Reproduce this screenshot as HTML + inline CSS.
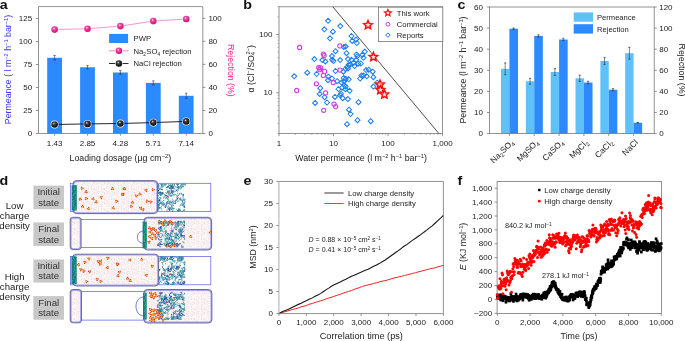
<!DOCTYPE html>
<html><head><meta charset="utf-8"><style>
html,body{margin:0;padding:0;background:#fff;overflow:hidden}
svg{display:block;will-change:transform}
text{font-family:"Liberation Sans", sans-serif}
</style></head><body>
<svg width="685" height="341" viewBox="0 0 685 341" font-family="Liberation Sans, sans-serif">
<rect width="685" height="341" fill="#fff"/>
<rect x="47.20" y="57.78" width="14.80" height="75.72" fill="#2a8afe" />
<line x1="54.60" y1="55.49" x2="54.60" y2="60.08" stroke="#333" stroke-width="0.6" />
<line x1="53.40" y1="55.49" x2="55.80" y2="55.49" stroke="#333" stroke-width="0.6" />
<line x1="53.40" y1="60.08" x2="55.80" y2="60.08" stroke="#333" stroke-width="0.6" />
<rect x="80.10" y="67.26" width="14.80" height="66.24" fill="#2a8afe" />
<line x1="87.50" y1="65.61" x2="87.50" y2="68.91" stroke="#333" stroke-width="0.6" />
<line x1="86.30" y1="65.61" x2="88.70" y2="65.61" stroke="#333" stroke-width="0.6" />
<line x1="86.30" y1="68.91" x2="88.70" y2="68.91" stroke="#333" stroke-width="0.6" />
<rect x="113.00" y="72.50" width="14.80" height="61.00" fill="#2a8afe" />
<line x1="120.40" y1="70.67" x2="120.40" y2="74.34" stroke="#333" stroke-width="0.6" />
<line x1="119.20" y1="70.67" x2="121.60" y2="70.67" stroke="#333" stroke-width="0.6" />
<line x1="119.20" y1="74.34" x2="121.60" y2="74.34" stroke="#333" stroke-width="0.6" />
<rect x="145.90" y="82.90" width="14.80" height="50.60" fill="#2a8afe" />
<line x1="153.30" y1="80.88" x2="153.30" y2="84.92" stroke="#333" stroke-width="0.6" />
<line x1="152.10" y1="80.88" x2="154.50" y2="80.88" stroke="#333" stroke-width="0.6" />
<line x1="152.10" y1="84.92" x2="154.50" y2="84.92" stroke="#333" stroke-width="0.6" />
<rect x="178.80" y="95.78" width="14.80" height="37.72" fill="#2a8afe" />
<line x1="186.20" y1="93.21" x2="186.20" y2="98.35" stroke="#333" stroke-width="0.6" />
<line x1="185.00" y1="93.21" x2="187.40" y2="93.21" stroke="#333" stroke-width="0.6" />
<line x1="185.00" y1="98.35" x2="187.40" y2="98.35" stroke="#333" stroke-width="0.6" />
<path d="M38.5,133.5 V6.6 H202.8 V133.5 H38.5" fill="none" stroke="#777" stroke-width="0.8"/>
<line x1="35.90" y1="133.50" x2="38.50" y2="133.50" stroke="#777" stroke-width="0.8" />
<text transform="translate(32.20,136.11) scale(1.1,1)" font-size="7.3" text-anchor="end" fill="#222" >0</text>
<line x1="35.90" y1="110.50" x2="38.50" y2="110.50" stroke="#777" stroke-width="0.8" />
<text transform="translate(32.20,113.11) scale(1.1,1)" font-size="7.3" text-anchor="end" fill="#222" >25</text>
<line x1="35.90" y1="87.50" x2="38.50" y2="87.50" stroke="#777" stroke-width="0.8" />
<text transform="translate(32.20,90.11) scale(1.1,1)" font-size="7.3" text-anchor="end" fill="#222" >50</text>
<line x1="35.90" y1="64.50" x2="38.50" y2="64.50" stroke="#777" stroke-width="0.8" />
<text transform="translate(32.20,67.11) scale(1.1,1)" font-size="7.3" text-anchor="end" fill="#222" >75</text>
<line x1="35.90" y1="41.50" x2="38.50" y2="41.50" stroke="#777" stroke-width="0.8" />
<text transform="translate(32.20,44.11) scale(1.1,1)" font-size="7.3" text-anchor="end" fill="#222" >100</text>
<line x1="35.90" y1="18.50" x2="38.50" y2="18.50" stroke="#777" stroke-width="0.8" />
<text transform="translate(32.20,21.11) scale(1.1,1)" font-size="7.3" text-anchor="end" fill="#222" >125</text>
<line x1="202.80" y1="133.50" x2="205.40" y2="133.50" stroke="#777" stroke-width="0.8" />
<text transform="translate(208.40,136.11) scale(1.1,1)" font-size="7.3" text-anchor="start" fill="#222" >0</text>
<line x1="202.80" y1="110.46" x2="205.40" y2="110.46" stroke="#777" stroke-width="0.8" />
<text transform="translate(208.40,113.07) scale(1.1,1)" font-size="7.3" text-anchor="start" fill="#222" >20</text>
<line x1="202.80" y1="87.42" x2="205.40" y2="87.42" stroke="#777" stroke-width="0.8" />
<text transform="translate(208.40,90.03) scale(1.1,1)" font-size="7.3" text-anchor="start" fill="#222" >40</text>
<line x1="202.80" y1="64.38" x2="205.40" y2="64.38" stroke="#777" stroke-width="0.8" />
<text transform="translate(208.40,66.99) scale(1.1,1)" font-size="7.3" text-anchor="start" fill="#222" >60</text>
<line x1="202.80" y1="41.34" x2="205.40" y2="41.34" stroke="#777" stroke-width="0.8" />
<text transform="translate(208.40,43.95) scale(1.1,1)" font-size="7.3" text-anchor="start" fill="#222" >80</text>
<line x1="202.80" y1="18.30" x2="205.40" y2="18.30" stroke="#777" stroke-width="0.8" />
<text transform="translate(208.40,20.91) scale(1.1,1)" font-size="7.3" text-anchor="start" fill="#222" >100</text>
<line x1="54.60" y1="133.50" x2="54.60" y2="135.70" stroke="#777" stroke-width="0.8" />
<text transform="translate(54.60,146.01) scale(1.1,1)" font-size="7.3" text-anchor="middle" fill="#222" >1.43</text>
<line x1="87.50" y1="133.50" x2="87.50" y2="135.70" stroke="#777" stroke-width="0.8" />
<text transform="translate(87.50,146.01) scale(1.1,1)" font-size="7.3" text-anchor="middle" fill="#222" >2.85</text>
<line x1="120.40" y1="133.50" x2="120.40" y2="135.70" stroke="#777" stroke-width="0.8" />
<text transform="translate(120.40,146.01) scale(1.1,1)" font-size="7.3" text-anchor="middle" fill="#222" >4.28</text>
<line x1="153.30" y1="133.50" x2="153.30" y2="135.70" stroke="#777" stroke-width="0.8" />
<text transform="translate(153.30,146.01) scale(1.1,1)" font-size="7.3" text-anchor="middle" fill="#222" >5.71</text>
<line x1="186.20" y1="133.50" x2="186.20" y2="135.70" stroke="#777" stroke-width="0.8" />
<text transform="translate(186.20,146.01) scale(1.1,1)" font-size="7.3" text-anchor="middle" fill="#222" >7.14</text>
<polyline points="54.6,29.6 87.5,28.7 120.4,26.1 153.3,21.1 186.2,19.0" fill="none" stroke="#f07cc0" stroke-width="0.8"/>
<polyline points="54.6,124.5 87.5,123.9 120.4,123.5 153.3,122.6 186.2,121.4" fill="none" stroke="#111" stroke-width="0.9"/>
<defs>
<radialGradient id="gp" cx="0.4" cy="0.35" r="0.7"><stop offset="0" stop-color="#fff"/><stop offset="0.25" stop-color="#f04fa8"/><stop offset="1" stop-color="#d0006a"/></radialGradient>
<radialGradient id="gb" cx="0.4" cy="0.35" r="0.7"><stop offset="0" stop-color="#eee"/><stop offset="0.25" stop-color="#444"/><stop offset="1" stop-color="#000"/></radialGradient>
</defs>
<circle cx="54.6" cy="29.6" r="3.3" fill="url(#gp)" stroke="#fff" stroke-width="1.2" paint-order="stroke"/>
<circle cx="87.5" cy="28.7" r="3.3" fill="url(#gp)" stroke="#fff" stroke-width="1.2" paint-order="stroke"/>
<circle cx="120.4" cy="26.1" r="3.3" fill="url(#gp)" stroke="#fff" stroke-width="1.2" paint-order="stroke"/>
<circle cx="153.3" cy="21.1" r="3.3" fill="url(#gp)" stroke="#fff" stroke-width="1.2" paint-order="stroke"/>
<circle cx="186.2" cy="19.0" r="3.3" fill="url(#gp)" stroke="#fff" stroke-width="1.2" paint-order="stroke"/>
<circle cx="54.6" cy="124.5" r="3.3" fill="url(#gb)" stroke="#fff" stroke-width="1.2" paint-order="stroke"/>
<circle cx="87.5" cy="123.9" r="3.3" fill="url(#gb)" stroke="#fff" stroke-width="1.2" paint-order="stroke"/>
<circle cx="120.4" cy="123.5" r="3.3" fill="url(#gb)" stroke="#fff" stroke-width="1.2" paint-order="stroke"/>
<circle cx="153.3" cy="122.6" r="3.3" fill="url(#gb)" stroke="#fff" stroke-width="1.2" paint-order="stroke"/>
<circle cx="186.2" cy="121.4" r="3.3" fill="url(#gb)" stroke="#fff" stroke-width="1.2" paint-order="stroke"/>
<rect x="109.10" y="33.90" width="19.00" height="9.10" fill="#2a8afe" />
<text transform="translate(133.50,41.36) scale(1.0,1)" font-size="7.7" text-anchor="start" fill="#222" >PWP</text>
<line x1="109.00" y1="50.80" x2="128.50" y2="50.80" stroke="#f07cc0" stroke-width="0.9" />
<circle cx="118.9" cy="50.8" r="3.3" fill="url(#gp)" stroke="#fff" stroke-width="1.2" paint-order="stroke"/>
<text x="133.50" y="53.60" font-size="7.7" text-anchor="start" fill="#222" >Na<tspan dy="2.3" font-size="4.8">2</tspan><tspan dy="-2.3" dx="0.3">SO</tspan><tspan dy="2.3" font-size="4.8">4</tspan><tspan dy="-2.3" dx="0.3"> rejection</tspan></text>
<line x1="109.00" y1="63.50" x2="128.50" y2="63.50" stroke="#111" stroke-width="0.9" />
<circle cx="118.9" cy="63.5" r="3.3" fill="url(#gb)" stroke="#fff" stroke-width="1.2" paint-order="stroke"/>
<text x="133.50" y="66.10" font-size="7.7" text-anchor="start" fill="#222" >NaCl rejection</text>
<text transform="translate(11.2,69.5) rotate(-90)" font-size="8.8" text-anchor="middle" fill="#3535f0">Permeance ( l m<tspan dy="-3.3" font-size="5.7">−2</tspan><tspan dy="3.3"> h</tspan><tspan dy="-3.3" font-size="5.7">−1</tspan><tspan dy="3.3"> bar</tspan><tspan dy="-3.3" font-size="5.7">−1</tspan><tspan dy="3.3">)</tspan></text>
<text transform="translate(227.8,70.4) rotate(90)" font-size="8.8" text-anchor="middle" fill="#f0208c">Rejection (%)</text>
<text x="120.3" y="161.2" font-size="8.8" text-anchor="middle" fill="#222">Loading dosage (μg cm<tspan dy="-3.3" font-size="5.7">−2</tspan><tspan dy="3.3">)</tspan></text>
<text transform="translate(-0.2,8.6) scale(1.15,1)" font-size="12.4" font-weight="bold" fill="#111">a</text>
<line x1="295.42" y1="133.40" x2="295.42" y2="134.80" stroke="#777" stroke-width="0.6" />
<line x1="305.02" y1="133.40" x2="305.02" y2="134.80" stroke="#777" stroke-width="0.6" />
<line x1="311.83" y1="133.40" x2="311.83" y2="134.80" stroke="#777" stroke-width="0.6" />
<line x1="317.11" y1="133.40" x2="317.11" y2="134.80" stroke="#777" stroke-width="0.6" />
<line x1="321.43" y1="133.40" x2="321.43" y2="134.80" stroke="#777" stroke-width="0.6" />
<line x1="325.08" y1="133.40" x2="325.08" y2="134.80" stroke="#777" stroke-width="0.6" />
<line x1="328.25" y1="133.40" x2="328.25" y2="134.80" stroke="#777" stroke-width="0.6" />
<line x1="331.03" y1="133.40" x2="331.03" y2="134.80" stroke="#777" stroke-width="0.6" />
<line x1="349.95" y1="133.40" x2="349.95" y2="134.80" stroke="#777" stroke-width="0.6" />
<line x1="359.55" y1="133.40" x2="359.55" y2="134.80" stroke="#777" stroke-width="0.6" />
<line x1="366.36" y1="133.40" x2="366.36" y2="134.80" stroke="#777" stroke-width="0.6" />
<line x1="371.64" y1="133.40" x2="371.64" y2="134.80" stroke="#777" stroke-width="0.6" />
<line x1="375.96" y1="133.40" x2="375.96" y2="134.80" stroke="#777" stroke-width="0.6" />
<line x1="379.61" y1="133.40" x2="379.61" y2="134.80" stroke="#777" stroke-width="0.6" />
<line x1="382.78" y1="133.40" x2="382.78" y2="134.80" stroke="#777" stroke-width="0.6" />
<line x1="385.56" y1="133.40" x2="385.56" y2="134.80" stroke="#777" stroke-width="0.6" />
<line x1="404.48" y1="133.40" x2="404.48" y2="134.80" stroke="#777" stroke-width="0.6" />
<line x1="414.08" y1="133.40" x2="414.08" y2="134.80" stroke="#777" stroke-width="0.6" />
<line x1="420.89" y1="133.40" x2="420.89" y2="134.80" stroke="#777" stroke-width="0.6" />
<line x1="426.17" y1="133.40" x2="426.17" y2="134.80" stroke="#777" stroke-width="0.6" />
<line x1="430.49" y1="133.40" x2="430.49" y2="134.80" stroke="#777" stroke-width="0.6" />
<line x1="434.14" y1="133.40" x2="434.14" y2="134.80" stroke="#777" stroke-width="0.6" />
<line x1="437.31" y1="133.40" x2="437.31" y2="134.80" stroke="#777" stroke-width="0.6" />
<line x1="440.09" y1="133.40" x2="440.09" y2="134.80" stroke="#777" stroke-width="0.6" />
<line x1="279.00" y1="133.40" x2="279.00" y2="136.20" stroke="#777" stroke-width="0.8" />
<line x1="333.53" y1="133.40" x2="333.53" y2="136.20" stroke="#777" stroke-width="0.8" />
<line x1="388.06" y1="133.40" x2="388.06" y2="136.20" stroke="#777" stroke-width="0.8" />
<line x1="442.59" y1="133.40" x2="442.59" y2="136.20" stroke="#777" stroke-width="0.8" />
<line x1="277.60" y1="133.55" x2="279.00" y2="133.55" stroke="#777" stroke-width="0.6" />
<line x1="277.60" y1="123.28" x2="279.00" y2="123.28" stroke="#777" stroke-width="0.6" />
<line x1="277.60" y1="116.00" x2="279.00" y2="116.00" stroke="#777" stroke-width="0.6" />
<line x1="277.60" y1="110.35" x2="279.00" y2="110.35" stroke="#777" stroke-width="0.6" />
<line x1="277.60" y1="105.73" x2="279.00" y2="105.73" stroke="#777" stroke-width="0.6" />
<line x1="277.60" y1="101.83" x2="279.00" y2="101.83" stroke="#777" stroke-width="0.6" />
<line x1="277.60" y1="98.45" x2="279.00" y2="98.45" stroke="#777" stroke-width="0.6" />
<line x1="277.60" y1="95.47" x2="279.00" y2="95.47" stroke="#777" stroke-width="0.6" />
<line x1="277.60" y1="75.25" x2="279.00" y2="75.25" stroke="#777" stroke-width="0.6" />
<line x1="277.60" y1="64.98" x2="279.00" y2="64.98" stroke="#777" stroke-width="0.6" />
<line x1="277.60" y1="57.70" x2="279.00" y2="57.70" stroke="#777" stroke-width="0.6" />
<line x1="277.60" y1="52.05" x2="279.00" y2="52.05" stroke="#777" stroke-width="0.6" />
<line x1="277.60" y1="47.43" x2="279.00" y2="47.43" stroke="#777" stroke-width="0.6" />
<line x1="277.60" y1="43.53" x2="279.00" y2="43.53" stroke="#777" stroke-width="0.6" />
<line x1="277.60" y1="40.15" x2="279.00" y2="40.15" stroke="#777" stroke-width="0.6" />
<line x1="277.60" y1="37.17" x2="279.00" y2="37.17" stroke="#777" stroke-width="0.6" />
<line x1="277.60" y1="16.95" x2="279.00" y2="16.95" stroke="#777" stroke-width="0.6" />
<line x1="277.60" y1="6.68" x2="279.00" y2="6.68" stroke="#777" stroke-width="0.6" />
<line x1="276.20" y1="92.80" x2="279.00" y2="92.80" stroke="#777" stroke-width="0.8" />
<text transform="translate(272.50,95.41) scale(1.1,1)" font-size="7.3" text-anchor="end" fill="#222" >10</text>
<line x1="276.20" y1="34.50" x2="279.00" y2="34.50" stroke="#777" stroke-width="0.8" />
<text transform="translate(272.50,37.11) scale(1.1,1)" font-size="7.3" text-anchor="end" fill="#222" >100</text>
<text transform="translate(279.00,145.91) scale(1.1,1)" font-size="7.3" text-anchor="middle" fill="#222" >1</text>
<text transform="translate(333.53,145.91) scale(1.1,1)" font-size="7.3" text-anchor="middle" fill="#222" >10</text>
<text transform="translate(388.06,145.91) scale(1.1,1)" font-size="7.3" text-anchor="middle" fill="#222" >100</text>
<text transform="translate(442.59,145.91) scale(1.1,1)" font-size="7.3" text-anchor="middle" fill="#222" >1,000</text>
<rect x="279.0" y="6.8" width="163.60" height="126.60" fill="none" stroke="#777" stroke-width="0.8"/>
<line x1="332.8" y1="6.8" x2="438.8" y2="133.4" stroke="#222" stroke-width="0.8"/>
<path d="M328.1,18.3 L330.6,20.8 L328.1,23.3 L325.6,20.8 Z" fill="none" stroke="#1e7ff0" stroke-width="1.05"/>
<path d="M324.4,26.8 L326.9,29.3 L324.4,31.8 L321.9,29.3 Z" fill="none" stroke="#1e7ff0" stroke-width="1.05"/>
<path d="M332.9,29.2 L335.4,31.7 L332.9,34.2 L330.4,31.7 Z" fill="none" stroke="#1e7ff0" stroke-width="1.05"/>
<path d="M330.0,35.8 L332.5,38.3 L330.0,40.8 L327.5,38.3 Z" fill="none" stroke="#1e7ff0" stroke-width="1.05"/>
<path d="M343.8,44.4 L346.3,46.9 L343.8,49.4 L341.3,46.9 Z" fill="none" stroke="#1e7ff0" stroke-width="1.05"/>
<path d="M335.5,48.7 L338.0,51.2 L335.5,53.7 L333.0,51.2 Z" fill="none" stroke="#1e7ff0" stroke-width="1.05"/>
<path d="M346.5,50.7 L349.0,53.2 L346.5,55.7 L344.0,53.2 Z" fill="none" stroke="#1e7ff0" stroke-width="1.05"/>
<path d="M314.4,56.6 L316.9,59.1 L314.4,61.6 L311.9,59.1 Z" fill="none" stroke="#1e7ff0" stroke-width="1.05"/>
<path d="M332.0,53.6 L334.5,56.1 L332.0,58.6 L329.5,56.1 Z" fill="none" stroke="#1e7ff0" stroke-width="1.05"/>
<path d="M322.3,57.6 L324.8,60.1 L322.3,62.6 L319.8,60.1 Z" fill="none" stroke="#1e7ff0" stroke-width="1.05"/>
<path d="M325.4,58.9 L327.9,61.4 L325.4,63.9 L322.9,61.4 Z" fill="none" stroke="#1e7ff0" stroke-width="1.05"/>
<path d="M332.2,57.3 L334.7,59.8 L332.2,62.3 L329.7,59.8 Z" fill="none" stroke="#1e7ff0" stroke-width="1.05"/>
<path d="M340.1,57.6 L342.6,60.1 L340.1,62.6 L337.6,60.1 Z" fill="none" stroke="#1e7ff0" stroke-width="1.05"/>
<path d="M348.0,56.6 L350.5,59.1 L348.0,61.6 L345.5,59.1 Z" fill="none" stroke="#1e7ff0" stroke-width="1.05"/>
<path d="M307.2,70.2 L309.7,72.7 L307.2,75.2 L304.7,72.7 Z" fill="none" stroke="#1e7ff0" stroke-width="1.05"/>
<path d="M294.2,73.8 L296.7,76.3 L294.2,78.8 L291.7,76.3 Z" fill="none" stroke="#1e7ff0" stroke-width="1.05"/>
<path d="M316.6,71.5 L319.1,74.0 L316.6,76.5 L314.1,74.0 Z" fill="none" stroke="#1e7ff0" stroke-width="1.05"/>
<path d="M335.5,68.5 L338.0,71.0 L335.5,73.5 L333.0,71.0 Z" fill="none" stroke="#1e7ff0" stroke-width="1.05"/>
<path d="M343.4,69.2 L345.9,71.7 L343.4,74.2 L340.9,71.7 Z" fill="none" stroke="#1e7ff0" stroke-width="1.05"/>
<path d="M345.4,66.5 L347.9,69.0 L345.4,71.5 L342.9,69.0 Z" fill="none" stroke="#1e7ff0" stroke-width="1.05"/>
<path d="M348.0,65.9 L350.5,68.4 L348.0,70.9 L345.5,68.4 Z" fill="none" stroke="#1e7ff0" stroke-width="1.05"/>
<path d="M348.7,62.3 L351.2,64.8 L348.7,67.3 L346.2,64.8 Z" fill="none" stroke="#1e7ff0" stroke-width="1.05"/>
<path d="M328.3,74.2 L330.8,76.7 L328.3,79.2 L325.8,76.7 Z" fill="none" stroke="#1e7ff0" stroke-width="1.05"/>
<path d="M328.0,77.7 L330.5,80.2 L328.0,82.7 L325.5,80.2 Z" fill="none" stroke="#1e7ff0" stroke-width="1.05"/>
<path d="M332.0,76.0 L334.5,78.5 L332.0,81.0 L329.5,78.5 Z" fill="none" stroke="#1e7ff0" stroke-width="1.05"/>
<path d="M337.2,78.7 L339.7,81.2 L337.2,83.7 L334.7,81.2 Z" fill="none" stroke="#1e7ff0" stroke-width="1.05"/>
<path d="M341.5,80.0 L344.0,82.5 L341.5,85.0 L339.0,82.5 Z" fill="none" stroke="#1e7ff0" stroke-width="1.05"/>
<path d="M343.8,75.5 L346.3,78.0 L343.8,80.5 L341.3,78.0 Z" fill="none" stroke="#1e7ff0" stroke-width="1.05"/>
<path d="M344.1,79.1 L346.6,81.6 L344.1,84.1 L341.6,81.6 Z" fill="none" stroke="#1e7ff0" stroke-width="1.05"/>
<path d="M348.7,76.8 L351.2,79.3 L348.7,81.8 L346.2,79.3 Z" fill="none" stroke="#1e7ff0" stroke-width="1.05"/>
<path d="M340.3,23.6 L342.8,26.1 L340.3,28.6 L337.8,26.1 Z" fill="none" stroke="#1e7ff0" stroke-width="1.05"/>
<path d="M351.5,33.5 L354.0,36.0 L351.5,38.5 L349.0,36.0 Z" fill="none" stroke="#1e7ff0" stroke-width="1.05"/>
<path d="M352.2,38.4 L354.7,40.9 L352.2,43.4 L349.7,40.9 Z" fill="none" stroke="#1e7ff0" stroke-width="1.05"/>
<path d="M356.1,37.1 L358.6,39.6 L356.1,42.1 L353.6,39.6 Z" fill="none" stroke="#1e7ff0" stroke-width="1.05"/>
<path d="M356.8,40.5 L359.3,43.0 L356.8,45.5 L354.3,43.0 Z" fill="none" stroke="#1e7ff0" stroke-width="1.05"/>
<path d="M345.7,44.1 L348.2,46.6 L345.7,49.1 L343.2,46.6 Z" fill="none" stroke="#1e7ff0" stroke-width="1.05"/>
<path d="M356.6,52.0 L359.1,54.5 L356.6,57.0 L354.1,54.5 Z" fill="none" stroke="#1e7ff0" stroke-width="1.05"/>
<path d="M364.8,49.1 L367.3,51.6 L364.8,54.1 L362.3,51.6 Z" fill="none" stroke="#1e7ff0" stroke-width="1.05"/>
<path d="M362.4,52.3 L364.9,54.8 L362.4,57.3 L359.9,54.8 Z" fill="none" stroke="#1e7ff0" stroke-width="1.05"/>
<path d="M363.5,55.3 L366.0,57.8 L363.5,60.3 L361.0,57.8 Z" fill="none" stroke="#1e7ff0" stroke-width="1.05"/>
<path d="M351.6,57.3 L354.1,59.8 L351.6,62.3 L349.1,59.8 Z" fill="none" stroke="#1e7ff0" stroke-width="1.05"/>
<path d="M356.2,57.3 L358.7,59.8 L356.2,62.3 L353.7,59.8 Z" fill="none" stroke="#1e7ff0" stroke-width="1.05"/>
<path d="M358.2,61.2 L360.7,63.7 L358.2,66.2 L355.7,63.7 Z" fill="none" stroke="#1e7ff0" stroke-width="1.05"/>
<path d="M360.8,61.0 L363.3,63.5 L360.8,66.0 L358.3,63.5 Z" fill="none" stroke="#1e7ff0" stroke-width="1.05"/>
<path d="M354.5,63.6 L357.0,66.1 L354.5,68.6 L352.0,66.1 Z" fill="none" stroke="#1e7ff0" stroke-width="1.05"/>
<path d="M366.1,67.6 L368.6,70.1 L366.1,72.6 L363.6,70.1 Z" fill="none" stroke="#1e7ff0" stroke-width="1.05"/>
<path d="M368.7,67.2 L371.2,69.7 L368.7,72.2 L366.2,69.7 Z" fill="none" stroke="#1e7ff0" stroke-width="1.05"/>
<path d="M372.7,69.2 L375.2,71.7 L372.7,74.2 L370.2,71.7 Z" fill="none" stroke="#1e7ff0" stroke-width="1.05"/>
<path d="M361.5,73.1 L364.0,75.6 L361.5,78.1 L359.0,75.6 Z" fill="none" stroke="#1e7ff0" stroke-width="1.05"/>
<path d="M363.5,72.9 L366.0,75.4 L363.5,77.9 L361.0,75.4 Z" fill="none" stroke="#1e7ff0" stroke-width="1.05"/>
<path d="M366.8,73.8 L369.3,76.3 L366.8,78.8 L364.3,76.3 Z" fill="none" stroke="#1e7ff0" stroke-width="1.05"/>
<path d="M360.2,76.0 L362.7,78.5 L360.2,81.0 L357.7,78.5 Z" fill="none" stroke="#1e7ff0" stroke-width="1.05"/>
<path d="M373.4,74.7 L375.9,77.2 L373.4,79.7 L370.9,77.2 Z" fill="none" stroke="#1e7ff0" stroke-width="1.05"/>
<path d="M345.7,76.4 L348.2,78.9 L345.7,81.4 L343.2,78.9 Z" fill="none" stroke="#1e7ff0" stroke-width="1.05"/>
<path d="M373.4,84.1 L375.9,86.6 L373.4,89.1 L370.9,86.6 Z" fill="none" stroke="#1e7ff0" stroke-width="1.05"/>
<path d="M349.6,88.3 L352.1,90.8 L349.6,93.3 L347.1,90.8 Z" fill="none" stroke="#1e7ff0" stroke-width="1.05"/>
<path d="M345.7,84.1 L348.2,86.6 L345.7,89.1 L343.2,86.6 Z" fill="none" stroke="#1e7ff0" stroke-width="1.05"/>
<path d="M347.9,96.6 L350.4,99.1 L347.9,101.6 L345.4,99.1 Z" fill="none" stroke="#1e7ff0" stroke-width="1.05"/>
<path d="M358.5,99.7 L361.0,102.2 L358.5,104.7 L356.0,102.2 Z" fill="none" stroke="#1e7ff0" stroke-width="1.05"/>
<path d="M349.0,107.2 L351.5,109.7 L349.0,112.2 L346.5,109.7 Z" fill="none" stroke="#1e7ff0" stroke-width="1.05"/>
<path d="M350.5,111.5 L353.0,114.0 L350.5,116.5 L348.0,114.0 Z" fill="none" stroke="#1e7ff0" stroke-width="1.05"/>
<path d="M357.5,117.7 L360.0,120.2 L357.5,122.7 L355.0,120.2 Z" fill="none" stroke="#1e7ff0" stroke-width="1.05"/>
<path d="M370.7,118.7 L373.2,121.2 L370.7,123.7 L368.2,121.2 Z" fill="none" stroke="#1e7ff0" stroke-width="1.05"/>
<path d="M347.0,121.7 L349.5,124.2 L347.0,126.7 L344.5,124.2 Z" fill="none" stroke="#1e7ff0" stroke-width="1.05"/>
<path d="M315.1,100.4 L317.6,102.9 L315.1,105.4 L312.6,102.9 Z" fill="none" stroke="#1e7ff0" stroke-width="1.05"/>
<path d="M327.0,100.0 L329.5,102.5 L327.0,105.0 L324.5,102.5 Z" fill="none" stroke="#1e7ff0" stroke-width="1.05"/>
<path d="M320.3,85.7 L322.8,88.2 L320.3,90.7 L317.8,88.2 Z" fill="none" stroke="#1e7ff0" stroke-width="1.05"/>
<path d="M319.7,91.4 L322.2,93.9 L319.7,96.4 L317.2,93.9 Z" fill="none" stroke="#1e7ff0" stroke-width="1.05"/>
<path d="M324.6,94.7 L327.1,97.2 L324.6,99.7 L322.1,97.2 Z" fill="none" stroke="#1e7ff0" stroke-width="1.05"/>
<path d="M334.9,94.4 L337.4,96.9 L334.9,99.4 L332.4,96.9 Z" fill="none" stroke="#1e7ff0" stroke-width="1.05"/>
<path d="M340.1,92.7 L342.6,95.2 L340.1,97.7 L337.6,95.2 Z" fill="none" stroke="#1e7ff0" stroke-width="1.05"/>
<path d="M342.8,95.7 L345.3,98.2 L342.8,100.7 L340.3,98.2 Z" fill="none" stroke="#1e7ff0" stroke-width="1.05"/>
<path d="M338.5,86.5 L341.0,89.0 L338.5,91.5 L336.0,89.0 Z" fill="none" stroke="#1e7ff0" stroke-width="1.05"/>
<path d="M342.1,85.2 L344.6,87.7 L342.1,90.2 L339.6,87.7 Z" fill="none" stroke="#1e7ff0" stroke-width="1.05"/>
<path d="M345.4,86.7 L347.9,89.2 L345.4,91.7 L342.9,89.2 Z" fill="none" stroke="#1e7ff0" stroke-width="1.05"/>
<path d="M344.4,82.8 L346.9,85.3 L344.4,87.8 L341.9,85.3 Z" fill="none" stroke="#1e7ff0" stroke-width="1.05"/>
<path d="M333.5,58.6 L336.0,61.1 L333.5,63.6 L331.0,61.1 Z" fill="none" stroke="#1e7ff0" stroke-width="1.05"/>
<path d="M357.3,53.7 L359.8,56.2 L357.3,58.7 L354.8,56.2 Z" fill="none" stroke="#1e7ff0" stroke-width="1.05"/>
<path d="M353.5,60.5 L356.0,63.0 L353.5,65.5 L351.0,63.0 Z" fill="none" stroke="#1e7ff0" stroke-width="1.05"/>
<path d="M350.3,61.9 L352.8,64.4 L350.3,66.9 L347.8,64.4 Z" fill="none" stroke="#1e7ff0" stroke-width="1.05"/>
<path d="M347.2,64.5 L349.7,67.0 L347.2,69.5 L344.7,67.0 Z" fill="none" stroke="#1e7ff0" stroke-width="1.05"/>
<path d="M340.9,91.2 L343.4,93.7 L340.9,96.2 L338.4,93.7 Z" fill="none" stroke="#1e7ff0" stroke-width="1.05"/>
<path d="M377.1,80.2 L379.6,82.7 L377.1,85.2 L374.6,82.7 Z" fill="none" stroke="#1e7ff0" stroke-width="1.05"/>
<circle cx="299.6" cy="47.5" r="2.1" fill="none" stroke="#d03ce8" stroke-width="1.1"/>
<circle cx="323.4" cy="54.1" r="2.1" fill="none" stroke="#d03ce8" stroke-width="1.1"/>
<circle cx="339.9" cy="45.9" r="2.1" fill="none" stroke="#d03ce8" stroke-width="1.1"/>
<circle cx="318.8" cy="67.7" r="2.1" fill="none" stroke="#d03ce8" stroke-width="1.1"/>
<circle cx="319.7" cy="69.7" r="2.1" fill="none" stroke="#d03ce8" stroke-width="1.1"/>
<circle cx="324.6" cy="71.4" r="2.1" fill="none" stroke="#d03ce8" stroke-width="1.1"/>
<circle cx="323.4" cy="75.4" r="2.1" fill="none" stroke="#d03ce8" stroke-width="1.1"/>
<circle cx="339.9" cy="70.1" r="2.1" fill="none" stroke="#d03ce8" stroke-width="1.1"/>
<circle cx="316.4" cy="83.8" r="2.1" fill="none" stroke="#d03ce8" stroke-width="1.1"/>
<circle cx="333.3" cy="82.5" r="2.1" fill="none" stroke="#d03ce8" stroke-width="1.1"/>
<circle cx="323.7" cy="110.3" r="2.1" fill="none" stroke="#d03ce8" stroke-width="1.1"/>
<circle cx="334.0" cy="104.1" r="2.1" fill="none" stroke="#d03ce8" stroke-width="1.1"/>
<circle cx="335.6" cy="106.6" r="2.1" fill="none" stroke="#d03ce8" stroke-width="1.1"/>
<circle cx="296.7" cy="90.5" r="2.1" fill="none" stroke="#d03ce8" stroke-width="1.1"/>
<circle cx="325.6" cy="92.9" r="2.1" fill="none" stroke="#d03ce8" stroke-width="1.1"/>
<circle cx="324.1" cy="55.6" r="2.1" fill="none" stroke="#d03ce8" stroke-width="1.1"/>
<circle cx="320.6" cy="67.9" r="2.1" fill="none" stroke="#d03ce8" stroke-width="1.1"/>
<path d="M368.00,20.60 L369.23,23.40 L372.28,23.71 L370.00,25.75 L370.65,28.74 L368.00,27.20 L365.35,28.74 L366.00,25.75 L363.72,23.71 L366.77,23.40 Z" fill="#ffe0e0" stroke="#ff1010" stroke-width="1.5" stroke-linejoin="miter"/>
<path d="M373.40,52.40 L374.63,55.20 L377.68,55.51 L375.40,57.55 L376.05,60.54 L373.40,59.00 L370.75,60.54 L371.40,57.55 L369.12,55.51 L372.17,55.20 Z" fill="#ffe0e0" stroke="#ff1010" stroke-width="1.5" stroke-linejoin="miter"/>
<path d="M380.00,80.00 L381.23,82.80 L384.28,83.11 L382.00,85.15 L382.65,88.14 L380.00,86.60 L377.35,88.14 L378.00,85.15 L375.72,83.11 L378.77,82.80 Z" fill="#ffe0e0" stroke="#ff1010" stroke-width="1.5" stroke-linejoin="miter"/>
<path d="M380.40,85.50 L381.63,88.30 L384.68,88.61 L382.40,90.65 L383.05,93.64 L380.40,92.10 L377.75,93.64 L378.40,90.65 L376.12,88.61 L379.17,88.30 Z" fill="#ffe0e0" stroke="#ff1010" stroke-width="1.5" stroke-linejoin="miter"/>
<path d="M384.40,89.90 L385.63,92.70 L388.68,93.01 L386.40,95.05 L387.05,98.04 L384.40,96.50 L381.75,98.04 L382.40,95.05 L380.12,93.01 L383.17,92.70 Z" fill="#ffe0e0" stroke="#ff1010" stroke-width="1.5" stroke-linejoin="miter"/>
<rect x="378.4" y="7.2" width="64.4" height="34.4" fill="#fff" stroke="#777" stroke-width="0.8"/>
<path d="M387.90,9.50 L388.84,11.71 L391.23,11.92 L389.42,13.49 L389.96,15.83 L387.90,14.60 L385.84,15.83 L386.38,13.49 L384.57,11.92 L386.96,11.71 Z" fill="#fff" stroke="#ff1010" stroke-width="1.2"/>
<circle cx="387.9" cy="24.2" r="1.9" fill="none" stroke="#d03ce8" stroke-width="1.0"/>
<path d="M387.9,32.9 L390.1,35.1 L387.9,37.3 L385.7,35.1 Z" fill="none" stroke="#1e7ff0" stroke-width="1.0"/>
<text transform="translate(396.80,15.96) scale(1.0,1)" font-size="7.7" text-anchor="start" fill="#222" >This work</text>
<text transform="translate(396.80,27.16) scale(1.0,1)" font-size="7.7" text-anchor="start" fill="#222" >Commercial</text>
<text transform="translate(396.80,38.16) scale(1.0,1)" font-size="7.7" text-anchor="start" fill="#222" >Reports</text>
<text transform="translate(253.6,68.8) rotate(-90)" font-size="8.8" text-anchor="middle" fill="#222">α (Cl<tspan dy="-3.3" font-size="5.7">−</tspan><tspan dy="3.3">/SO</tspan><tspan dy="1.8" font-size="5.7">4</tspan><tspan dx="-2.6" dy="-5.2" font-size="5.7">2−</tspan><tspan dy="3.4">)</tspan></text>
<text x="361" y="161.2" font-size="8.8" text-anchor="middle" fill="#222">Water permeance (l m<tspan dy="-3.3" font-size="5.7">−2</tspan><tspan dy="3.3"> h</tspan><tspan dy="-3.3" font-size="5.7">−1</tspan><tspan dy="3.3"> bar</tspan><tspan dy="-3.3" font-size="5.7">−1</tspan><tspan dy="3.3">)</tspan></text>
<text transform="translate(243.3,8.8) scale(1.15,1)" font-size="12.4" font-weight="bold" fill="#111">b</text>
<rect x="501.00" y="68.82" width="8.40" height="64.78" fill="#60c0f8" />
<rect x="509.40" y="28.73" width="8.60" height="104.87" fill="#2c8afd" />
<rect x="525.84" y="81.27" width="8.40" height="52.33" fill="#60c0f8" />
<rect x="534.24" y="35.91" width="8.60" height="97.69" fill="#2c8afd" />
<rect x="550.68" y="71.99" width="8.40" height="61.61" fill="#60c0f8" />
<rect x="559.08" y="39.49" width="8.60" height="94.11" fill="#2c8afd" />
<rect x="575.52" y="78.32" width="8.40" height="55.28" fill="#60c0f8" />
<rect x="583.92" y="82.54" width="8.60" height="51.06" fill="#2c8afd" />
<rect x="600.36" y="61.02" width="8.40" height="72.58" fill="#60c0f8" />
<rect x="608.76" y="89.71" width="8.60" height="43.89" fill="#2c8afd" />
<rect x="625.20" y="53.21" width="8.40" height="80.39" fill="#60c0f8" />
<rect x="633.60" y="122.73" width="8.60" height="10.87" fill="#2c8afd" />
<line x1="505.20" y1="62.92" x2="505.20" y2="74.73" stroke="#333" stroke-width="0.6" />
<line x1="504.10" y1="62.92" x2="506.30" y2="62.92" stroke="#333" stroke-width="0.7" />
<line x1="504.10" y1="74.73" x2="506.30" y2="74.73" stroke="#333" stroke-width="0.7" />
<line x1="513.60" y1="28.10" x2="513.60" y2="29.37" stroke="#333" stroke-width="0.6" />
<line x1="512.50" y1="28.10" x2="514.70" y2="28.10" stroke="#333" stroke-width="0.7" />
<line x1="512.50" y1="29.37" x2="514.70" y2="29.37" stroke="#333" stroke-width="0.7" />
<line x1="530.04" y1="78.32" x2="530.04" y2="84.23" stroke="#333" stroke-width="0.6" />
<line x1="528.94" y1="78.32" x2="531.14" y2="78.32" stroke="#333" stroke-width="0.7" />
<line x1="528.94" y1="84.23" x2="531.14" y2="84.23" stroke="#333" stroke-width="0.7" />
<line x1="538.44" y1="34.85" x2="538.44" y2="36.96" stroke="#333" stroke-width="0.6" />
<line x1="537.34" y1="34.85" x2="539.54" y2="34.85" stroke="#333" stroke-width="0.7" />
<line x1="537.34" y1="36.96" x2="539.54" y2="36.96" stroke="#333" stroke-width="0.7" />
<line x1="554.88" y1="68.61" x2="554.88" y2="75.36" stroke="#333" stroke-width="0.6" />
<line x1="553.78" y1="68.61" x2="555.98" y2="68.61" stroke="#333" stroke-width="0.7" />
<line x1="553.78" y1="75.36" x2="555.98" y2="75.36" stroke="#333" stroke-width="0.7" />
<line x1="563.28" y1="38.23" x2="563.28" y2="40.76" stroke="#333" stroke-width="0.6" />
<line x1="562.18" y1="38.23" x2="564.38" y2="38.23" stroke="#333" stroke-width="0.7" />
<line x1="562.18" y1="40.76" x2="564.38" y2="40.76" stroke="#333" stroke-width="0.7" />
<line x1="579.72" y1="75.15" x2="579.72" y2="81.48" stroke="#333" stroke-width="0.6" />
<line x1="578.62" y1="75.15" x2="580.82" y2="75.15" stroke="#333" stroke-width="0.7" />
<line x1="578.62" y1="81.48" x2="580.82" y2="81.48" stroke="#333" stroke-width="0.7" />
<line x1="588.12" y1="81.27" x2="588.12" y2="83.80" stroke="#333" stroke-width="0.6" />
<line x1="587.02" y1="81.27" x2="589.22" y2="81.27" stroke="#333" stroke-width="0.7" />
<line x1="587.02" y1="83.80" x2="589.22" y2="83.80" stroke="#333" stroke-width="0.7" />
<line x1="604.56" y1="57.64" x2="604.56" y2="64.39" stroke="#333" stroke-width="0.6" />
<line x1="603.46" y1="57.64" x2="605.66" y2="57.64" stroke="#333" stroke-width="0.7" />
<line x1="603.46" y1="64.39" x2="605.66" y2="64.39" stroke="#333" stroke-width="0.7" />
<line x1="612.96" y1="88.66" x2="612.96" y2="90.77" stroke="#333" stroke-width="0.6" />
<line x1="611.86" y1="88.66" x2="614.06" y2="88.66" stroke="#333" stroke-width="0.7" />
<line x1="611.86" y1="90.77" x2="614.06" y2="90.77" stroke="#333" stroke-width="0.7" />
<line x1="629.40" y1="47.30" x2="629.40" y2="59.12" stroke="#333" stroke-width="0.6" />
<line x1="628.30" y1="47.30" x2="630.50" y2="47.30" stroke="#333" stroke-width="0.7" />
<line x1="628.30" y1="59.12" x2="630.50" y2="59.12" stroke="#333" stroke-width="0.7" />
<line x1="637.80" y1="122.31" x2="637.80" y2="123.16" stroke="#333" stroke-width="0.6" />
<line x1="636.70" y1="122.31" x2="638.90" y2="122.31" stroke="#333" stroke-width="0.7" />
<line x1="636.70" y1="123.16" x2="638.90" y2="123.16" stroke="#333" stroke-width="0.7" />
<rect x="489.4" y="7.0" width="164.80" height="126.60" fill="none" stroke="#777" stroke-width="0.8"/>
<line x1="486.80" y1="133.60" x2="489.40" y2="133.60" stroke="#777" stroke-width="0.8" />
<text transform="translate(482.90,136.21) scale(1.1,1)" font-size="7.3" text-anchor="end" fill="#222" >0</text>
<line x1="486.80" y1="112.50" x2="489.40" y2="112.50" stroke="#777" stroke-width="0.8" />
<text transform="translate(482.90,115.11) scale(1.1,1)" font-size="7.3" text-anchor="end" fill="#222" >10</text>
<line x1="486.80" y1="91.40" x2="489.40" y2="91.40" stroke="#777" stroke-width="0.8" />
<text transform="translate(482.90,94.01) scale(1.1,1)" font-size="7.3" text-anchor="end" fill="#222" >20</text>
<line x1="486.80" y1="70.30" x2="489.40" y2="70.30" stroke="#777" stroke-width="0.8" />
<text transform="translate(482.90,72.91) scale(1.1,1)" font-size="7.3" text-anchor="end" fill="#222" >30</text>
<line x1="486.80" y1="49.20" x2="489.40" y2="49.20" stroke="#777" stroke-width="0.8" />
<text transform="translate(482.90,51.81) scale(1.1,1)" font-size="7.3" text-anchor="end" fill="#222" >40</text>
<line x1="486.80" y1="28.10" x2="489.40" y2="28.10" stroke="#777" stroke-width="0.8" />
<text transform="translate(482.90,30.71) scale(1.1,1)" font-size="7.3" text-anchor="end" fill="#222" >50</text>
<line x1="486.80" y1="7.00" x2="489.40" y2="7.00" stroke="#777" stroke-width="0.8" />
<text transform="translate(482.90,9.61) scale(1.1,1)" font-size="7.3" text-anchor="end" fill="#222" >60</text>
<line x1="654.20" y1="133.60" x2="656.80" y2="133.60" stroke="#777" stroke-width="0.8" />
<text transform="translate(659.20,136.21) scale(1.1,1)" font-size="7.3" text-anchor="start" fill="#222" >0</text>
<line x1="654.20" y1="112.50" x2="656.80" y2="112.50" stroke="#777" stroke-width="0.8" />
<text transform="translate(659.20,115.11) scale(1.1,1)" font-size="7.3" text-anchor="start" fill="#222" >20</text>
<line x1="654.20" y1="91.40" x2="656.80" y2="91.40" stroke="#777" stroke-width="0.8" />
<text transform="translate(659.20,94.01) scale(1.1,1)" font-size="7.3" text-anchor="start" fill="#222" >40</text>
<line x1="654.20" y1="70.30" x2="656.80" y2="70.30" stroke="#777" stroke-width="0.8" />
<text transform="translate(659.20,72.91) scale(1.1,1)" font-size="7.3" text-anchor="start" fill="#222" >60</text>
<line x1="654.20" y1="49.20" x2="656.80" y2="49.20" stroke="#777" stroke-width="0.8" />
<text transform="translate(659.20,51.81) scale(1.1,1)" font-size="7.3" text-anchor="start" fill="#222" >80</text>
<line x1="654.20" y1="28.10" x2="656.80" y2="28.10" stroke="#777" stroke-width="0.8" />
<text transform="translate(659.20,30.71) scale(1.1,1)" font-size="7.3" text-anchor="start" fill="#222" >100</text>
<line x1="654.20" y1="7.00" x2="656.80" y2="7.00" stroke="#777" stroke-width="0.8" />
<text transform="translate(659.20,9.61) scale(1.1,1)" font-size="7.3" text-anchor="start" fill="#222" >120</text>
<line x1="509.40" y1="133.60" x2="509.40" y2="136.00" stroke="#777" stroke-width="0.8" />
<text transform="translate(514.40,143.00) rotate(-45)" font-size="8.4" text-anchor="end" fill="#222">Na<tspan dy="1.9" font-size="5.8">2</tspan><tspan dy="-1.9">SO</tspan><tspan dy="1.9" font-size="5.8">4</tspan></text>
<line x1="534.24" y1="133.60" x2="534.24" y2="136.00" stroke="#777" stroke-width="0.8" />
<text transform="translate(539.24,143.00) rotate(-45)" font-size="8.4" text-anchor="end" fill="#222">MgSO<tspan dy="1.9" font-size="5.8">4</tspan></text>
<line x1="559.08" y1="133.60" x2="559.08" y2="136.00" stroke="#777" stroke-width="0.8" />
<text transform="translate(564.08,143.00) rotate(-45)" font-size="8.4" text-anchor="end" fill="#222">CaSO<tspan dy="1.9" font-size="5.8">4</tspan></text>
<line x1="583.92" y1="133.60" x2="583.92" y2="136.00" stroke="#777" stroke-width="0.8" />
<text transform="translate(588.92,143.00) rotate(-45)" font-size="8.4" text-anchor="end" fill="#222">MgCl<tspan dy="1.9" font-size="5.8">2</tspan></text>
<line x1="608.76" y1="133.60" x2="608.76" y2="136.00" stroke="#777" stroke-width="0.8" />
<text transform="translate(613.76,143.00) rotate(-45)" font-size="8.4" text-anchor="end" fill="#222">CaCl<tspan dy="1.9" font-size="5.8">2</tspan></text>
<line x1="633.60" y1="133.60" x2="633.60" y2="136.00" stroke="#777" stroke-width="0.8" />
<text transform="translate(638.60,143.00) rotate(-45)" font-size="8.4" text-anchor="end" fill="#222">NaCl</text>
<rect x="573.70" y="12.40" width="19.30" height="9.30" fill="#60c0f8" />
<rect x="573.70" y="24.20" width="19.30" height="9.40" fill="#2c8afd" />
<text transform="translate(597.00,20.22) scale(1.0,1)" font-size="7.6" text-anchor="start" fill="#222" >Permeance</text>
<text transform="translate(597.00,32.02) scale(1.0,1)" font-size="7.6" text-anchor="start" fill="#222" >Rejection</text>
<text transform="translate(466.2,70) rotate(-90)" font-size="8.8" text-anchor="middle" fill="#222">Permeance (l m<tspan dy="-3.3" font-size="5.7">−2</tspan><tspan dy="3.3"> h</tspan><tspan dy="-3.3" font-size="5.7">−1</tspan><tspan dy="3.3"> bar</tspan><tspan dy="-3.3" font-size="5.7">−1</tspan><tspan dy="3.3">)</tspan></text>
<text transform="translate(678.5,70) rotate(90)" font-size="8.8" text-anchor="middle" fill="#222">Rejection (%)</text>
<text transform="translate(457.4,9.1) scale(1.15,1)" font-size="12.4" font-weight="bold" fill="#111">c</text>
<line x1="276.30" y1="313.55" x2="278.90" y2="313.55" stroke="#777" stroke-width="0.8" />
<text transform="translate(272.90,316.16) scale(1.1,1)" font-size="7.3" text-anchor="end" fill="#222" >0</text>
<line x1="276.30" y1="291.53" x2="278.90" y2="291.53" stroke="#777" stroke-width="0.8" />
<text transform="translate(272.90,294.15) scale(1.1,1)" font-size="7.3" text-anchor="end" fill="#222" >5</text>
<line x1="276.30" y1="269.52" x2="278.90" y2="269.52" stroke="#777" stroke-width="0.8" />
<text transform="translate(272.90,272.13) scale(1.1,1)" font-size="7.3" text-anchor="end" fill="#222" >10</text>
<line x1="276.30" y1="247.50" x2="278.90" y2="247.50" stroke="#777" stroke-width="0.8" />
<text transform="translate(272.90,250.11) scale(1.1,1)" font-size="7.3" text-anchor="end" fill="#222" >15</text>
<line x1="276.30" y1="225.48" x2="278.90" y2="225.48" stroke="#777" stroke-width="0.8" />
<text transform="translate(272.90,228.10) scale(1.1,1)" font-size="7.3" text-anchor="end" fill="#222" >20</text>
<line x1="276.30" y1="203.47" x2="278.90" y2="203.47" stroke="#777" stroke-width="0.8" />
<text transform="translate(272.90,206.08) scale(1.1,1)" font-size="7.3" text-anchor="end" fill="#222" >25</text>
<line x1="276.30" y1="181.45" x2="278.90" y2="181.45" stroke="#777" stroke-width="0.8" />
<text transform="translate(272.90,184.06) scale(1.1,1)" font-size="7.3" text-anchor="end" fill="#222" >30</text>
<line x1="278.90" y1="313.55" x2="278.90" y2="315.95" stroke="#777" stroke-width="0.8" />
<text transform="translate(278.90,325.41) scale(1.1,1)" font-size="7.3" text-anchor="middle" fill="#222" >0</text>
<line x1="306.32" y1="313.55" x2="306.32" y2="315.95" stroke="#777" stroke-width="0.8" />
<text transform="translate(306.32,325.41) scale(1.1,1)" font-size="7.3" text-anchor="middle" fill="#222" >1,000</text>
<line x1="333.73" y1="313.55" x2="333.73" y2="315.95" stroke="#777" stroke-width="0.8" />
<text transform="translate(333.73,325.41) scale(1.1,1)" font-size="7.3" text-anchor="middle" fill="#222" >2,000</text>
<line x1="361.15" y1="313.55" x2="361.15" y2="315.95" stroke="#777" stroke-width="0.8" />
<text transform="translate(361.15,325.41) scale(1.1,1)" font-size="7.3" text-anchor="middle" fill="#222" >3,000</text>
<line x1="388.57" y1="313.55" x2="388.57" y2="315.95" stroke="#777" stroke-width="0.8" />
<text transform="translate(388.57,325.41) scale(1.1,1)" font-size="7.3" text-anchor="middle" fill="#222" >4,000</text>
<line x1="415.98" y1="313.55" x2="415.98" y2="315.95" stroke="#777" stroke-width="0.8" />
<text transform="translate(415.98,325.41) scale(1.1,1)" font-size="7.3" text-anchor="middle" fill="#222" >5,000</text>
<line x1="443.40" y1="313.55" x2="443.40" y2="315.95" stroke="#777" stroke-width="0.8" />
<text transform="translate(443.40,325.41) scale(1.1,1)" font-size="7.3" text-anchor="middle" fill="#222" >6,000</text>
<polyline points="278.90,313.55 281.69,312.81 284.48,311.88 287.26,311.11 290.05,310.20 292.84,309.36 295.63,308.73 298.42,307.92 301.21,306.80 303.99,306.18 306.78,305.35 309.57,304.18 312.36,303.46 315.15,302.43 317.93,301.66 320.72,300.70 323.51,299.97 326.30,298.90 329.09,297.92 331.87,297.13 334.66,296.09 337.45,295.15 340.24,294.40 343.03,293.19 345.82,292.28 348.60,291.42 351.39,290.55 354.18,289.29 356.97,288.47 359.76,287.41 362.54,286.39 365.33,285.65 368.12,284.85 370.91,284.30 373.70,283.43 376.48,282.82 379.27,281.91 382.06,281.18 384.85,280.71 387.64,279.95 390.43,279.17 393.21,278.16 396.00,277.62 398.79,276.86 401.58,276.27 404.37,275.50 407.15,274.85 409.94,274.16 412.73,273.38 415.52,272.69 418.31,271.86 421.09,271.22 423.88,270.42 426.67,269.73 429.46,268.96 432.25,268.36 435.04,267.82 437.82,266.86 440.61,266.11 443.40,265.41" fill="none" stroke="#f02020" stroke-width="1.0"/>
<polyline points="278.90,313.55 281.69,312.05 284.48,310.76 287.26,309.85 290.05,308.54 292.84,306.91 295.63,305.65 298.42,304.38 301.21,303.25 303.99,301.82 306.78,300.50 309.57,299.10 312.36,297.88 315.15,296.35 317.93,294.95 320.72,293.40 323.51,291.46 326.30,289.59 329.09,287.87 331.87,286.03 334.66,284.46 337.45,283.25 340.24,281.93 343.03,280.42 345.82,279.17 348.60,277.84 351.39,276.32 354.18,275.19 356.97,273.88 359.76,272.73 362.54,271.62 365.33,270.30 368.12,269.19 370.91,267.83 373.70,266.25 376.48,264.90 379.27,263.62 382.06,261.82 384.85,260.29 387.64,258.30 390.43,256.21 393.21,254.25 396.00,252.22 398.79,250.39 401.58,248.08 404.37,246.05 407.15,244.37 409.94,242.07 412.73,240.12 415.52,238.29 418.31,236.31 421.09,234.38 423.88,232.18 426.67,230.18 429.46,227.86 432.25,225.89 435.04,223.25 437.82,220.55 440.61,218.06 443.40,215.33" fill="none" stroke="#151515" stroke-width="1.1"/>
<line x1="278.9" y1="181.45" x2="443.4" y2="181.45" stroke="#777" stroke-width="0.8"/>
<line x1="443.4" y1="181.45" x2="443.4" y2="313.55" stroke="#777" stroke-width="0.8"/>
<line x1="278.9" y1="313.55" x2="443.4" y2="313.55" stroke="#777" stroke-width="0.8"/>
<line x1="278.9" y1="181.45" x2="278.9" y2="313.55" stroke="#aaa" stroke-width="1.0"/>
<line x1="324.40" y1="193.00" x2="343.60" y2="193.00" stroke="#222" stroke-width="0.9" />
<line x1="324.40" y1="203.50" x2="343.60" y2="203.50" stroke="#f02020" stroke-width="0.9" />
<text transform="translate(347.90,195.76) scale(1.0,1)" font-size="7.7" text-anchor="start" fill="#222" >Low charge density</text>
<text transform="translate(347.90,206.26) scale(1.0,1)" font-size="7.7" text-anchor="start" fill="#222" >High charge density</text>
<text x="308.6" y="241.9" font-size="7.0" fill="#222"><tspan font-style="italic">D</tspan> = 0.88 × 10<tspan dy="-2.3" font-size="4.6">−5</tspan><tspan dy="2.3"> cm</tspan><tspan dy="-2.3" font-size="4.6">2</tspan><tspan dy="2.3"> s</tspan><tspan dy="-2.3" font-size="4.6">−1</tspan></text>
<text x="308.6" y="251.9" font-size="7.0" fill="#222"><tspan font-style="italic">D</tspan> = 0.41 × 10<tspan dy="-2.3" font-size="4.6">−5</tspan><tspan dy="2.3"> cm</tspan><tspan dy="-2.3" font-size="4.6">2</tspan><tspan dy="2.3"> s</tspan><tspan dy="-2.3" font-size="4.6">−1</tspan></text>
<text transform="translate(255.8,247) rotate(-90)" font-size="8.8" text-anchor="middle" fill="#222">MSD (nm<tspan dy="-3.3" font-size="5.7">2</tspan><tspan dy="3.3">)</tspan></text>
<text x="361.3" y="339.2" font-size="9.2" text-anchor="middle" fill="#222">Correlation time (ps)</text>
<text transform="translate(243.4,184.7) scale(1.15,1)" font-size="12.4" font-weight="bold" fill="#111">e</text>
<line x1="494.50" y1="313.30" x2="497.10" y2="313.30" stroke="#777" stroke-width="0.8" />
<text transform="translate(492.10,315.91) scale(1.1,1)" font-size="7.3" text-anchor="end" fill="#222" >−200</text>
<line x1="494.50" y1="299.40" x2="497.10" y2="299.40" stroke="#777" stroke-width="0.8" />
<text transform="translate(492.10,302.01) scale(1.1,1)" font-size="7.3" text-anchor="end" fill="#222" >0</text>
<line x1="494.50" y1="285.50" x2="497.10" y2="285.50" stroke="#777" stroke-width="0.8" />
<text transform="translate(492.10,288.11) scale(1.1,1)" font-size="7.3" text-anchor="end" fill="#222" >200</text>
<line x1="494.50" y1="271.60" x2="497.10" y2="271.60" stroke="#777" stroke-width="0.8" />
<text transform="translate(492.10,274.21) scale(1.1,1)" font-size="7.3" text-anchor="end" fill="#222" >400</text>
<line x1="494.50" y1="257.70" x2="497.10" y2="257.70" stroke="#777" stroke-width="0.8" />
<text transform="translate(492.10,260.31) scale(1.1,1)" font-size="7.3" text-anchor="end" fill="#222" >600</text>
<line x1="494.50" y1="243.80" x2="497.10" y2="243.80" stroke="#777" stroke-width="0.8" />
<text transform="translate(492.10,246.41) scale(1.1,1)" font-size="7.3" text-anchor="end" fill="#222" >800</text>
<line x1="494.50" y1="229.90" x2="497.10" y2="229.90" stroke="#777" stroke-width="0.8" />
<text transform="translate(492.10,232.51) scale(1.1,1)" font-size="7.3" text-anchor="end" fill="#222" >1,000</text>
<line x1="494.50" y1="216.00" x2="497.10" y2="216.00" stroke="#777" stroke-width="0.8" />
<text transform="translate(492.10,218.61) scale(1.1,1)" font-size="7.3" text-anchor="end" fill="#222" >1,200</text>
<line x1="494.50" y1="202.10" x2="497.10" y2="202.10" stroke="#777" stroke-width="0.8" />
<text transform="translate(492.10,204.71) scale(1.1,1)" font-size="7.3" text-anchor="end" fill="#222" >1,400</text>
<line x1="494.50" y1="188.20" x2="497.10" y2="188.20" stroke="#777" stroke-width="0.8" />
<text transform="translate(492.10,190.81) scale(1.1,1)" font-size="7.3" text-anchor="end" fill="#222" >1,600</text>
<line x1="497.30" y1="313.50" x2="497.30" y2="315.90" stroke="#777" stroke-width="0.8" />
<text transform="translate(497.30,324.91) scale(1.1,1)" font-size="7.3" text-anchor="middle" fill="#222" >0</text>
<line x1="530.09" y1="313.50" x2="530.09" y2="315.90" stroke="#777" stroke-width="0.8" />
<text transform="translate(530.09,324.91) scale(1.1,1)" font-size="7.3" text-anchor="middle" fill="#222" >2,000</text>
<line x1="562.88" y1="313.50" x2="562.88" y2="315.90" stroke="#777" stroke-width="0.8" />
<text transform="translate(562.88,324.91) scale(1.1,1)" font-size="7.3" text-anchor="middle" fill="#222" >4,000</text>
<line x1="595.67" y1="313.50" x2="595.67" y2="315.90" stroke="#777" stroke-width="0.8" />
<text transform="translate(595.67,324.91) scale(1.1,1)" font-size="7.3" text-anchor="middle" fill="#222" >6,000</text>
<line x1="628.46" y1="313.50" x2="628.46" y2="315.90" stroke="#777" stroke-width="0.8" />
<text transform="translate(628.46,324.91) scale(1.1,1)" font-size="7.3" text-anchor="middle" fill="#222" >8,000</text>
<line x1="661.25" y1="313.50" x2="661.25" y2="315.90" stroke="#777" stroke-width="0.8" />
<text transform="translate(661.25,324.91) scale(1.1,1)" font-size="7.3" text-anchor="middle" fill="#222" >10,000</text>
<rect x="497.1" y="181.45" width="164.30" height="132.05" fill="none" stroke="#777" stroke-width="0.8"/>
<rect x="495.95" y="293.77" width="2.7" height="2.7" fill="#000"/>
<rect x="496.18" y="294.73" width="2.7" height="2.7" fill="#000"/>
<rect x="496.42" y="295.23" width="2.7" height="2.7" fill="#000"/>
<rect x="496.65" y="295.33" width="2.7" height="2.7" fill="#000"/>
<rect x="496.89" y="296.92" width="2.7" height="2.7" fill="#000"/>
<rect x="497.12" y="296.32" width="2.7" height="2.7" fill="#000"/>
<rect x="497.36" y="294.22" width="2.7" height="2.7" fill="#000"/>
<rect x="497.59" y="295.48" width="2.7" height="2.7" fill="#000"/>
<rect x="497.83" y="295.38" width="2.7" height="2.7" fill="#000"/>
<rect x="498.06" y="295.40" width="2.7" height="2.7" fill="#000"/>
<rect x="498.30" y="296.65" width="2.7" height="2.7" fill="#000"/>
<rect x="498.53" y="293.51" width="2.7" height="2.7" fill="#000"/>
<rect x="498.76" y="295.66" width="2.7" height="2.7" fill="#000"/>
<rect x="499.00" y="295.83" width="2.7" height="2.7" fill="#000"/>
<rect x="499.23" y="296.04" width="2.7" height="2.7" fill="#000"/>
<rect x="499.47" y="298.47" width="2.7" height="2.7" fill="#000"/>
<rect x="499.70" y="298.59" width="2.7" height="2.7" fill="#000"/>
<rect x="499.94" y="297.15" width="2.7" height="2.7" fill="#000"/>
<rect x="500.17" y="297.18" width="2.7" height="2.7" fill="#000"/>
<rect x="500.41" y="293.51" width="2.7" height="2.7" fill="#000"/>
<rect x="500.64" y="298.10" width="2.7" height="2.7" fill="#000"/>
<rect x="500.88" y="297.44" width="2.7" height="2.7" fill="#000"/>
<rect x="501.11" y="295.74" width="2.7" height="2.7" fill="#000"/>
<rect x="501.34" y="295.34" width="2.7" height="2.7" fill="#000"/>
<rect x="501.58" y="294.99" width="2.7" height="2.7" fill="#000"/>
<rect x="501.81" y="299.34" width="2.7" height="2.7" fill="#000"/>
<rect x="502.05" y="297.34" width="2.7" height="2.7" fill="#000"/>
<rect x="502.28" y="295.47" width="2.7" height="2.7" fill="#000"/>
<rect x="502.52" y="297.21" width="2.7" height="2.7" fill="#000"/>
<rect x="502.75" y="294.55" width="2.7" height="2.7" fill="#000"/>
<rect x="502.99" y="296.87" width="2.7" height="2.7" fill="#000"/>
<rect x="503.22" y="295.84" width="2.7" height="2.7" fill="#000"/>
<rect x="503.46" y="296.04" width="2.7" height="2.7" fill="#000"/>
<rect x="503.69" y="295.03" width="2.7" height="2.7" fill="#000"/>
<rect x="503.92" y="295.65" width="2.7" height="2.7" fill="#000"/>
<rect x="504.16" y="297.34" width="2.7" height="2.7" fill="#000"/>
<rect x="504.39" y="296.77" width="2.7" height="2.7" fill="#000"/>
<rect x="504.63" y="300.87" width="2.7" height="2.7" fill="#000"/>
<rect x="504.86" y="295.79" width="2.7" height="2.7" fill="#000"/>
<rect x="505.10" y="297.51" width="2.7" height="2.7" fill="#000"/>
<rect x="505.33" y="298.67" width="2.7" height="2.7" fill="#000"/>
<rect x="505.57" y="296.10" width="2.7" height="2.7" fill="#000"/>
<rect x="505.80" y="295.91" width="2.7" height="2.7" fill="#000"/>
<rect x="506.04" y="297.35" width="2.7" height="2.7" fill="#000"/>
<rect x="506.27" y="298.69" width="2.7" height="2.7" fill="#000"/>
<rect x="506.50" y="297.58" width="2.7" height="2.7" fill="#000"/>
<rect x="506.74" y="296.28" width="2.7" height="2.7" fill="#000"/>
<rect x="506.97" y="296.28" width="2.7" height="2.7" fill="#000"/>
<rect x="507.21" y="298.96" width="2.7" height="2.7" fill="#000"/>
<rect x="507.44" y="298.59" width="2.7" height="2.7" fill="#000"/>
<rect x="507.68" y="298.00" width="2.7" height="2.7" fill="#000"/>
<rect x="507.91" y="297.64" width="2.7" height="2.7" fill="#000"/>
<rect x="508.15" y="299.65" width="2.7" height="2.7" fill="#000"/>
<rect x="508.38" y="298.42" width="2.7" height="2.7" fill="#000"/>
<rect x="508.62" y="298.76" width="2.7" height="2.7" fill="#000"/>
<rect x="508.85" y="298.09" width="2.7" height="2.7" fill="#000"/>
<rect x="509.08" y="297.15" width="2.7" height="2.7" fill="#000"/>
<rect x="509.32" y="295.95" width="2.7" height="2.7" fill="#000"/>
<rect x="509.55" y="292.35" width="2.7" height="2.7" fill="#000"/>
<rect x="509.79" y="295.36" width="2.7" height="2.7" fill="#000"/>
<rect x="510.02" y="297.10" width="2.7" height="2.7" fill="#000"/>
<rect x="510.26" y="296.55" width="2.7" height="2.7" fill="#000"/>
<rect x="510.49" y="294.97" width="2.7" height="2.7" fill="#000"/>
<rect x="510.73" y="296.26" width="2.7" height="2.7" fill="#000"/>
<rect x="510.96" y="296.76" width="2.7" height="2.7" fill="#000"/>
<rect x="511.20" y="298.88" width="2.7" height="2.7" fill="#000"/>
<rect x="511.43" y="297.33" width="2.7" height="2.7" fill="#000"/>
<rect x="511.66" y="297.10" width="2.7" height="2.7" fill="#000"/>
<rect x="511.90" y="297.91" width="2.7" height="2.7" fill="#000"/>
<rect x="512.13" y="300.00" width="2.7" height="2.7" fill="#000"/>
<rect x="512.37" y="298.35" width="2.7" height="2.7" fill="#000"/>
<rect x="512.60" y="297.60" width="2.7" height="2.7" fill="#000"/>
<rect x="512.84" y="295.27" width="2.7" height="2.7" fill="#000"/>
<rect x="513.07" y="298.33" width="2.7" height="2.7" fill="#000"/>
<rect x="513.31" y="297.81" width="2.7" height="2.7" fill="#000"/>
<rect x="513.54" y="295.50" width="2.7" height="2.7" fill="#000"/>
<rect x="513.78" y="298.66" width="2.7" height="2.7" fill="#000"/>
<rect x="514.01" y="295.96" width="2.7" height="2.7" fill="#000"/>
<rect x="514.24" y="296.21" width="2.7" height="2.7" fill="#000"/>
<rect x="514.48" y="295.05" width="2.7" height="2.7" fill="#000"/>
<rect x="514.71" y="292.73" width="2.7" height="2.7" fill="#000"/>
<rect x="514.95" y="296.61" width="2.7" height="2.7" fill="#000"/>
<rect x="515.18" y="294.75" width="2.7" height="2.7" fill="#000"/>
<rect x="515.42" y="297.49" width="2.7" height="2.7" fill="#000"/>
<rect x="515.65" y="299.64" width="2.7" height="2.7" fill="#000"/>
<rect x="515.89" y="298.33" width="2.7" height="2.7" fill="#000"/>
<rect x="516.12" y="297.71" width="2.7" height="2.7" fill="#000"/>
<rect x="516.36" y="296.02" width="2.7" height="2.7" fill="#000"/>
<rect x="516.59" y="298.60" width="2.7" height="2.7" fill="#000"/>
<rect x="516.82" y="296.34" width="2.7" height="2.7" fill="#000"/>
<rect x="517.06" y="298.77" width="2.7" height="2.7" fill="#000"/>
<rect x="517.29" y="296.99" width="2.7" height="2.7" fill="#000"/>
<rect x="517.53" y="297.33" width="2.7" height="2.7" fill="#000"/>
<rect x="517.76" y="295.44" width="2.7" height="2.7" fill="#000"/>
<rect x="518.00" y="297.13" width="2.7" height="2.7" fill="#000"/>
<rect x="518.23" y="297.70" width="2.7" height="2.7" fill="#000"/>
<rect x="518.47" y="295.10" width="2.7" height="2.7" fill="#000"/>
<rect x="518.70" y="294.82" width="2.7" height="2.7" fill="#000"/>
<rect x="518.94" y="293.67" width="2.7" height="2.7" fill="#000"/>
<rect x="519.17" y="294.37" width="2.7" height="2.7" fill="#000"/>
<rect x="519.40" y="296.49" width="2.7" height="2.7" fill="#000"/>
<rect x="519.64" y="293.07" width="2.7" height="2.7" fill="#000"/>
<rect x="519.87" y="295.53" width="2.7" height="2.7" fill="#000"/>
<rect x="520.11" y="295.45" width="2.7" height="2.7" fill="#000"/>
<rect x="520.34" y="296.02" width="2.7" height="2.7" fill="#000"/>
<rect x="520.58" y="296.34" width="2.7" height="2.7" fill="#000"/>
<rect x="520.81" y="295.68" width="2.7" height="2.7" fill="#000"/>
<rect x="521.05" y="296.64" width="2.7" height="2.7" fill="#000"/>
<rect x="521.28" y="294.34" width="2.7" height="2.7" fill="#000"/>
<rect x="521.52" y="298.79" width="2.7" height="2.7" fill="#000"/>
<rect x="521.75" y="295.20" width="2.7" height="2.7" fill="#000"/>
<rect x="521.98" y="292.54" width="2.7" height="2.7" fill="#000"/>
<rect x="522.22" y="294.53" width="2.7" height="2.7" fill="#000"/>
<rect x="522.45" y="294.98" width="2.7" height="2.7" fill="#000"/>
<rect x="522.69" y="295.85" width="2.7" height="2.7" fill="#000"/>
<rect x="522.92" y="292.84" width="2.7" height="2.7" fill="#000"/>
<rect x="523.16" y="294.57" width="2.7" height="2.7" fill="#000"/>
<rect x="523.39" y="293.28" width="2.7" height="2.7" fill="#000"/>
<rect x="523.63" y="293.76" width="2.7" height="2.7" fill="#000"/>
<rect x="523.86" y="294.18" width="2.7" height="2.7" fill="#000"/>
<rect x="524.10" y="294.80" width="2.7" height="2.7" fill="#000"/>
<rect x="524.33" y="294.86" width="2.7" height="2.7" fill="#000"/>
<rect x="524.57" y="292.83" width="2.7" height="2.7" fill="#000"/>
<rect x="524.80" y="293.46" width="2.7" height="2.7" fill="#000"/>
<rect x="525.03" y="294.82" width="2.7" height="2.7" fill="#000"/>
<rect x="525.27" y="296.04" width="2.7" height="2.7" fill="#000"/>
<rect x="525.50" y="294.03" width="2.7" height="2.7" fill="#000"/>
<rect x="525.74" y="294.63" width="2.7" height="2.7" fill="#000"/>
<rect x="525.97" y="295.97" width="2.7" height="2.7" fill="#000"/>
<rect x="526.21" y="294.43" width="2.7" height="2.7" fill="#000"/>
<rect x="526.44" y="293.21" width="2.7" height="2.7" fill="#000"/>
<rect x="526.68" y="294.65" width="2.7" height="2.7" fill="#000"/>
<rect x="526.91" y="296.67" width="2.7" height="2.7" fill="#000"/>
<rect x="527.15" y="296.99" width="2.7" height="2.7" fill="#000"/>
<rect x="527.38" y="294.15" width="2.7" height="2.7" fill="#000"/>
<rect x="527.61" y="297.72" width="2.7" height="2.7" fill="#000"/>
<rect x="527.85" y="298.87" width="2.7" height="2.7" fill="#000"/>
<rect x="528.08" y="296.20" width="2.7" height="2.7" fill="#000"/>
<rect x="528.32" y="294.98" width="2.7" height="2.7" fill="#000"/>
<rect x="528.55" y="295.74" width="2.7" height="2.7" fill="#000"/>
<rect x="528.79" y="296.53" width="2.7" height="2.7" fill="#000"/>
<rect x="529.02" y="296.46" width="2.7" height="2.7" fill="#000"/>
<rect x="529.26" y="296.80" width="2.7" height="2.7" fill="#000"/>
<rect x="529.49" y="295.79" width="2.7" height="2.7" fill="#000"/>
<rect x="529.73" y="295.67" width="2.7" height="2.7" fill="#000"/>
<rect x="529.96" y="298.02" width="2.7" height="2.7" fill="#000"/>
<rect x="530.19" y="295.49" width="2.7" height="2.7" fill="#000"/>
<rect x="530.43" y="296.34" width="2.7" height="2.7" fill="#000"/>
<rect x="530.66" y="293.89" width="2.7" height="2.7" fill="#000"/>
<rect x="530.90" y="295.82" width="2.7" height="2.7" fill="#000"/>
<rect x="531.13" y="296.69" width="2.7" height="2.7" fill="#000"/>
<rect x="531.37" y="294.98" width="2.7" height="2.7" fill="#000"/>
<rect x="531.60" y="294.66" width="2.7" height="2.7" fill="#000"/>
<rect x="531.84" y="292.81" width="2.7" height="2.7" fill="#000"/>
<rect x="532.07" y="296.40" width="2.7" height="2.7" fill="#000"/>
<rect x="532.31" y="295.00" width="2.7" height="2.7" fill="#000"/>
<rect x="532.54" y="294.55" width="2.7" height="2.7" fill="#000"/>
<rect x="532.77" y="293.86" width="2.7" height="2.7" fill="#000"/>
<rect x="533.01" y="294.99" width="2.7" height="2.7" fill="#000"/>
<rect x="533.24" y="297.15" width="2.7" height="2.7" fill="#000"/>
<rect x="533.48" y="297.17" width="2.7" height="2.7" fill="#000"/>
<rect x="533.71" y="294.87" width="2.7" height="2.7" fill="#000"/>
<rect x="533.95" y="292.87" width="2.7" height="2.7" fill="#000"/>
<rect x="534.18" y="295.18" width="2.7" height="2.7" fill="#000"/>
<rect x="534.42" y="295.72" width="2.7" height="2.7" fill="#000"/>
<rect x="534.65" y="295.40" width="2.7" height="2.7" fill="#000"/>
<rect x="534.89" y="297.22" width="2.7" height="2.7" fill="#000"/>
<rect x="535.12" y="295.62" width="2.7" height="2.7" fill="#000"/>
<rect x="535.35" y="295.17" width="2.7" height="2.7" fill="#000"/>
<rect x="535.59" y="294.96" width="2.7" height="2.7" fill="#000"/>
<rect x="535.82" y="293.92" width="2.7" height="2.7" fill="#000"/>
<rect x="536.06" y="294.49" width="2.7" height="2.7" fill="#000"/>
<rect x="536.29" y="296.27" width="2.7" height="2.7" fill="#000"/>
<rect x="536.53" y="295.58" width="2.7" height="2.7" fill="#000"/>
<rect x="536.76" y="293.24" width="2.7" height="2.7" fill="#000"/>
<rect x="537.00" y="294.92" width="2.7" height="2.7" fill="#000"/>
<rect x="537.23" y="293.63" width="2.7" height="2.7" fill="#000"/>
<rect x="537.47" y="293.38" width="2.7" height="2.7" fill="#000"/>
<rect x="537.70" y="295.15" width="2.7" height="2.7" fill="#000"/>
<rect x="537.93" y="297.08" width="2.7" height="2.7" fill="#000"/>
<rect x="538.17" y="297.01" width="2.7" height="2.7" fill="#000"/>
<rect x="538.40" y="295.94" width="2.7" height="2.7" fill="#000"/>
<rect x="538.64" y="295.89" width="2.7" height="2.7" fill="#000"/>
<rect x="538.87" y="295.51" width="2.7" height="2.7" fill="#000"/>
<rect x="539.11" y="296.01" width="2.7" height="2.7" fill="#000"/>
<rect x="539.34" y="296.14" width="2.7" height="2.7" fill="#000"/>
<rect x="539.58" y="297.01" width="2.7" height="2.7" fill="#000"/>
<rect x="539.81" y="295.27" width="2.7" height="2.7" fill="#000"/>
<rect x="540.05" y="296.64" width="2.7" height="2.7" fill="#000"/>
<rect x="540.28" y="296.37" width="2.7" height="2.7" fill="#000"/>
<rect x="540.51" y="297.89" width="2.7" height="2.7" fill="#000"/>
<rect x="540.75" y="294.40" width="2.7" height="2.7" fill="#000"/>
<rect x="540.98" y="293.83" width="2.7" height="2.7" fill="#000"/>
<rect x="541.22" y="295.60" width="2.7" height="2.7" fill="#000"/>
<rect x="541.45" y="295.66" width="2.7" height="2.7" fill="#000"/>
<rect x="541.69" y="295.03" width="2.7" height="2.7" fill="#000"/>
<rect x="541.92" y="294.00" width="2.7" height="2.7" fill="#000"/>
<rect x="542.16" y="294.87" width="2.7" height="2.7" fill="#000"/>
<rect x="542.39" y="291.58" width="2.7" height="2.7" fill="#000"/>
<rect x="542.63" y="296.30" width="2.7" height="2.7" fill="#000"/>
<rect x="542.86" y="295.72" width="2.7" height="2.7" fill="#000"/>
<rect x="543.09" y="293.25" width="2.7" height="2.7" fill="#000"/>
<rect x="543.33" y="291.74" width="2.7" height="2.7" fill="#000"/>
<rect x="543.56" y="293.43" width="2.7" height="2.7" fill="#000"/>
<rect x="543.80" y="292.52" width="2.7" height="2.7" fill="#000"/>
<rect x="544.03" y="290.86" width="2.7" height="2.7" fill="#000"/>
<rect x="544.27" y="293.02" width="2.7" height="2.7" fill="#000"/>
<rect x="544.50" y="296.77" width="2.7" height="2.7" fill="#000"/>
<rect x="544.74" y="293.28" width="2.7" height="2.7" fill="#000"/>
<rect x="544.97" y="291.56" width="2.7" height="2.7" fill="#000"/>
<rect x="545.21" y="295.05" width="2.7" height="2.7" fill="#000"/>
<rect x="545.44" y="293.21" width="2.7" height="2.7" fill="#000"/>
<rect x="545.67" y="293.76" width="2.7" height="2.7" fill="#000"/>
<rect x="545.91" y="290.62" width="2.7" height="2.7" fill="#000"/>
<rect x="546.14" y="291.78" width="2.7" height="2.7" fill="#000"/>
<rect x="546.38" y="290.48" width="2.7" height="2.7" fill="#000"/>
<rect x="546.61" y="291.71" width="2.7" height="2.7" fill="#000"/>
<rect x="546.85" y="290.25" width="2.7" height="2.7" fill="#000"/>
<rect x="547.08" y="289.30" width="2.7" height="2.7" fill="#000"/>
<rect x="547.32" y="291.33" width="2.7" height="2.7" fill="#000"/>
<rect x="547.55" y="287.89" width="2.7" height="2.7" fill="#000"/>
<rect x="547.79" y="289.84" width="2.7" height="2.7" fill="#000"/>
<rect x="548.02" y="289.71" width="2.7" height="2.7" fill="#000"/>
<rect x="548.25" y="288.22" width="2.7" height="2.7" fill="#000"/>
<rect x="548.49" y="287.10" width="2.7" height="2.7" fill="#000"/>
<rect x="548.72" y="285.31" width="2.7" height="2.7" fill="#000"/>
<rect x="548.96" y="285.16" width="2.7" height="2.7" fill="#000"/>
<rect x="549.19" y="286.55" width="2.7" height="2.7" fill="#000"/>
<rect x="549.43" y="288.70" width="2.7" height="2.7" fill="#000"/>
<rect x="549.66" y="286.68" width="2.7" height="2.7" fill="#000"/>
<rect x="549.90" y="285.52" width="2.7" height="2.7" fill="#000"/>
<rect x="550.13" y="284.17" width="2.7" height="2.7" fill="#000"/>
<rect x="550.37" y="285.33" width="2.7" height="2.7" fill="#000"/>
<rect x="550.60" y="282.50" width="2.7" height="2.7" fill="#000"/>
<rect x="550.83" y="280.96" width="2.7" height="2.7" fill="#000"/>
<rect x="551.07" y="283.42" width="2.7" height="2.7" fill="#000"/>
<rect x="551.30" y="284.46" width="2.7" height="2.7" fill="#000"/>
<rect x="551.54" y="281.61" width="2.7" height="2.7" fill="#000"/>
<rect x="551.77" y="282.30" width="2.7" height="2.7" fill="#000"/>
<rect x="552.01" y="280.40" width="2.7" height="2.7" fill="#000"/>
<rect x="552.24" y="283.22" width="2.7" height="2.7" fill="#000"/>
<rect x="552.48" y="280.55" width="2.7" height="2.7" fill="#000"/>
<rect x="552.71" y="280.88" width="2.7" height="2.7" fill="#000"/>
<rect x="552.95" y="282.99" width="2.7" height="2.7" fill="#000"/>
<rect x="553.18" y="282.55" width="2.7" height="2.7" fill="#000"/>
<rect x="553.41" y="284.34" width="2.7" height="2.7" fill="#000"/>
<rect x="553.65" y="285.74" width="2.7" height="2.7" fill="#000"/>
<rect x="553.88" y="281.97" width="2.7" height="2.7" fill="#000"/>
<rect x="554.12" y="284.17" width="2.7" height="2.7" fill="#000"/>
<rect x="554.35" y="284.94" width="2.7" height="2.7" fill="#000"/>
<rect x="554.59" y="286.28" width="2.7" height="2.7" fill="#000"/>
<rect x="554.82" y="287.62" width="2.7" height="2.7" fill="#000"/>
<rect x="555.06" y="287.16" width="2.7" height="2.7" fill="#000"/>
<rect x="555.29" y="288.09" width="2.7" height="2.7" fill="#000"/>
<rect x="555.53" y="288.64" width="2.7" height="2.7" fill="#000"/>
<rect x="555.76" y="287.89" width="2.7" height="2.7" fill="#000"/>
<rect x="555.99" y="288.16" width="2.7" height="2.7" fill="#000"/>
<rect x="556.23" y="288.06" width="2.7" height="2.7" fill="#000"/>
<rect x="556.46" y="290.79" width="2.7" height="2.7" fill="#000"/>
<rect x="556.70" y="288.41" width="2.7" height="2.7" fill="#000"/>
<rect x="556.93" y="288.81" width="2.7" height="2.7" fill="#000"/>
<rect x="557.17" y="291.64" width="2.7" height="2.7" fill="#000"/>
<rect x="557.40" y="290.95" width="2.7" height="2.7" fill="#000"/>
<rect x="557.64" y="292.38" width="2.7" height="2.7" fill="#000"/>
<rect x="557.87" y="292.04" width="2.7" height="2.7" fill="#000"/>
<rect x="558.11" y="292.47" width="2.7" height="2.7" fill="#000"/>
<rect x="558.34" y="293.55" width="2.7" height="2.7" fill="#000"/>
<rect x="558.57" y="290.05" width="2.7" height="2.7" fill="#000"/>
<rect x="558.81" y="293.16" width="2.7" height="2.7" fill="#000"/>
<rect x="559.04" y="293.18" width="2.7" height="2.7" fill="#000"/>
<rect x="559.28" y="295.05" width="2.7" height="2.7" fill="#000"/>
<rect x="559.51" y="295.35" width="2.7" height="2.7" fill="#000"/>
<rect x="559.75" y="293.69" width="2.7" height="2.7" fill="#000"/>
<rect x="559.98" y="296.44" width="2.7" height="2.7" fill="#000"/>
<rect x="560.22" y="293.49" width="2.7" height="2.7" fill="#000"/>
<rect x="560.45" y="296.54" width="2.7" height="2.7" fill="#000"/>
<rect x="560.69" y="292.80" width="2.7" height="2.7" fill="#000"/>
<rect x="560.92" y="297.01" width="2.7" height="2.7" fill="#000"/>
<rect x="561.15" y="297.84" width="2.7" height="2.7" fill="#000"/>
<rect x="561.39" y="297.51" width="2.7" height="2.7" fill="#000"/>
<rect x="561.62" y="298.12" width="2.7" height="2.7" fill="#000"/>
<rect x="561.86" y="298.45" width="2.7" height="2.7" fill="#000"/>
<rect x="562.09" y="296.85" width="2.7" height="2.7" fill="#000"/>
<rect x="562.33" y="296.29" width="2.7" height="2.7" fill="#000"/>
<rect x="562.56" y="297.34" width="2.7" height="2.7" fill="#000"/>
<rect x="562.80" y="298.66" width="2.7" height="2.7" fill="#000"/>
<rect x="563.03" y="297.47" width="2.7" height="2.7" fill="#000"/>
<rect x="563.27" y="296.67" width="2.7" height="2.7" fill="#000"/>
<rect x="563.50" y="297.97" width="2.7" height="2.7" fill="#000"/>
<rect x="563.73" y="298.81" width="2.7" height="2.7" fill="#000"/>
<rect x="563.97" y="297.51" width="2.7" height="2.7" fill="#000"/>
<rect x="564.20" y="297.17" width="2.7" height="2.7" fill="#000"/>
<rect x="564.44" y="298.14" width="2.7" height="2.7" fill="#000"/>
<rect x="564.67" y="295.59" width="2.7" height="2.7" fill="#000"/>
<rect x="564.91" y="296.30" width="2.7" height="2.7" fill="#000"/>
<rect x="565.14" y="296.47" width="2.7" height="2.7" fill="#000"/>
<rect x="565.38" y="297.87" width="2.7" height="2.7" fill="#000"/>
<rect x="565.61" y="299.52" width="2.7" height="2.7" fill="#000"/>
<rect x="565.85" y="298.72" width="2.7" height="2.7" fill="#000"/>
<rect x="566.08" y="298.71" width="2.7" height="2.7" fill="#000"/>
<rect x="566.31" y="297.96" width="2.7" height="2.7" fill="#000"/>
<rect x="566.55" y="298.19" width="2.7" height="2.7" fill="#000"/>
<rect x="566.78" y="299.78" width="2.7" height="2.7" fill="#000"/>
<rect x="567.02" y="298.78" width="2.7" height="2.7" fill="#000"/>
<rect x="567.25" y="298.15" width="2.7" height="2.7" fill="#000"/>
<rect x="567.49" y="298.58" width="2.7" height="2.7" fill="#000"/>
<rect x="567.72" y="295.44" width="2.7" height="2.7" fill="#000"/>
<rect x="567.96" y="297.74" width="2.7" height="2.7" fill="#000"/>
<rect x="568.19" y="298.66" width="2.7" height="2.7" fill="#000"/>
<rect x="568.43" y="295.66" width="2.7" height="2.7" fill="#000"/>
<rect x="568.66" y="296.33" width="2.7" height="2.7" fill="#000"/>
<rect x="568.89" y="295.55" width="2.7" height="2.7" fill="#000"/>
<rect x="569.13" y="295.35" width="2.7" height="2.7" fill="#000"/>
<rect x="569.36" y="293.65" width="2.7" height="2.7" fill="#000"/>
<rect x="569.60" y="294.34" width="2.7" height="2.7" fill="#000"/>
<rect x="569.83" y="294.00" width="2.7" height="2.7" fill="#000"/>
<rect x="570.07" y="293.10" width="2.7" height="2.7" fill="#000"/>
<rect x="570.30" y="294.26" width="2.7" height="2.7" fill="#000"/>
<rect x="570.54" y="295.33" width="2.7" height="2.7" fill="#000"/>
<rect x="570.77" y="293.16" width="2.7" height="2.7" fill="#000"/>
<rect x="571.01" y="293.42" width="2.7" height="2.7" fill="#000"/>
<rect x="571.24" y="294.66" width="2.7" height="2.7" fill="#000"/>
<rect x="571.47" y="295.44" width="2.7" height="2.7" fill="#000"/>
<rect x="571.71" y="298.67" width="2.7" height="2.7" fill="#000"/>
<rect x="571.94" y="295.03" width="2.7" height="2.7" fill="#000"/>
<rect x="572.18" y="296.45" width="2.7" height="2.7" fill="#000"/>
<rect x="572.41" y="297.42" width="2.7" height="2.7" fill="#000"/>
<rect x="572.65" y="296.23" width="2.7" height="2.7" fill="#000"/>
<rect x="572.88" y="296.69" width="2.7" height="2.7" fill="#000"/>
<rect x="573.12" y="293.51" width="2.7" height="2.7" fill="#000"/>
<rect x="573.35" y="294.05" width="2.7" height="2.7" fill="#000"/>
<rect x="573.59" y="297.09" width="2.7" height="2.7" fill="#000"/>
<rect x="573.82" y="295.08" width="2.7" height="2.7" fill="#000"/>
<rect x="574.05" y="294.34" width="2.7" height="2.7" fill="#000"/>
<rect x="574.29" y="293.94" width="2.7" height="2.7" fill="#000"/>
<rect x="574.52" y="291.79" width="2.7" height="2.7" fill="#000"/>
<rect x="574.76" y="293.41" width="2.7" height="2.7" fill="#000"/>
<rect x="574.99" y="292.44" width="2.7" height="2.7" fill="#000"/>
<rect x="575.23" y="292.16" width="2.7" height="2.7" fill="#000"/>
<rect x="575.46" y="291.78" width="2.7" height="2.7" fill="#000"/>
<rect x="575.70" y="291.84" width="2.7" height="2.7" fill="#000"/>
<rect x="575.93" y="291.73" width="2.7" height="2.7" fill="#000"/>
<rect x="576.17" y="294.67" width="2.7" height="2.7" fill="#000"/>
<rect x="576.40" y="295.36" width="2.7" height="2.7" fill="#000"/>
<rect x="576.63" y="293.19" width="2.7" height="2.7" fill="#000"/>
<rect x="576.87" y="291.86" width="2.7" height="2.7" fill="#000"/>
<rect x="577.10" y="292.93" width="2.7" height="2.7" fill="#000"/>
<rect x="577.34" y="294.08" width="2.7" height="2.7" fill="#000"/>
<rect x="577.57" y="292.09" width="2.7" height="2.7" fill="#000"/>
<rect x="577.81" y="293.08" width="2.7" height="2.7" fill="#000"/>
<rect x="578.04" y="290.83" width="2.7" height="2.7" fill="#000"/>
<rect x="578.28" y="293.56" width="2.7" height="2.7" fill="#000"/>
<rect x="578.51" y="290.76" width="2.7" height="2.7" fill="#000"/>
<rect x="578.75" y="293.59" width="2.7" height="2.7" fill="#000"/>
<rect x="578.98" y="290.51" width="2.7" height="2.7" fill="#000"/>
<rect x="579.22" y="291.30" width="2.7" height="2.7" fill="#000"/>
<rect x="579.45" y="292.29" width="2.7" height="2.7" fill="#000"/>
<rect x="579.68" y="292.48" width="2.7" height="2.7" fill="#000"/>
<rect x="579.92" y="294.99" width="2.7" height="2.7" fill="#000"/>
<rect x="580.15" y="294.39" width="2.7" height="2.7" fill="#000"/>
<rect x="580.39" y="294.41" width="2.7" height="2.7" fill="#000"/>
<rect x="580.62" y="292.72" width="2.7" height="2.7" fill="#000"/>
<rect x="580.86" y="291.90" width="2.7" height="2.7" fill="#000"/>
<rect x="581.09" y="292.32" width="2.7" height="2.7" fill="#000"/>
<rect x="581.33" y="291.19" width="2.7" height="2.7" fill="#000"/>
<rect x="581.56" y="295.43" width="2.7" height="2.7" fill="#000"/>
<rect x="581.80" y="292.06" width="2.7" height="2.7" fill="#000"/>
<rect x="582.03" y="293.63" width="2.7" height="2.7" fill="#000"/>
<rect x="582.26" y="293.41" width="2.7" height="2.7" fill="#000"/>
<rect x="582.50" y="290.41" width="2.7" height="2.7" fill="#000"/>
<rect x="582.73" y="291.06" width="2.7" height="2.7" fill="#000"/>
<rect x="582.97" y="290.32" width="2.7" height="2.7" fill="#000"/>
<rect x="583.20" y="291.88" width="2.7" height="2.7" fill="#000"/>
<rect x="583.44" y="294.24" width="2.7" height="2.7" fill="#000"/>
<rect x="583.67" y="294.63" width="2.7" height="2.7" fill="#000"/>
<rect x="583.91" y="297.60" width="2.7" height="2.7" fill="#000"/>
<rect x="584.14" y="298.26" width="2.7" height="2.7" fill="#000"/>
<rect x="584.38" y="298.38" width="2.7" height="2.7" fill="#000"/>
<rect x="584.61" y="297.52" width="2.7" height="2.7" fill="#000"/>
<rect x="584.84" y="296.84" width="2.7" height="2.7" fill="#000"/>
<rect x="585.08" y="299.92" width="2.7" height="2.7" fill="#000"/>
<rect x="585.31" y="303.49" width="2.7" height="2.7" fill="#000"/>
<rect x="585.55" y="302.38" width="2.7" height="2.7" fill="#000"/>
<rect x="585.78" y="303.15" width="2.7" height="2.7" fill="#000"/>
<rect x="586.02" y="302.52" width="2.7" height="2.7" fill="#000"/>
<rect x="586.25" y="301.58" width="2.7" height="2.7" fill="#000"/>
<rect x="586.49" y="301.76" width="2.7" height="2.7" fill="#000"/>
<rect x="586.72" y="303.41" width="2.7" height="2.7" fill="#000"/>
<rect x="586.96" y="302.72" width="2.7" height="2.7" fill="#000"/>
<rect x="587.19" y="303.61" width="2.7" height="2.7" fill="#000"/>
<rect x="587.42" y="306.36" width="2.7" height="2.7" fill="#000"/>
<rect x="587.66" y="304.86" width="2.7" height="2.7" fill="#000"/>
<rect x="587.89" y="302.20" width="2.7" height="2.7" fill="#000"/>
<rect x="588.13" y="304.64" width="2.7" height="2.7" fill="#000"/>
<rect x="588.36" y="301.52" width="2.7" height="2.7" fill="#000"/>
<rect x="588.60" y="301.06" width="2.7" height="2.7" fill="#000"/>
<rect x="588.83" y="303.53" width="2.7" height="2.7" fill="#000"/>
<rect x="589.07" y="300.71" width="2.7" height="2.7" fill="#000"/>
<rect x="589.30" y="299.19" width="2.7" height="2.7" fill="#000"/>
<rect x="589.54" y="296.61" width="2.7" height="2.7" fill="#000"/>
<rect x="589.77" y="298.60" width="2.7" height="2.7" fill="#000"/>
<rect x="590.00" y="294.80" width="2.7" height="2.7" fill="#000"/>
<rect x="590.24" y="294.79" width="2.7" height="2.7" fill="#000"/>
<rect x="590.47" y="296.23" width="2.7" height="2.7" fill="#000"/>
<rect x="590.71" y="293.62" width="2.7" height="2.7" fill="#000"/>
<rect x="590.94" y="291.58" width="2.7" height="2.7" fill="#000"/>
<rect x="591.18" y="289.64" width="2.7" height="2.7" fill="#000"/>
<rect x="591.41" y="291.91" width="2.7" height="2.7" fill="#000"/>
<rect x="591.65" y="291.11" width="2.7" height="2.7" fill="#000"/>
<rect x="591.88" y="288.30" width="2.7" height="2.7" fill="#000"/>
<rect x="592.12" y="288.18" width="2.7" height="2.7" fill="#000"/>
<rect x="592.35" y="287.58" width="2.7" height="2.7" fill="#000"/>
<rect x="592.58" y="288.60" width="2.7" height="2.7" fill="#000"/>
<rect x="592.82" y="288.65" width="2.7" height="2.7" fill="#000"/>
<rect x="593.05" y="287.49" width="2.7" height="2.7" fill="#000"/>
<rect x="593.29" y="285.48" width="2.7" height="2.7" fill="#000"/>
<rect x="593.52" y="285.46" width="2.7" height="2.7" fill="#000"/>
<rect x="593.76" y="286.97" width="2.7" height="2.7" fill="#000"/>
<rect x="593.99" y="285.70" width="2.7" height="2.7" fill="#000"/>
<rect x="594.23" y="287.27" width="2.7" height="2.7" fill="#000"/>
<rect x="594.46" y="284.86" width="2.7" height="2.7" fill="#000"/>
<rect x="594.70" y="284.87" width="2.7" height="2.7" fill="#000"/>
<rect x="594.93" y="286.61" width="2.7" height="2.7" fill="#000"/>
<rect x="595.16" y="283.00" width="2.7" height="2.7" fill="#000"/>
<rect x="595.40" y="282.69" width="2.7" height="2.7" fill="#000"/>
<rect x="595.63" y="284.05" width="2.7" height="2.7" fill="#000"/>
<rect x="595.87" y="283.79" width="2.7" height="2.7" fill="#000"/>
<rect x="596.10" y="284.05" width="2.7" height="2.7" fill="#000"/>
<rect x="596.34" y="283.06" width="2.7" height="2.7" fill="#000"/>
<rect x="596.57" y="280.67" width="2.7" height="2.7" fill="#000"/>
<rect x="596.81" y="280.22" width="2.7" height="2.7" fill="#000"/>
<rect x="597.04" y="281.19" width="2.7" height="2.7" fill="#000"/>
<rect x="597.28" y="279.57" width="2.7" height="2.7" fill="#000"/>
<rect x="597.51" y="278.75" width="2.7" height="2.7" fill="#000"/>
<rect x="597.74" y="280.31" width="2.7" height="2.7" fill="#000"/>
<rect x="597.98" y="279.45" width="2.7" height="2.7" fill="#000"/>
<rect x="598.21" y="277.54" width="2.7" height="2.7" fill="#000"/>
<rect x="598.45" y="276.79" width="2.7" height="2.7" fill="#000"/>
<rect x="598.68" y="277.06" width="2.7" height="2.7" fill="#000"/>
<rect x="598.92" y="281.15" width="2.7" height="2.7" fill="#000"/>
<rect x="599.15" y="279.63" width="2.7" height="2.7" fill="#000"/>
<rect x="599.39" y="277.44" width="2.7" height="2.7" fill="#000"/>
<rect x="599.62" y="272.81" width="2.7" height="2.7" fill="#000"/>
<rect x="599.86" y="269.87" width="2.7" height="2.7" fill="#000"/>
<rect x="600.09" y="269.90" width="2.7" height="2.7" fill="#000"/>
<rect x="600.32" y="269.90" width="2.7" height="2.7" fill="#000"/>
<rect x="600.56" y="271.57" width="2.7" height="2.7" fill="#000"/>
<rect x="600.79" y="270.89" width="2.7" height="2.7" fill="#000"/>
<rect x="601.03" y="268.51" width="2.7" height="2.7" fill="#000"/>
<rect x="601.26" y="265.52" width="2.7" height="2.7" fill="#000"/>
<rect x="601.50" y="266.87" width="2.7" height="2.7" fill="#000"/>
<rect x="601.73" y="268.82" width="2.7" height="2.7" fill="#000"/>
<rect x="601.97" y="268.98" width="2.7" height="2.7" fill="#000"/>
<rect x="602.20" y="269.03" width="2.7" height="2.7" fill="#000"/>
<rect x="602.44" y="268.50" width="2.7" height="2.7" fill="#000"/>
<rect x="602.67" y="268.83" width="2.7" height="2.7" fill="#000"/>
<rect x="602.90" y="270.60" width="2.7" height="2.7" fill="#000"/>
<rect x="603.14" y="270.65" width="2.7" height="2.7" fill="#000"/>
<rect x="603.37" y="268.26" width="2.7" height="2.7" fill="#000"/>
<rect x="603.61" y="267.37" width="2.7" height="2.7" fill="#000"/>
<rect x="603.84" y="267.60" width="2.7" height="2.7" fill="#000"/>
<rect x="604.08" y="267.42" width="2.7" height="2.7" fill="#000"/>
<rect x="604.31" y="266.52" width="2.7" height="2.7" fill="#000"/>
<rect x="604.55" y="268.09" width="2.7" height="2.7" fill="#000"/>
<rect x="604.78" y="263.52" width="2.7" height="2.7" fill="#000"/>
<rect x="605.02" y="266.66" width="2.7" height="2.7" fill="#000"/>
<rect x="605.25" y="263.33" width="2.7" height="2.7" fill="#000"/>
<rect x="605.48" y="265.91" width="2.7" height="2.7" fill="#000"/>
<rect x="605.72" y="264.64" width="2.7" height="2.7" fill="#000"/>
<rect x="605.95" y="262.83" width="2.7" height="2.7" fill="#000"/>
<rect x="606.19" y="262.56" width="2.7" height="2.7" fill="#000"/>
<rect x="606.42" y="267.56" width="2.7" height="2.7" fill="#000"/>
<rect x="606.66" y="258.50" width="2.7" height="2.7" fill="#000"/>
<rect x="606.89" y="261.05" width="2.7" height="2.7" fill="#000"/>
<rect x="607.13" y="262.70" width="2.7" height="2.7" fill="#000"/>
<rect x="607.36" y="266.22" width="2.7" height="2.7" fill="#000"/>
<rect x="607.60" y="264.92" width="2.7" height="2.7" fill="#000"/>
<rect x="607.83" y="264.92" width="2.7" height="2.7" fill="#000"/>
<rect x="608.06" y="264.23" width="2.7" height="2.7" fill="#000"/>
<rect x="608.30" y="263.77" width="2.7" height="2.7" fill="#000"/>
<rect x="608.53" y="263.20" width="2.7" height="2.7" fill="#000"/>
<rect x="608.77" y="262.71" width="2.7" height="2.7" fill="#000"/>
<rect x="609.00" y="262.23" width="2.7" height="2.7" fill="#000"/>
<rect x="609.24" y="262.26" width="2.7" height="2.7" fill="#000"/>
<rect x="609.47" y="263.04" width="2.7" height="2.7" fill="#000"/>
<rect x="609.71" y="265.51" width="2.7" height="2.7" fill="#000"/>
<rect x="609.94" y="262.99" width="2.7" height="2.7" fill="#000"/>
<rect x="610.18" y="259.42" width="2.7" height="2.7" fill="#000"/>
<rect x="610.41" y="261.39" width="2.7" height="2.7" fill="#000"/>
<rect x="610.64" y="264.82" width="2.7" height="2.7" fill="#000"/>
<rect x="610.88" y="264.30" width="2.7" height="2.7" fill="#000"/>
<rect x="611.11" y="262.01" width="2.7" height="2.7" fill="#000"/>
<rect x="611.35" y="262.33" width="2.7" height="2.7" fill="#000"/>
<rect x="611.58" y="262.19" width="2.7" height="2.7" fill="#000"/>
<rect x="611.82" y="263.23" width="2.7" height="2.7" fill="#000"/>
<rect x="612.05" y="260.06" width="2.7" height="2.7" fill="#000"/>
<rect x="612.29" y="262.38" width="2.7" height="2.7" fill="#000"/>
<rect x="612.52" y="259.19" width="2.7" height="2.7" fill="#000"/>
<rect x="612.76" y="255.74" width="2.7" height="2.7" fill="#000"/>
<rect x="612.99" y="258.06" width="2.7" height="2.7" fill="#000"/>
<rect x="613.22" y="258.38" width="2.7" height="2.7" fill="#000"/>
<rect x="613.46" y="255.83" width="2.7" height="2.7" fill="#000"/>
<rect x="613.69" y="256.96" width="2.7" height="2.7" fill="#000"/>
<rect x="613.93" y="255.19" width="2.7" height="2.7" fill="#000"/>
<rect x="614.16" y="256.92" width="2.7" height="2.7" fill="#000"/>
<rect x="614.40" y="257.70" width="2.7" height="2.7" fill="#000"/>
<rect x="614.63" y="257.50" width="2.7" height="2.7" fill="#000"/>
<rect x="614.87" y="256.86" width="2.7" height="2.7" fill="#000"/>
<rect x="615.10" y="254.78" width="2.7" height="2.7" fill="#000"/>
<rect x="615.34" y="257.52" width="2.7" height="2.7" fill="#000"/>
<rect x="615.57" y="255.85" width="2.7" height="2.7" fill="#000"/>
<rect x="615.80" y="254.80" width="2.7" height="2.7" fill="#000"/>
<rect x="616.04" y="252.89" width="2.7" height="2.7" fill="#000"/>
<rect x="616.27" y="253.36" width="2.7" height="2.7" fill="#000"/>
<rect x="616.51" y="254.23" width="2.7" height="2.7" fill="#000"/>
<rect x="616.74" y="253.59" width="2.7" height="2.7" fill="#000"/>
<rect x="616.98" y="251.60" width="2.7" height="2.7" fill="#000"/>
<rect x="617.21" y="251.90" width="2.7" height="2.7" fill="#000"/>
<rect x="617.45" y="254.76" width="2.7" height="2.7" fill="#000"/>
<rect x="617.68" y="250.36" width="2.7" height="2.7" fill="#000"/>
<rect x="617.92" y="253.74" width="2.7" height="2.7" fill="#000"/>
<rect x="618.15" y="248.74" width="2.7" height="2.7" fill="#000"/>
<rect x="618.38" y="250.73" width="2.7" height="2.7" fill="#000"/>
<rect x="618.62" y="251.91" width="2.7" height="2.7" fill="#000"/>
<rect x="618.85" y="254.57" width="2.7" height="2.7" fill="#000"/>
<rect x="619.09" y="251.07" width="2.7" height="2.7" fill="#000"/>
<rect x="619.32" y="246.07" width="2.7" height="2.7" fill="#000"/>
<rect x="619.56" y="247.25" width="2.7" height="2.7" fill="#000"/>
<rect x="619.79" y="248.83" width="2.7" height="2.7" fill="#000"/>
<rect x="620.03" y="247.82" width="2.7" height="2.7" fill="#000"/>
<rect x="620.26" y="251.66" width="2.7" height="2.7" fill="#000"/>
<rect x="620.50" y="250.71" width="2.7" height="2.7" fill="#000"/>
<rect x="620.73" y="248.76" width="2.7" height="2.7" fill="#000"/>
<rect x="620.96" y="246.35" width="2.7" height="2.7" fill="#000"/>
<rect x="621.20" y="247.97" width="2.7" height="2.7" fill="#000"/>
<rect x="621.43" y="246.86" width="2.7" height="2.7" fill="#000"/>
<rect x="621.67" y="246.54" width="2.7" height="2.7" fill="#000"/>
<rect x="621.90" y="247.38" width="2.7" height="2.7" fill="#000"/>
<rect x="622.14" y="243.48" width="2.7" height="2.7" fill="#000"/>
<rect x="622.37" y="241.26" width="2.7" height="2.7" fill="#000"/>
<rect x="622.61" y="240.94" width="2.7" height="2.7" fill="#000"/>
<rect x="622.84" y="241.66" width="2.7" height="2.7" fill="#000"/>
<rect x="623.08" y="241.79" width="2.7" height="2.7" fill="#000"/>
<rect x="623.31" y="243.46" width="2.7" height="2.7" fill="#000"/>
<rect x="623.54" y="243.32" width="2.7" height="2.7" fill="#000"/>
<rect x="623.78" y="240.80" width="2.7" height="2.7" fill="#000"/>
<rect x="624.01" y="242.45" width="2.7" height="2.7" fill="#000"/>
<rect x="624.25" y="242.16" width="2.7" height="2.7" fill="#000"/>
<rect x="624.48" y="240.96" width="2.7" height="2.7" fill="#000"/>
<rect x="624.72" y="243.49" width="2.7" height="2.7" fill="#000"/>
<rect x="624.95" y="241.32" width="2.7" height="2.7" fill="#000"/>
<rect x="625.19" y="237.82" width="2.7" height="2.7" fill="#000"/>
<rect x="625.42" y="242.84" width="2.7" height="2.7" fill="#000"/>
<rect x="625.66" y="236.57" width="2.7" height="2.7" fill="#000"/>
<rect x="625.89" y="242.45" width="2.7" height="2.7" fill="#000"/>
<rect x="626.12" y="242.99" width="2.7" height="2.7" fill="#000"/>
<rect x="626.36" y="244.65" width="2.7" height="2.7" fill="#000"/>
<rect x="626.59" y="241.63" width="2.7" height="2.7" fill="#000"/>
<rect x="626.83" y="244.83" width="2.7" height="2.7" fill="#000"/>
<rect x="627.06" y="238.33" width="2.7" height="2.7" fill="#000"/>
<rect x="627.30" y="246.51" width="2.7" height="2.7" fill="#000"/>
<rect x="627.53" y="244.48" width="2.7" height="2.7" fill="#000"/>
<rect x="627.77" y="246.48" width="2.7" height="2.7" fill="#000"/>
<rect x="628.00" y="242.83" width="2.7" height="2.7" fill="#000"/>
<rect x="628.24" y="245.01" width="2.7" height="2.7" fill="#000"/>
<rect x="628.47" y="244.52" width="2.7" height="2.7" fill="#000"/>
<rect x="628.70" y="244.82" width="2.7" height="2.7" fill="#000"/>
<rect x="628.94" y="248.03" width="2.7" height="2.7" fill="#000"/>
<rect x="629.17" y="244.42" width="2.7" height="2.7" fill="#000"/>
<rect x="629.41" y="241.77" width="2.7" height="2.7" fill="#000"/>
<rect x="629.64" y="241.88" width="2.7" height="2.7" fill="#000"/>
<rect x="629.88" y="238.64" width="2.7" height="2.7" fill="#000"/>
<rect x="630.11" y="244.28" width="2.7" height="2.7" fill="#000"/>
<rect x="630.35" y="244.30" width="2.7" height="2.7" fill="#000"/>
<rect x="630.58" y="245.09" width="2.7" height="2.7" fill="#000"/>
<rect x="630.82" y="246.42" width="2.7" height="2.7" fill="#000"/>
<rect x="631.05" y="240.52" width="2.7" height="2.7" fill="#000"/>
<rect x="631.28" y="244.34" width="2.7" height="2.7" fill="#000"/>
<rect x="631.52" y="241.99" width="2.7" height="2.7" fill="#000"/>
<rect x="631.75" y="240.84" width="2.7" height="2.7" fill="#000"/>
<rect x="631.99" y="241.71" width="2.7" height="2.7" fill="#000"/>
<rect x="632.22" y="242.96" width="2.7" height="2.7" fill="#000"/>
<rect x="632.46" y="241.93" width="2.7" height="2.7" fill="#000"/>
<rect x="632.69" y="244.11" width="2.7" height="2.7" fill="#000"/>
<rect x="632.93" y="244.16" width="2.7" height="2.7" fill="#000"/>
<rect x="633.16" y="242.57" width="2.7" height="2.7" fill="#000"/>
<rect x="633.40" y="240.46" width="2.7" height="2.7" fill="#000"/>
<rect x="633.63" y="246.49" width="2.7" height="2.7" fill="#000"/>
<rect x="633.87" y="244.01" width="2.7" height="2.7" fill="#000"/>
<rect x="634.10" y="241.55" width="2.7" height="2.7" fill="#000"/>
<rect x="634.33" y="246.50" width="2.7" height="2.7" fill="#000"/>
<rect x="634.57" y="244.49" width="2.7" height="2.7" fill="#000"/>
<rect x="634.80" y="246.36" width="2.7" height="2.7" fill="#000"/>
<rect x="635.04" y="243.37" width="2.7" height="2.7" fill="#000"/>
<rect x="635.27" y="250.09" width="2.7" height="2.7" fill="#000"/>
<rect x="635.51" y="249.83" width="2.7" height="2.7" fill="#000"/>
<rect x="635.74" y="243.14" width="2.7" height="2.7" fill="#000"/>
<rect x="635.98" y="249.33" width="2.7" height="2.7" fill="#000"/>
<rect x="636.21" y="251.85" width="2.7" height="2.7" fill="#000"/>
<rect x="636.45" y="245.98" width="2.7" height="2.7" fill="#000"/>
<rect x="636.68" y="248.16" width="2.7" height="2.7" fill="#000"/>
<rect x="636.91" y="249.06" width="2.7" height="2.7" fill="#000"/>
<rect x="637.15" y="244.29" width="2.7" height="2.7" fill="#000"/>
<rect x="637.38" y="248.34" width="2.7" height="2.7" fill="#000"/>
<rect x="637.62" y="243.80" width="2.7" height="2.7" fill="#000"/>
<rect x="637.85" y="248.17" width="2.7" height="2.7" fill="#000"/>
<rect x="638.09" y="240.24" width="2.7" height="2.7" fill="#000"/>
<rect x="638.32" y="241.52" width="2.7" height="2.7" fill="#000"/>
<rect x="638.56" y="242.42" width="2.7" height="2.7" fill="#000"/>
<rect x="638.79" y="243.92" width="2.7" height="2.7" fill="#000"/>
<rect x="639.03" y="245.97" width="2.7" height="2.7" fill="#000"/>
<rect x="639.26" y="242.61" width="2.7" height="2.7" fill="#000"/>
<rect x="639.49" y="245.13" width="2.7" height="2.7" fill="#000"/>
<rect x="639.73" y="246.42" width="2.7" height="2.7" fill="#000"/>
<rect x="639.96" y="250.71" width="2.7" height="2.7" fill="#000"/>
<rect x="640.20" y="245.19" width="2.7" height="2.7" fill="#000"/>
<rect x="640.43" y="242.64" width="2.7" height="2.7" fill="#000"/>
<rect x="640.67" y="243.85" width="2.7" height="2.7" fill="#000"/>
<rect x="640.90" y="244.57" width="2.7" height="2.7" fill="#000"/>
<rect x="641.14" y="243.91" width="2.7" height="2.7" fill="#000"/>
<rect x="641.37" y="245.65" width="2.7" height="2.7" fill="#000"/>
<rect x="641.61" y="248.34" width="2.7" height="2.7" fill="#000"/>
<rect x="641.84" y="247.11" width="2.7" height="2.7" fill="#000"/>
<rect x="642.07" y="248.38" width="2.7" height="2.7" fill="#000"/>
<rect x="642.31" y="241.78" width="2.7" height="2.7" fill="#000"/>
<rect x="642.54" y="240.48" width="2.7" height="2.7" fill="#000"/>
<rect x="642.78" y="243.06" width="2.7" height="2.7" fill="#000"/>
<rect x="643.01" y="242.41" width="2.7" height="2.7" fill="#000"/>
<rect x="643.25" y="241.11" width="2.7" height="2.7" fill="#000"/>
<rect x="643.48" y="240.08" width="2.7" height="2.7" fill="#000"/>
<rect x="643.72" y="241.48" width="2.7" height="2.7" fill="#000"/>
<rect x="643.95" y="244.37" width="2.7" height="2.7" fill="#000"/>
<rect x="644.19" y="246.51" width="2.7" height="2.7" fill="#000"/>
<rect x="644.42" y="240.69" width="2.7" height="2.7" fill="#000"/>
<rect x="644.65" y="246.02" width="2.7" height="2.7" fill="#000"/>
<rect x="644.89" y="244.56" width="2.7" height="2.7" fill="#000"/>
<rect x="645.12" y="247.02" width="2.7" height="2.7" fill="#000"/>
<rect x="645.36" y="248.61" width="2.7" height="2.7" fill="#000"/>
<rect x="645.59" y="243.20" width="2.7" height="2.7" fill="#000"/>
<rect x="645.83" y="248.82" width="2.7" height="2.7" fill="#000"/>
<rect x="646.06" y="248.62" width="2.7" height="2.7" fill="#000"/>
<rect x="646.30" y="245.14" width="2.7" height="2.7" fill="#000"/>
<rect x="646.53" y="242.09" width="2.7" height="2.7" fill="#000"/>
<rect x="646.77" y="245.40" width="2.7" height="2.7" fill="#000"/>
<rect x="647.00" y="245.25" width="2.7" height="2.7" fill="#000"/>
<rect x="647.23" y="247.27" width="2.7" height="2.7" fill="#000"/>
<rect x="647.47" y="246.81" width="2.7" height="2.7" fill="#000"/>
<rect x="647.70" y="245.78" width="2.7" height="2.7" fill="#000"/>
<rect x="647.94" y="246.61" width="2.7" height="2.7" fill="#000"/>
<rect x="648.17" y="244.05" width="2.7" height="2.7" fill="#000"/>
<rect x="648.41" y="246.09" width="2.7" height="2.7" fill="#000"/>
<rect x="648.64" y="243.73" width="2.7" height="2.7" fill="#000"/>
<rect x="648.88" y="246.68" width="2.7" height="2.7" fill="#000"/>
<rect x="649.11" y="245.55" width="2.7" height="2.7" fill="#000"/>
<rect x="649.35" y="243.36" width="2.7" height="2.7" fill="#000"/>
<rect x="649.58" y="248.06" width="2.7" height="2.7" fill="#000"/>
<rect x="649.81" y="242.28" width="2.7" height="2.7" fill="#000"/>
<rect x="650.05" y="241.11" width="2.7" height="2.7" fill="#000"/>
<rect x="650.28" y="243.88" width="2.7" height="2.7" fill="#000"/>
<rect x="650.52" y="248.65" width="2.7" height="2.7" fill="#000"/>
<rect x="650.75" y="244.85" width="2.7" height="2.7" fill="#000"/>
<rect x="650.99" y="241.80" width="2.7" height="2.7" fill="#000"/>
<rect x="651.22" y="248.53" width="2.7" height="2.7" fill="#000"/>
<rect x="651.46" y="244.93" width="2.7" height="2.7" fill="#000"/>
<rect x="651.69" y="242.34" width="2.7" height="2.7" fill="#000"/>
<rect x="651.93" y="242.57" width="2.7" height="2.7" fill="#000"/>
<rect x="652.16" y="241.29" width="2.7" height="2.7" fill="#000"/>
<rect x="652.39" y="245.03" width="2.7" height="2.7" fill="#000"/>
<rect x="652.63" y="242.57" width="2.7" height="2.7" fill="#000"/>
<rect x="652.86" y="246.54" width="2.7" height="2.7" fill="#000"/>
<rect x="653.10" y="246.27" width="2.7" height="2.7" fill="#000"/>
<rect x="653.33" y="244.74" width="2.7" height="2.7" fill="#000"/>
<rect x="653.57" y="249.37" width="2.7" height="2.7" fill="#000"/>
<rect x="653.80" y="245.50" width="2.7" height="2.7" fill="#000"/>
<rect x="654.04" y="250.07" width="2.7" height="2.7" fill="#000"/>
<rect x="654.27" y="245.73" width="2.7" height="2.7" fill="#000"/>
<rect x="654.51" y="245.17" width="2.7" height="2.7" fill="#000"/>
<rect x="654.74" y="237.42" width="2.7" height="2.7" fill="#000"/>
<rect x="654.97" y="247.29" width="2.7" height="2.7" fill="#000"/>
<rect x="655.21" y="241.88" width="2.7" height="2.7" fill="#000"/>
<rect x="655.44" y="249.02" width="2.7" height="2.7" fill="#000"/>
<rect x="655.68" y="239.72" width="2.7" height="2.7" fill="#000"/>
<rect x="655.91" y="241.44" width="2.7" height="2.7" fill="#000"/>
<rect x="656.15" y="247.62" width="2.7" height="2.7" fill="#000"/>
<rect x="656.38" y="245.30" width="2.7" height="2.7" fill="#000"/>
<rect x="656.62" y="244.09" width="2.7" height="2.7" fill="#000"/>
<rect x="656.85" y="242.27" width="2.7" height="2.7" fill="#000"/>
<rect x="657.09" y="242.98" width="2.7" height="2.7" fill="#000"/>
<rect x="657.32" y="243.30" width="2.7" height="2.7" fill="#000"/>
<rect x="657.55" y="245.49" width="2.7" height="2.7" fill="#000"/>
<rect x="657.79" y="247.76" width="2.7" height="2.7" fill="#000"/>
<rect x="658.02" y="249.51" width="2.7" height="2.7" fill="#000"/>
<rect x="658.26" y="245.42" width="2.7" height="2.7" fill="#000"/>
<rect x="658.49" y="243.28" width="2.7" height="2.7" fill="#000"/>
<rect x="658.73" y="246.55" width="2.7" height="2.7" fill="#000"/>
<rect x="658.96" y="245.86" width="2.7" height="2.7" fill="#000"/>
<rect x="659.20" y="247.72" width="2.7" height="2.7" fill="#000"/>
<rect x="659.43" y="245.97" width="2.7" height="2.7" fill="#000"/>
<rect x="659.67" y="246.80" width="2.7" height="2.7" fill="#000"/>
<rect x="659.90" y="242.25" width="2.7" height="2.7" fill="#000"/>
<circle cx="497.30" cy="294.79" r="1.5" fill="#ff0000"/>
<circle cx="497.59" cy="298.01" r="1.5" fill="#ff0000"/>
<circle cx="497.89" cy="297.79" r="1.5" fill="#ff0000"/>
<circle cx="498.18" cy="286.78" r="1.5" fill="#ff0000"/>
<circle cx="498.47" cy="287.72" r="1.5" fill="#ff0000"/>
<circle cx="498.77" cy="286.43" r="1.5" fill="#ff0000"/>
<circle cx="499.06" cy="285.73" r="1.5" fill="#ff0000"/>
<circle cx="499.35" cy="289.10" r="1.5" fill="#ff0000"/>
<circle cx="499.65" cy="286.45" r="1.5" fill="#ff0000"/>
<circle cx="499.94" cy="278.66" r="1.5" fill="#ff0000"/>
<circle cx="500.23" cy="289.00" r="1.5" fill="#ff0000"/>
<circle cx="500.53" cy="288.37" r="1.5" fill="#ff0000"/>
<circle cx="500.82" cy="288.00" r="1.5" fill="#ff0000"/>
<circle cx="501.11" cy="283.90" r="1.5" fill="#ff0000"/>
<circle cx="501.41" cy="281.22" r="1.5" fill="#ff0000"/>
<circle cx="501.70" cy="282.22" r="1.5" fill="#ff0000"/>
<circle cx="501.99" cy="272.91" r="1.5" fill="#ff0000"/>
<circle cx="502.29" cy="285.67" r="1.5" fill="#ff0000"/>
<circle cx="502.58" cy="274.68" r="1.5" fill="#ff0000"/>
<circle cx="502.87" cy="293.87" r="1.5" fill="#ff0000"/>
<circle cx="503.17" cy="285.67" r="1.5" fill="#ff0000"/>
<circle cx="503.46" cy="282.34" r="1.5" fill="#ff0000"/>
<circle cx="503.75" cy="282.63" r="1.5" fill="#ff0000"/>
<circle cx="504.05" cy="279.26" r="1.5" fill="#ff0000"/>
<circle cx="504.34" cy="282.10" r="1.5" fill="#ff0000"/>
<circle cx="504.63" cy="280.01" r="1.5" fill="#ff0000"/>
<circle cx="504.93" cy="286.18" r="1.5" fill="#ff0000"/>
<circle cx="505.22" cy="278.76" r="1.5" fill="#ff0000"/>
<circle cx="505.51" cy="284.08" r="1.5" fill="#ff0000"/>
<circle cx="505.81" cy="282.61" r="1.5" fill="#ff0000"/>
<circle cx="506.10" cy="289.80" r="1.5" fill="#ff0000"/>
<circle cx="506.39" cy="279.46" r="1.5" fill="#ff0000"/>
<circle cx="506.69" cy="277.67" r="1.5" fill="#ff0000"/>
<circle cx="506.98" cy="280.96" r="1.5" fill="#ff0000"/>
<circle cx="507.27" cy="271.10" r="1.5" fill="#ff0000"/>
<circle cx="507.57" cy="273.08" r="1.5" fill="#ff0000"/>
<circle cx="507.86" cy="280.53" r="1.5" fill="#ff0000"/>
<circle cx="508.15" cy="274.63" r="1.5" fill="#ff0000"/>
<circle cx="508.45" cy="280.90" r="1.5" fill="#ff0000"/>
<circle cx="508.74" cy="274.29" r="1.5" fill="#ff0000"/>
<circle cx="509.03" cy="284.92" r="1.5" fill="#ff0000"/>
<circle cx="509.32" cy="272.86" r="1.5" fill="#ff0000"/>
<circle cx="509.62" cy="272.53" r="1.5" fill="#ff0000"/>
<circle cx="509.91" cy="282.41" r="1.5" fill="#ff0000"/>
<circle cx="510.20" cy="271.21" r="1.5" fill="#ff0000"/>
<circle cx="510.50" cy="280.44" r="1.5" fill="#ff0000"/>
<circle cx="510.79" cy="277.48" r="1.5" fill="#ff0000"/>
<circle cx="511.08" cy="277.84" r="1.5" fill="#ff0000"/>
<circle cx="511.38" cy="292.26" r="1.5" fill="#ff0000"/>
<circle cx="511.67" cy="278.74" r="1.5" fill="#ff0000"/>
<circle cx="511.96" cy="275.99" r="1.5" fill="#ff0000"/>
<circle cx="512.26" cy="271.68" r="1.5" fill="#ff0000"/>
<circle cx="512.55" cy="275.94" r="1.5" fill="#ff0000"/>
<circle cx="512.84" cy="268.71" r="1.5" fill="#ff0000"/>
<circle cx="513.14" cy="263.69" r="1.5" fill="#ff0000"/>
<circle cx="513.43" cy="264.25" r="1.5" fill="#ff0000"/>
<circle cx="513.72" cy="266.62" r="1.5" fill="#ff0000"/>
<circle cx="514.02" cy="274.62" r="1.5" fill="#ff0000"/>
<circle cx="514.31" cy="271.76" r="1.5" fill="#ff0000"/>
<circle cx="514.60" cy="263.18" r="1.5" fill="#ff0000"/>
<circle cx="514.90" cy="258.38" r="1.5" fill="#ff0000"/>
<circle cx="515.19" cy="260.79" r="1.5" fill="#ff0000"/>
<circle cx="515.48" cy="262.55" r="1.5" fill="#ff0000"/>
<circle cx="515.78" cy="262.13" r="1.5" fill="#ff0000"/>
<circle cx="516.07" cy="263.38" r="1.5" fill="#ff0000"/>
<circle cx="516.36" cy="264.57" r="1.5" fill="#ff0000"/>
<circle cx="516.66" cy="264.35" r="1.5" fill="#ff0000"/>
<circle cx="516.95" cy="260.16" r="1.5" fill="#ff0000"/>
<circle cx="517.24" cy="267.52" r="1.5" fill="#ff0000"/>
<circle cx="517.54" cy="267.15" r="1.5" fill="#ff0000"/>
<circle cx="517.83" cy="264.51" r="1.5" fill="#ff0000"/>
<circle cx="518.12" cy="273.05" r="1.5" fill="#ff0000"/>
<circle cx="518.42" cy="261.68" r="1.5" fill="#ff0000"/>
<circle cx="518.71" cy="272.14" r="1.5" fill="#ff0000"/>
<circle cx="519.00" cy="272.75" r="1.5" fill="#ff0000"/>
<circle cx="519.30" cy="263.68" r="1.5" fill="#ff0000"/>
<circle cx="519.59" cy="263.78" r="1.5" fill="#ff0000"/>
<circle cx="519.88" cy="273.32" r="1.5" fill="#ff0000"/>
<circle cx="520.18" cy="259.13" r="1.5" fill="#ff0000"/>
<circle cx="520.47" cy="272.65" r="1.5" fill="#ff0000"/>
<circle cx="520.76" cy="266.28" r="1.5" fill="#ff0000"/>
<circle cx="521.06" cy="260.69" r="1.5" fill="#ff0000"/>
<circle cx="521.35" cy="266.72" r="1.5" fill="#ff0000"/>
<circle cx="521.64" cy="274.69" r="1.5" fill="#ff0000"/>
<circle cx="521.94" cy="265.21" r="1.5" fill="#ff0000"/>
<circle cx="522.23" cy="276.40" r="1.5" fill="#ff0000"/>
<circle cx="522.52" cy="264.07" r="1.5" fill="#ff0000"/>
<circle cx="522.82" cy="272.32" r="1.5" fill="#ff0000"/>
<circle cx="523.11" cy="265.99" r="1.5" fill="#ff0000"/>
<circle cx="523.40" cy="266.40" r="1.5" fill="#ff0000"/>
<circle cx="523.70" cy="258.11" r="1.5" fill="#ff0000"/>
<circle cx="523.99" cy="264.62" r="1.5" fill="#ff0000"/>
<circle cx="524.28" cy="269.29" r="1.5" fill="#ff0000"/>
<circle cx="524.58" cy="265.90" r="1.5" fill="#ff0000"/>
<circle cx="524.87" cy="268.09" r="1.5" fill="#ff0000"/>
<circle cx="525.16" cy="267.13" r="1.5" fill="#ff0000"/>
<circle cx="525.46" cy="269.63" r="1.5" fill="#ff0000"/>
<circle cx="525.75" cy="270.58" r="1.5" fill="#ff0000"/>
<circle cx="526.04" cy="264.44" r="1.5" fill="#ff0000"/>
<circle cx="526.34" cy="264.15" r="1.5" fill="#ff0000"/>
<circle cx="526.63" cy="259.62" r="1.5" fill="#ff0000"/>
<circle cx="526.92" cy="266.00" r="1.5" fill="#ff0000"/>
<circle cx="527.22" cy="265.16" r="1.5" fill="#ff0000"/>
<circle cx="527.51" cy="263.90" r="1.5" fill="#ff0000"/>
<circle cx="527.80" cy="262.34" r="1.5" fill="#ff0000"/>
<circle cx="528.10" cy="263.10" r="1.5" fill="#ff0000"/>
<circle cx="528.39" cy="264.08" r="1.5" fill="#ff0000"/>
<circle cx="528.68" cy="268.61" r="1.5" fill="#ff0000"/>
<circle cx="528.98" cy="255.86" r="1.5" fill="#ff0000"/>
<circle cx="529.27" cy="261.89" r="1.5" fill="#ff0000"/>
<circle cx="529.56" cy="257.46" r="1.5" fill="#ff0000"/>
<circle cx="529.86" cy="254.04" r="1.5" fill="#ff0000"/>
<circle cx="530.15" cy="257.69" r="1.5" fill="#ff0000"/>
<circle cx="530.44" cy="259.32" r="1.5" fill="#ff0000"/>
<circle cx="530.74" cy="259.56" r="1.5" fill="#ff0000"/>
<circle cx="531.03" cy="265.16" r="1.5" fill="#ff0000"/>
<circle cx="531.32" cy="262.54" r="1.5" fill="#ff0000"/>
<circle cx="531.62" cy="262.37" r="1.5" fill="#ff0000"/>
<circle cx="531.91" cy="255.69" r="1.5" fill="#ff0000"/>
<circle cx="532.20" cy="260.95" r="1.5" fill="#ff0000"/>
<circle cx="532.49" cy="257.29" r="1.5" fill="#ff0000"/>
<circle cx="532.79" cy="257.62" r="1.5" fill="#ff0000"/>
<circle cx="533.08" cy="255.22" r="1.5" fill="#ff0000"/>
<circle cx="533.37" cy="250.60" r="1.5" fill="#ff0000"/>
<circle cx="533.67" cy="255.52" r="1.5" fill="#ff0000"/>
<circle cx="533.96" cy="261.60" r="1.5" fill="#ff0000"/>
<circle cx="534.25" cy="253.51" r="1.5" fill="#ff0000"/>
<circle cx="534.55" cy="252.70" r="1.5" fill="#ff0000"/>
<circle cx="534.84" cy="254.98" r="1.5" fill="#ff0000"/>
<circle cx="535.13" cy="253.58" r="1.5" fill="#ff0000"/>
<circle cx="535.43" cy="254.06" r="1.5" fill="#ff0000"/>
<circle cx="535.72" cy="251.48" r="1.5" fill="#ff0000"/>
<circle cx="536.01" cy="250.27" r="1.5" fill="#ff0000"/>
<circle cx="536.31" cy="250.99" r="1.5" fill="#ff0000"/>
<circle cx="536.60" cy="246.74" r="1.5" fill="#ff0000"/>
<circle cx="536.89" cy="246.13" r="1.5" fill="#ff0000"/>
<circle cx="537.19" cy="249.83" r="1.5" fill="#ff0000"/>
<circle cx="537.48" cy="257.55" r="1.5" fill="#ff0000"/>
<circle cx="537.77" cy="248.72" r="1.5" fill="#ff0000"/>
<circle cx="538.07" cy="240.89" r="1.5" fill="#ff0000"/>
<circle cx="538.36" cy="252.48" r="1.5" fill="#ff0000"/>
<circle cx="538.65" cy="247.58" r="1.5" fill="#ff0000"/>
<circle cx="538.95" cy="249.01" r="1.5" fill="#ff0000"/>
<circle cx="539.24" cy="252.67" r="1.5" fill="#ff0000"/>
<circle cx="539.53" cy="255.03" r="1.5" fill="#ff0000"/>
<circle cx="539.83" cy="252.70" r="1.5" fill="#ff0000"/>
<circle cx="540.12" cy="253.77" r="1.5" fill="#ff0000"/>
<circle cx="540.41" cy="252.18" r="1.5" fill="#ff0000"/>
<circle cx="540.71" cy="247.12" r="1.5" fill="#ff0000"/>
<circle cx="541.00" cy="251.62" r="1.5" fill="#ff0000"/>
<circle cx="541.29" cy="257.17" r="1.5" fill="#ff0000"/>
<circle cx="541.59" cy="250.10" r="1.5" fill="#ff0000"/>
<circle cx="541.88" cy="250.73" r="1.5" fill="#ff0000"/>
<circle cx="542.17" cy="254.49" r="1.5" fill="#ff0000"/>
<circle cx="542.47" cy="248.29" r="1.5" fill="#ff0000"/>
<circle cx="542.76" cy="247.97" r="1.5" fill="#ff0000"/>
<circle cx="543.05" cy="255.53" r="1.5" fill="#ff0000"/>
<circle cx="543.35" cy="251.66" r="1.5" fill="#ff0000"/>
<circle cx="543.64" cy="250.43" r="1.5" fill="#ff0000"/>
<circle cx="543.93" cy="253.85" r="1.5" fill="#ff0000"/>
<circle cx="544.23" cy="245.03" r="1.5" fill="#ff0000"/>
<circle cx="544.52" cy="246.30" r="1.5" fill="#ff0000"/>
<circle cx="544.81" cy="253.17" r="1.5" fill="#ff0000"/>
<circle cx="545.11" cy="242.97" r="1.5" fill="#ff0000"/>
<circle cx="545.40" cy="249.63" r="1.5" fill="#ff0000"/>
<circle cx="545.69" cy="249.04" r="1.5" fill="#ff0000"/>
<circle cx="545.99" cy="250.28" r="1.5" fill="#ff0000"/>
<circle cx="546.28" cy="244.70" r="1.5" fill="#ff0000"/>
<circle cx="546.57" cy="249.60" r="1.5" fill="#ff0000"/>
<circle cx="546.87" cy="240.54" r="1.5" fill="#ff0000"/>
<circle cx="547.16" cy="252.17" r="1.5" fill="#ff0000"/>
<circle cx="547.45" cy="243.50" r="1.5" fill="#ff0000"/>
<circle cx="547.75" cy="241.89" r="1.5" fill="#ff0000"/>
<circle cx="548.04" cy="241.63" r="1.5" fill="#ff0000"/>
<circle cx="548.33" cy="242.49" r="1.5" fill="#ff0000"/>
<circle cx="548.63" cy="249.77" r="1.5" fill="#ff0000"/>
<circle cx="548.92" cy="244.44" r="1.5" fill="#ff0000"/>
<circle cx="549.21" cy="234.87" r="1.5" fill="#ff0000"/>
<circle cx="549.51" cy="237.76" r="1.5" fill="#ff0000"/>
<circle cx="549.80" cy="241.40" r="1.5" fill="#ff0000"/>
<circle cx="550.09" cy="243.50" r="1.5" fill="#ff0000"/>
<circle cx="550.39" cy="239.27" r="1.5" fill="#ff0000"/>
<circle cx="550.68" cy="240.58" r="1.5" fill="#ff0000"/>
<circle cx="550.97" cy="245.74" r="1.5" fill="#ff0000"/>
<circle cx="551.27" cy="243.56" r="1.5" fill="#ff0000"/>
<circle cx="551.56" cy="241.51" r="1.5" fill="#ff0000"/>
<circle cx="551.85" cy="246.33" r="1.5" fill="#ff0000"/>
<circle cx="552.15" cy="243.61" r="1.5" fill="#ff0000"/>
<circle cx="552.44" cy="238.13" r="1.5" fill="#ff0000"/>
<circle cx="552.73" cy="234.66" r="1.5" fill="#ff0000"/>
<circle cx="553.03" cy="242.00" r="1.5" fill="#ff0000"/>
<circle cx="553.32" cy="244.76" r="1.5" fill="#ff0000"/>
<circle cx="553.61" cy="237.80" r="1.5" fill="#ff0000"/>
<circle cx="553.91" cy="235.85" r="1.5" fill="#ff0000"/>
<circle cx="554.20" cy="242.64" r="1.5" fill="#ff0000"/>
<circle cx="554.49" cy="238.16" r="1.5" fill="#ff0000"/>
<circle cx="554.79" cy="243.92" r="1.5" fill="#ff0000"/>
<circle cx="555.08" cy="247.16" r="1.5" fill="#ff0000"/>
<circle cx="555.37" cy="237.08" r="1.5" fill="#ff0000"/>
<circle cx="555.67" cy="238.35" r="1.5" fill="#ff0000"/>
<circle cx="555.96" cy="241.75" r="1.5" fill="#ff0000"/>
<circle cx="556.25" cy="242.19" r="1.5" fill="#ff0000"/>
<circle cx="556.54" cy="234.03" r="1.5" fill="#ff0000"/>
<circle cx="556.84" cy="237.05" r="1.5" fill="#ff0000"/>
<circle cx="557.13" cy="236.95" r="1.5" fill="#ff0000"/>
<circle cx="557.42" cy="237.83" r="1.5" fill="#ff0000"/>
<circle cx="557.72" cy="234.50" r="1.5" fill="#ff0000"/>
<circle cx="558.01" cy="235.89" r="1.5" fill="#ff0000"/>
<circle cx="558.30" cy="237.01" r="1.5" fill="#ff0000"/>
<circle cx="558.60" cy="238.89" r="1.5" fill="#ff0000"/>
<circle cx="558.89" cy="233.16" r="1.5" fill="#ff0000"/>
<circle cx="559.18" cy="240.06" r="1.5" fill="#ff0000"/>
<circle cx="559.48" cy="237.06" r="1.5" fill="#ff0000"/>
<circle cx="559.77" cy="242.51" r="1.5" fill="#ff0000"/>
<circle cx="560.06" cy="241.29" r="1.5" fill="#ff0000"/>
<circle cx="560.36" cy="240.50" r="1.5" fill="#ff0000"/>
<circle cx="560.65" cy="241.14" r="1.5" fill="#ff0000"/>
<circle cx="560.94" cy="242.43" r="1.5" fill="#ff0000"/>
<circle cx="561.24" cy="237.88" r="1.5" fill="#ff0000"/>
<circle cx="561.53" cy="237.43" r="1.5" fill="#ff0000"/>
<circle cx="561.82" cy="240.32" r="1.5" fill="#ff0000"/>
<circle cx="562.12" cy="237.84" r="1.5" fill="#ff0000"/>
<circle cx="562.41" cy="238.92" r="1.5" fill="#ff0000"/>
<circle cx="562.70" cy="244.03" r="1.5" fill="#ff0000"/>
<circle cx="563.00" cy="241.29" r="1.5" fill="#ff0000"/>
<circle cx="563.29" cy="239.22" r="1.5" fill="#ff0000"/>
<circle cx="563.58" cy="239.13" r="1.5" fill="#ff0000"/>
<circle cx="563.88" cy="242.61" r="1.5" fill="#ff0000"/>
<circle cx="564.17" cy="237.94" r="1.5" fill="#ff0000"/>
<circle cx="564.46" cy="237.72" r="1.5" fill="#ff0000"/>
<circle cx="564.76" cy="235.86" r="1.5" fill="#ff0000"/>
<circle cx="565.05" cy="235.77" r="1.5" fill="#ff0000"/>
<circle cx="565.34" cy="233.10" r="1.5" fill="#ff0000"/>
<circle cx="565.64" cy="245.73" r="1.5" fill="#ff0000"/>
<circle cx="565.93" cy="241.65" r="1.5" fill="#ff0000"/>
<circle cx="566.22" cy="237.80" r="1.5" fill="#ff0000"/>
<circle cx="566.52" cy="236.42" r="1.5" fill="#ff0000"/>
<circle cx="566.81" cy="244.13" r="1.5" fill="#ff0000"/>
<circle cx="567.10" cy="240.80" r="1.5" fill="#ff0000"/>
<circle cx="567.40" cy="239.89" r="1.5" fill="#ff0000"/>
<circle cx="567.69" cy="237.96" r="1.5" fill="#ff0000"/>
<circle cx="567.98" cy="241.80" r="1.5" fill="#ff0000"/>
<circle cx="568.28" cy="244.23" r="1.5" fill="#ff0000"/>
<circle cx="568.57" cy="250.66" r="1.5" fill="#ff0000"/>
<circle cx="568.86" cy="241.30" r="1.5" fill="#ff0000"/>
<circle cx="569.16" cy="252.76" r="1.5" fill="#ff0000"/>
<circle cx="569.45" cy="248.31" r="1.5" fill="#ff0000"/>
<circle cx="569.74" cy="244.56" r="1.5" fill="#ff0000"/>
<circle cx="570.04" cy="239.66" r="1.5" fill="#ff0000"/>
<circle cx="570.33" cy="241.66" r="1.5" fill="#ff0000"/>
<circle cx="570.62" cy="249.06" r="1.5" fill="#ff0000"/>
<circle cx="570.92" cy="246.63" r="1.5" fill="#ff0000"/>
<circle cx="571.21" cy="244.45" r="1.5" fill="#ff0000"/>
<circle cx="571.50" cy="246.33" r="1.5" fill="#ff0000"/>
<circle cx="571.80" cy="243.54" r="1.5" fill="#ff0000"/>
<circle cx="572.09" cy="241.59" r="1.5" fill="#ff0000"/>
<circle cx="572.38" cy="242.17" r="1.5" fill="#ff0000"/>
<circle cx="572.68" cy="238.92" r="1.5" fill="#ff0000"/>
<circle cx="572.97" cy="241.62" r="1.5" fill="#ff0000"/>
<circle cx="573.26" cy="237.09" r="1.5" fill="#ff0000"/>
<circle cx="573.56" cy="234.91" r="1.5" fill="#ff0000"/>
<circle cx="573.85" cy="237.76" r="1.5" fill="#ff0000"/>
<circle cx="574.14" cy="237.97" r="1.5" fill="#ff0000"/>
<circle cx="574.44" cy="235.64" r="1.5" fill="#ff0000"/>
<circle cx="574.73" cy="239.92" r="1.5" fill="#ff0000"/>
<circle cx="575.02" cy="239.42" r="1.5" fill="#ff0000"/>
<circle cx="575.32" cy="235.74" r="1.5" fill="#ff0000"/>
<circle cx="575.61" cy="237.94" r="1.5" fill="#ff0000"/>
<circle cx="575.90" cy="236.15" r="1.5" fill="#ff0000"/>
<circle cx="576.20" cy="248.83" r="1.5" fill="#ff0000"/>
<circle cx="576.49" cy="237.16" r="1.5" fill="#ff0000"/>
<circle cx="576.78" cy="243.15" r="1.5" fill="#ff0000"/>
<circle cx="577.08" cy="237.86" r="1.5" fill="#ff0000"/>
<circle cx="577.37" cy="235.02" r="1.5" fill="#ff0000"/>
<circle cx="577.66" cy="241.36" r="1.5" fill="#ff0000"/>
<circle cx="577.96" cy="237.22" r="1.5" fill="#ff0000"/>
<circle cx="578.25" cy="237.12" r="1.5" fill="#ff0000"/>
<circle cx="578.54" cy="238.31" r="1.5" fill="#ff0000"/>
<circle cx="578.84" cy="239.27" r="1.5" fill="#ff0000"/>
<circle cx="579.13" cy="242.04" r="1.5" fill="#ff0000"/>
<circle cx="579.42" cy="237.68" r="1.5" fill="#ff0000"/>
<circle cx="579.71" cy="239.85" r="1.5" fill="#ff0000"/>
<circle cx="580.01" cy="240.42" r="1.5" fill="#ff0000"/>
<circle cx="580.30" cy="246.75" r="1.5" fill="#ff0000"/>
<circle cx="580.59" cy="243.76" r="1.5" fill="#ff0000"/>
<circle cx="580.89" cy="245.31" r="1.5" fill="#ff0000"/>
<circle cx="581.18" cy="239.95" r="1.5" fill="#ff0000"/>
<circle cx="581.47" cy="251.84" r="1.5" fill="#ff0000"/>
<circle cx="581.77" cy="249.77" r="1.5" fill="#ff0000"/>
<circle cx="582.06" cy="236.85" r="1.5" fill="#ff0000"/>
<circle cx="582.35" cy="242.58" r="1.5" fill="#ff0000"/>
<circle cx="582.65" cy="241.98" r="1.5" fill="#ff0000"/>
<circle cx="582.94" cy="237.09" r="1.5" fill="#ff0000"/>
<circle cx="583.23" cy="241.31" r="1.5" fill="#ff0000"/>
<circle cx="583.53" cy="247.14" r="1.5" fill="#ff0000"/>
<circle cx="583.82" cy="241.48" r="1.5" fill="#ff0000"/>
<circle cx="584.11" cy="238.13" r="1.5" fill="#ff0000"/>
<circle cx="584.41" cy="246.00" r="1.5" fill="#ff0000"/>
<circle cx="584.70" cy="241.39" r="1.5" fill="#ff0000"/>
<circle cx="584.99" cy="239.10" r="1.5" fill="#ff0000"/>
<circle cx="585.29" cy="240.15" r="1.5" fill="#ff0000"/>
<circle cx="585.58" cy="246.17" r="1.5" fill="#ff0000"/>
<circle cx="585.87" cy="243.99" r="1.5" fill="#ff0000"/>
<circle cx="586.17" cy="242.81" r="1.5" fill="#ff0000"/>
<circle cx="586.46" cy="246.01" r="1.5" fill="#ff0000"/>
<circle cx="586.75" cy="241.83" r="1.5" fill="#ff0000"/>
<circle cx="587.05" cy="235.74" r="1.5" fill="#ff0000"/>
<circle cx="587.34" cy="238.59" r="1.5" fill="#ff0000"/>
<circle cx="587.63" cy="235.66" r="1.5" fill="#ff0000"/>
<circle cx="587.93" cy="245.49" r="1.5" fill="#ff0000"/>
<circle cx="588.22" cy="241.36" r="1.5" fill="#ff0000"/>
<circle cx="588.51" cy="240.06" r="1.5" fill="#ff0000"/>
<circle cx="588.81" cy="241.47" r="1.5" fill="#ff0000"/>
<circle cx="589.10" cy="230.56" r="1.5" fill="#ff0000"/>
<circle cx="589.39" cy="231.06" r="1.5" fill="#ff0000"/>
<circle cx="589.69" cy="233.50" r="1.5" fill="#ff0000"/>
<circle cx="589.98" cy="232.92" r="1.5" fill="#ff0000"/>
<circle cx="590.27" cy="231.67" r="1.5" fill="#ff0000"/>
<circle cx="590.57" cy="236.09" r="1.5" fill="#ff0000"/>
<circle cx="590.86" cy="237.04" r="1.5" fill="#ff0000"/>
<circle cx="591.15" cy="232.15" r="1.5" fill="#ff0000"/>
<circle cx="591.45" cy="232.65" r="1.5" fill="#ff0000"/>
<circle cx="591.74" cy="235.08" r="1.5" fill="#ff0000"/>
<circle cx="592.03" cy="230.12" r="1.5" fill="#ff0000"/>
<circle cx="592.33" cy="234.48" r="1.5" fill="#ff0000"/>
<circle cx="592.62" cy="229.37" r="1.5" fill="#ff0000"/>
<circle cx="592.91" cy="224.89" r="1.5" fill="#ff0000"/>
<circle cx="593.21" cy="229.47" r="1.5" fill="#ff0000"/>
<circle cx="593.50" cy="231.14" r="1.5" fill="#ff0000"/>
<circle cx="593.79" cy="236.09" r="1.5" fill="#ff0000"/>
<circle cx="594.09" cy="235.58" r="1.5" fill="#ff0000"/>
<circle cx="594.38" cy="230.45" r="1.5" fill="#ff0000"/>
<circle cx="594.67" cy="232.72" r="1.5" fill="#ff0000"/>
<circle cx="594.97" cy="228.13" r="1.5" fill="#ff0000"/>
<circle cx="595.26" cy="230.71" r="1.5" fill="#ff0000"/>
<circle cx="595.55" cy="228.31" r="1.5" fill="#ff0000"/>
<circle cx="595.85" cy="232.54" r="1.5" fill="#ff0000"/>
<circle cx="596.14" cy="229.38" r="1.5" fill="#ff0000"/>
<circle cx="596.43" cy="242.03" r="1.5" fill="#ff0000"/>
<circle cx="596.73" cy="239.57" r="1.5" fill="#ff0000"/>
<circle cx="597.02" cy="237.42" r="1.5" fill="#ff0000"/>
<circle cx="597.31" cy="232.34" r="1.5" fill="#ff0000"/>
<circle cx="597.61" cy="240.35" r="1.5" fill="#ff0000"/>
<circle cx="597.90" cy="234.03" r="1.5" fill="#ff0000"/>
<circle cx="598.19" cy="232.03" r="1.5" fill="#ff0000"/>
<circle cx="598.49" cy="238.29" r="1.5" fill="#ff0000"/>
<circle cx="598.78" cy="237.94" r="1.5" fill="#ff0000"/>
<circle cx="599.07" cy="234.57" r="1.5" fill="#ff0000"/>
<circle cx="599.37" cy="234.31" r="1.5" fill="#ff0000"/>
<circle cx="599.66" cy="238.07" r="1.5" fill="#ff0000"/>
<circle cx="599.95" cy="231.66" r="1.5" fill="#ff0000"/>
<circle cx="600.25" cy="236.97" r="1.5" fill="#ff0000"/>
<circle cx="600.54" cy="235.37" r="1.5" fill="#ff0000"/>
<circle cx="600.83" cy="225.08" r="1.5" fill="#ff0000"/>
<circle cx="601.13" cy="230.37" r="1.5" fill="#ff0000"/>
<circle cx="601.42" cy="227.82" r="1.5" fill="#ff0000"/>
<circle cx="601.71" cy="227.01" r="1.5" fill="#ff0000"/>
<circle cx="602.01" cy="226.29" r="1.5" fill="#ff0000"/>
<circle cx="602.30" cy="235.99" r="1.5" fill="#ff0000"/>
<circle cx="602.59" cy="230.48" r="1.5" fill="#ff0000"/>
<circle cx="602.88" cy="226.86" r="1.5" fill="#ff0000"/>
<circle cx="603.18" cy="233.05" r="1.5" fill="#ff0000"/>
<circle cx="603.47" cy="232.27" r="1.5" fill="#ff0000"/>
<circle cx="603.76" cy="229.58" r="1.5" fill="#ff0000"/>
<circle cx="604.06" cy="225.26" r="1.5" fill="#ff0000"/>
<circle cx="604.35" cy="235.51" r="1.5" fill="#ff0000"/>
<circle cx="604.64" cy="224.01" r="1.5" fill="#ff0000"/>
<circle cx="604.94" cy="231.14" r="1.5" fill="#ff0000"/>
<circle cx="605.23" cy="224.93" r="1.5" fill="#ff0000"/>
<circle cx="605.52" cy="232.48" r="1.5" fill="#ff0000"/>
<circle cx="605.82" cy="229.82" r="1.5" fill="#ff0000"/>
<circle cx="606.11" cy="225.16" r="1.5" fill="#ff0000"/>
<circle cx="606.40" cy="228.18" r="1.5" fill="#ff0000"/>
<circle cx="606.70" cy="221.56" r="1.5" fill="#ff0000"/>
<circle cx="606.99" cy="226.40" r="1.5" fill="#ff0000"/>
<circle cx="607.28" cy="224.97" r="1.5" fill="#ff0000"/>
<circle cx="607.58" cy="228.93" r="1.5" fill="#ff0000"/>
<circle cx="607.87" cy="224.27" r="1.5" fill="#ff0000"/>
<circle cx="608.16" cy="231.02" r="1.5" fill="#ff0000"/>
<circle cx="608.46" cy="234.21" r="1.5" fill="#ff0000"/>
<circle cx="608.75" cy="225.26" r="1.5" fill="#ff0000"/>
<circle cx="609.04" cy="233.53" r="1.5" fill="#ff0000"/>
<circle cx="609.34" cy="219.52" r="1.5" fill="#ff0000"/>
<circle cx="609.63" cy="234.84" r="1.5" fill="#ff0000"/>
<circle cx="609.92" cy="221.60" r="1.5" fill="#ff0000"/>
<circle cx="610.22" cy="230.18" r="1.5" fill="#ff0000"/>
<circle cx="610.51" cy="224.28" r="1.5" fill="#ff0000"/>
<circle cx="610.80" cy="224.03" r="1.5" fill="#ff0000"/>
<circle cx="611.10" cy="220.14" r="1.5" fill="#ff0000"/>
<circle cx="611.39" cy="218.97" r="1.5" fill="#ff0000"/>
<circle cx="611.68" cy="230.34" r="1.5" fill="#ff0000"/>
<circle cx="611.98" cy="228.57" r="1.5" fill="#ff0000"/>
<circle cx="612.27" cy="224.79" r="1.5" fill="#ff0000"/>
<circle cx="612.56" cy="230.07" r="1.5" fill="#ff0000"/>
<circle cx="612.86" cy="221.71" r="1.5" fill="#ff0000"/>
<circle cx="613.15" cy="221.21" r="1.5" fill="#ff0000"/>
<circle cx="613.44" cy="220.42" r="1.5" fill="#ff0000"/>
<circle cx="613.74" cy="230.10" r="1.5" fill="#ff0000"/>
<circle cx="614.03" cy="221.39" r="1.5" fill="#ff0000"/>
<circle cx="614.32" cy="225.59" r="1.5" fill="#ff0000"/>
<circle cx="614.62" cy="219.89" r="1.5" fill="#ff0000"/>
<circle cx="614.91" cy="220.64" r="1.5" fill="#ff0000"/>
<circle cx="615.20" cy="227.54" r="1.5" fill="#ff0000"/>
<circle cx="615.50" cy="227.51" r="1.5" fill="#ff0000"/>
<circle cx="615.79" cy="232.70" r="1.5" fill="#ff0000"/>
<circle cx="616.08" cy="224.69" r="1.5" fill="#ff0000"/>
<circle cx="616.38" cy="226.91" r="1.5" fill="#ff0000"/>
<circle cx="616.67" cy="235.78" r="1.5" fill="#ff0000"/>
<circle cx="616.96" cy="225.51" r="1.5" fill="#ff0000"/>
<circle cx="617.26" cy="229.08" r="1.5" fill="#ff0000"/>
<circle cx="617.55" cy="233.05" r="1.5" fill="#ff0000"/>
<circle cx="617.84" cy="224.73" r="1.5" fill="#ff0000"/>
<circle cx="618.14" cy="230.52" r="1.5" fill="#ff0000"/>
<circle cx="618.43" cy="223.97" r="1.5" fill="#ff0000"/>
<circle cx="618.72" cy="219.25" r="1.5" fill="#ff0000"/>
<circle cx="619.02" cy="222.52" r="1.5" fill="#ff0000"/>
<circle cx="619.31" cy="220.20" r="1.5" fill="#ff0000"/>
<circle cx="619.60" cy="221.67" r="1.5" fill="#ff0000"/>
<circle cx="619.90" cy="217.69" r="1.5" fill="#ff0000"/>
<circle cx="620.19" cy="220.57" r="1.5" fill="#ff0000"/>
<circle cx="620.48" cy="222.91" r="1.5" fill="#ff0000"/>
<circle cx="620.78" cy="226.12" r="1.5" fill="#ff0000"/>
<circle cx="621.07" cy="221.39" r="1.5" fill="#ff0000"/>
<circle cx="621.36" cy="222.03" r="1.5" fill="#ff0000"/>
<circle cx="621.66" cy="223.56" r="1.5" fill="#ff0000"/>
<circle cx="621.95" cy="212.63" r="1.5" fill="#ff0000"/>
<circle cx="622.24" cy="222.58" r="1.5" fill="#ff0000"/>
<circle cx="622.54" cy="221.59" r="1.5" fill="#ff0000"/>
<circle cx="622.83" cy="223.04" r="1.5" fill="#ff0000"/>
<circle cx="623.12" cy="222.04" r="1.5" fill="#ff0000"/>
<circle cx="623.42" cy="219.60" r="1.5" fill="#ff0000"/>
<circle cx="623.71" cy="223.12" r="1.5" fill="#ff0000"/>
<circle cx="624.00" cy="226.70" r="1.5" fill="#ff0000"/>
<circle cx="624.30" cy="224.49" r="1.5" fill="#ff0000"/>
<circle cx="624.59" cy="220.61" r="1.5" fill="#ff0000"/>
<circle cx="624.88" cy="219.81" r="1.5" fill="#ff0000"/>
<circle cx="625.18" cy="230.08" r="1.5" fill="#ff0000"/>
<circle cx="625.47" cy="215.98" r="1.5" fill="#ff0000"/>
<circle cx="625.76" cy="233.50" r="1.5" fill="#ff0000"/>
<circle cx="626.06" cy="218.59" r="1.5" fill="#ff0000"/>
<circle cx="626.35" cy="221.89" r="1.5" fill="#ff0000"/>
<circle cx="626.64" cy="225.57" r="1.5" fill="#ff0000"/>
<circle cx="626.93" cy="224.61" r="1.5" fill="#ff0000"/>
<circle cx="627.23" cy="226.12" r="1.5" fill="#ff0000"/>
<circle cx="627.52" cy="228.33" r="1.5" fill="#ff0000"/>
<circle cx="627.81" cy="221.90" r="1.5" fill="#ff0000"/>
<circle cx="628.11" cy="222.57" r="1.5" fill="#ff0000"/>
<circle cx="628.40" cy="226.86" r="1.5" fill="#ff0000"/>
<circle cx="628.69" cy="221.45" r="1.5" fill="#ff0000"/>
<circle cx="628.99" cy="229.43" r="1.5" fill="#ff0000"/>
<circle cx="629.28" cy="222.89" r="1.5" fill="#ff0000"/>
<circle cx="629.57" cy="213.11" r="1.5" fill="#ff0000"/>
<circle cx="629.87" cy="221.99" r="1.5" fill="#ff0000"/>
<circle cx="630.16" cy="217.64" r="1.5" fill="#ff0000"/>
<circle cx="630.45" cy="215.48" r="1.5" fill="#ff0000"/>
<circle cx="630.75" cy="218.81" r="1.5" fill="#ff0000"/>
<circle cx="631.04" cy="219.00" r="1.5" fill="#ff0000"/>
<circle cx="631.33" cy="222.00" r="1.5" fill="#ff0000"/>
<circle cx="631.63" cy="219.91" r="1.5" fill="#ff0000"/>
<circle cx="631.92" cy="224.90" r="1.5" fill="#ff0000"/>
<circle cx="632.21" cy="219.99" r="1.5" fill="#ff0000"/>
<circle cx="632.51" cy="230.96" r="1.5" fill="#ff0000"/>
<circle cx="632.80" cy="220.90" r="1.5" fill="#ff0000"/>
<circle cx="633.09" cy="221.09" r="1.5" fill="#ff0000"/>
<circle cx="633.39" cy="227.88" r="1.5" fill="#ff0000"/>
<circle cx="633.68" cy="226.93" r="1.5" fill="#ff0000"/>
<circle cx="633.97" cy="224.97" r="1.5" fill="#ff0000"/>
<circle cx="634.27" cy="224.32" r="1.5" fill="#ff0000"/>
<circle cx="634.56" cy="232.39" r="1.5" fill="#ff0000"/>
<circle cx="634.85" cy="224.88" r="1.5" fill="#ff0000"/>
<circle cx="635.15" cy="224.26" r="1.5" fill="#ff0000"/>
<circle cx="635.44" cy="224.67" r="1.5" fill="#ff0000"/>
<circle cx="635.73" cy="221.74" r="1.5" fill="#ff0000"/>
<circle cx="636.03" cy="234.45" r="1.5" fill="#ff0000"/>
<circle cx="636.32" cy="224.71" r="1.5" fill="#ff0000"/>
<circle cx="636.61" cy="237.29" r="1.5" fill="#ff0000"/>
<circle cx="636.91" cy="228.09" r="1.5" fill="#ff0000"/>
<circle cx="637.20" cy="222.38" r="1.5" fill="#ff0000"/>
<circle cx="637.49" cy="224.51" r="1.5" fill="#ff0000"/>
<circle cx="637.79" cy="223.57" r="1.5" fill="#ff0000"/>
<circle cx="638.08" cy="227.02" r="1.5" fill="#ff0000"/>
<circle cx="638.37" cy="226.40" r="1.5" fill="#ff0000"/>
<circle cx="638.67" cy="229.00" r="1.5" fill="#ff0000"/>
<circle cx="638.96" cy="222.68" r="1.5" fill="#ff0000"/>
<circle cx="639.25" cy="226.30" r="1.5" fill="#ff0000"/>
<circle cx="639.55" cy="221.46" r="1.5" fill="#ff0000"/>
<circle cx="639.84" cy="223.88" r="1.5" fill="#ff0000"/>
<circle cx="640.13" cy="222.61" r="1.5" fill="#ff0000"/>
<circle cx="640.43" cy="223.59" r="1.5" fill="#ff0000"/>
<circle cx="640.72" cy="216.36" r="1.5" fill="#ff0000"/>
<circle cx="641.01" cy="224.52" r="1.5" fill="#ff0000"/>
<circle cx="641.31" cy="223.82" r="1.5" fill="#ff0000"/>
<circle cx="641.60" cy="215.42" r="1.5" fill="#ff0000"/>
<circle cx="641.89" cy="214.22" r="1.5" fill="#ff0000"/>
<circle cx="642.19" cy="217.52" r="1.5" fill="#ff0000"/>
<circle cx="642.48" cy="213.95" r="1.5" fill="#ff0000"/>
<circle cx="642.77" cy="209.84" r="1.5" fill="#ff0000"/>
<circle cx="643.07" cy="214.35" r="1.5" fill="#ff0000"/>
<circle cx="643.36" cy="208.26" r="1.5" fill="#ff0000"/>
<circle cx="643.65" cy="211.67" r="1.5" fill="#ff0000"/>
<circle cx="643.95" cy="208.27" r="1.5" fill="#ff0000"/>
<circle cx="644.24" cy="209.06" r="1.5" fill="#ff0000"/>
<circle cx="644.53" cy="213.51" r="1.5" fill="#ff0000"/>
<circle cx="644.83" cy="210.69" r="1.5" fill="#ff0000"/>
<circle cx="645.12" cy="208.85" r="1.5" fill="#ff0000"/>
<circle cx="645.41" cy="204.24" r="1.5" fill="#ff0000"/>
<circle cx="645.71" cy="205.46" r="1.5" fill="#ff0000"/>
<circle cx="646.00" cy="206.71" r="1.5" fill="#ff0000"/>
<circle cx="646.29" cy="210.33" r="1.5" fill="#ff0000"/>
<circle cx="646.59" cy="202.69" r="1.5" fill="#ff0000"/>
<circle cx="646.88" cy="206.51" r="1.5" fill="#ff0000"/>
<circle cx="647.17" cy="208.05" r="1.5" fill="#ff0000"/>
<circle cx="647.47" cy="205.12" r="1.5" fill="#ff0000"/>
<circle cx="647.76" cy="210.01" r="1.5" fill="#ff0000"/>
<circle cx="648.05" cy="206.93" r="1.5" fill="#ff0000"/>
<circle cx="648.35" cy="202.01" r="1.5" fill="#ff0000"/>
<circle cx="648.64" cy="195.50" r="1.5" fill="#ff0000"/>
<circle cx="648.93" cy="203.20" r="1.5" fill="#ff0000"/>
<circle cx="649.23" cy="204.02" r="1.5" fill="#ff0000"/>
<circle cx="649.52" cy="204.48" r="1.5" fill="#ff0000"/>
<circle cx="649.81" cy="209.21" r="1.5" fill="#ff0000"/>
<circle cx="650.10" cy="202.88" r="1.5" fill="#ff0000"/>
<circle cx="650.40" cy="210.63" r="1.5" fill="#ff0000"/>
<circle cx="650.69" cy="212.87" r="1.5" fill="#ff0000"/>
<circle cx="650.98" cy="205.85" r="1.5" fill="#ff0000"/>
<circle cx="651.28" cy="209.33" r="1.5" fill="#ff0000"/>
<circle cx="651.57" cy="210.77" r="1.5" fill="#ff0000"/>
<circle cx="651.86" cy="211.76" r="1.5" fill="#ff0000"/>
<circle cx="652.16" cy="214.71" r="1.5" fill="#ff0000"/>
<circle cx="652.45" cy="205.82" r="1.5" fill="#ff0000"/>
<circle cx="652.74" cy="203.86" r="1.5" fill="#ff0000"/>
<circle cx="653.04" cy="208.44" r="1.5" fill="#ff0000"/>
<circle cx="653.33" cy="211.57" r="1.5" fill="#ff0000"/>
<circle cx="653.62" cy="207.29" r="1.5" fill="#ff0000"/>
<circle cx="653.92" cy="209.90" r="1.5" fill="#ff0000"/>
<circle cx="654.21" cy="201.69" r="1.5" fill="#ff0000"/>
<circle cx="654.50" cy="208.24" r="1.5" fill="#ff0000"/>
<circle cx="654.80" cy="197.89" r="1.5" fill="#ff0000"/>
<circle cx="655.09" cy="199.07" r="1.5" fill="#ff0000"/>
<circle cx="655.38" cy="205.96" r="1.5" fill="#ff0000"/>
<circle cx="655.68" cy="202.22" r="1.5" fill="#ff0000"/>
<circle cx="655.97" cy="202.96" r="1.5" fill="#ff0000"/>
<circle cx="656.26" cy="207.91" r="1.5" fill="#ff0000"/>
<circle cx="656.56" cy="204.78" r="1.5" fill="#ff0000"/>
<circle cx="656.85" cy="201.77" r="1.5" fill="#ff0000"/>
<circle cx="657.14" cy="204.39" r="1.5" fill="#ff0000"/>
<circle cx="657.44" cy="203.83" r="1.5" fill="#ff0000"/>
<circle cx="657.73" cy="197.94" r="1.5" fill="#ff0000"/>
<circle cx="658.02" cy="199.76" r="1.5" fill="#ff0000"/>
<circle cx="658.32" cy="203.11" r="1.5" fill="#ff0000"/>
<circle cx="658.61" cy="198.02" r="1.5" fill="#ff0000"/>
<circle cx="658.90" cy="202.23" r="1.5" fill="#ff0000"/>
<circle cx="659.20" cy="199.12" r="1.5" fill="#ff0000"/>
<circle cx="659.49" cy="201.67" r="1.5" fill="#ff0000"/>
<circle cx="659.78" cy="200.99" r="1.5" fill="#ff0000"/>
<circle cx="660.08" cy="199.73" r="1.5" fill="#ff0000"/>
<circle cx="660.37" cy="199.43" r="1.5" fill="#ff0000"/>
<circle cx="660.66" cy="207.14" r="1.5" fill="#ff0000"/>
<circle cx="660.96" cy="203.38" r="1.5" fill="#ff0000"/>
<circle cx="661.25" cy="207.82" r="1.5" fill="#ff0000"/>
<rect x="538.10" y="188.80" width="2.40" height="2.40" fill="#000" />
<circle cx="539.3" cy="201.2" r="1.4" fill="#ff0000"/>
<text transform="translate(544.30,192.76) scale(1.0,1)" font-size="7.7" text-anchor="start" fill="#222" >Low charge density</text>
<text transform="translate(544.30,203.96) scale(1.0,1)" font-size="7.7" text-anchor="start" fill="#222" >High charge density</text>
<text x="504.9" y="227.9" font-size="7.3" fill="#222">840.2 kJ mol<tspan dy="-2.3" font-size="4.8">−1</tspan></text>
<text x="542.0" y="278.4" font-size="7.3" fill="#222">278.1 kJ mol<tspan dy="-2.3" font-size="4.8">−1</tspan></text>
<text transform="translate(466.3,246.5) rotate(-90)" font-size="8.8" text-anchor="middle" fill="#222"><tspan font-style="italic">E</tspan> (KJ mol<tspan dy="-3.3" font-size="5.7">−1</tspan><tspan dy="3.3">)</tspan></text>
<text x="579" y="338.8" font-size="8.8" text-anchor="middle" fill="#222">Time (ps)</text>
<text transform="translate(457.6,184.6) scale(1.15,1)" font-size="12.4" font-weight="bold" fill="#111">f</text>
<text transform="translate(-0.4,184.5) scale(1.15,1)" font-size="12.4" font-weight="bold" fill="#111">d</text>
<defs>
<pattern id="wd" x="0" y="0" width="10" height="10" patternUnits="userSpaceOnUse"><rect width="10" height="10" fill="#fcf8f8"/><rect x="4.04" y="2.00" width="0.4" height="0.4" fill="#e8a8b0"/><rect x="2.30" y="1.33" width="0.4" height="0.4" fill="#e08890"/><rect x="2.51" y="3.83" width="0.4" height="0.4" fill="#c8a0b8"/><rect x="7.00" y="0.90" width="0.4" height="0.4" fill="#e89098"/><rect x="4.89" y="4.22" width="0.4" height="0.4" fill="#e89098"/><rect x="5.88" y="7.93" width="0.4" height="0.4" fill="#d8b0c8"/><rect x="8.22" y="8.61" width="0.4" height="0.4" fill="#e8a8b0"/><rect x="1.52" y="6.61" width="0.4" height="0.4" fill="#e89098"/><rect x="3.39" y="9.47" width="0.4" height="0.4" fill="#e89098"/><rect x="6.77" y="0.88" width="0.4" height="0.4" fill="#d8b0c8"/><rect x="4.03" y="2.69" width="0.4" height="0.4" fill="#e08890"/><rect x="4.25" y="3.63" width="0.4" height="0.4" fill="#e89098"/><rect x="0.81" y="5.19" width="0.4" height="0.4" fill="#e8a8b0"/><rect x="6.06" y="9.77" width="0.4" height="0.4" fill="#d8b0c8"/><rect x="1.29" y="9.52" width="0.4" height="0.4" fill="#c8a0b8"/><rect x="1.61" y="7.92" width="0.4" height="0.4" fill="#e89098"/><rect x="9.25" y="1.78" width="0.4" height="0.4" fill="#e89098"/><rect x="6.60" y="0.37" width="0.4" height="0.4" fill="#e08890"/><rect x="1.71" y="6.84" width="0.4" height="0.4" fill="#d8b8d8"/><rect x="0.81" y="4.25" width="0.4" height="0.4" fill="#e08890"/><rect x="1.43" y="6.17" width="0.4" height="0.4" fill="#d8b8d8"/><rect x="3.30" y="5.23" width="0.4" height="0.4" fill="#e8a8b0"/><rect x="9.00" y="9.74" width="0.4" height="0.4" fill="#c8a0b8"/><rect x="2.11" y="2.58" width="0.4" height="0.4" fill="#d8b8d8"/><rect x="8.25" y="1.26" width="0.4" height="0.4" fill="#c8a0b8"/><rect x="4.76" y="0.56" width="0.4" height="0.4" fill="#c8a0b8"/><rect x="8.64" y="6.00" width="0.4" height="0.4" fill="#c8a0b8"/><rect x="1.50" y="9.41" width="0.4" height="0.4" fill="#e08890"/><rect x="0.96" y="1.44" width="0.4" height="0.4" fill="#e8a8b0"/><rect x="9.91" y="4.10" width="0.4" height="0.4" fill="#e8a8b0"/><rect x="8.80" y="3.19" width="0.4" height="0.4" fill="#d8b8d8"/><rect x="7.98" y="8.46" width="0.4" height="0.4" fill="#e08890"/><rect x="8.58" y="3.62" width="0.4" height="0.4" fill="#c8a0b8"/><rect x="0.72" y="2.88" width="0.4" height="0.4" fill="#e89098"/><rect x="8.33" y="3.37" width="0.4" height="0.4" fill="#d8b8d8"/><rect x="3.99" y="8.22" width="0.4" height="0.4" fill="#d8b8d8"/><rect x="3.86" y="8.14" width="0.4" height="0.4" fill="#e89098"/><rect x="0.93" y="8.80" width="0.4" height="0.4" fill="#d8b0c8"/><rect x="7.22" y="3.99" width="0.4" height="0.4" fill="#d8b8d8"/><rect x="2.30" y="8.54" width="0.4" height="0.4" fill="#e8a8b0"/><rect x="6.53" y="3.11" width="0.4" height="0.4" fill="#c8a0b8"/><rect x="7.21" y="2.19" width="0.4" height="0.4" fill="#c8a0b8"/><rect x="6.74" y="2.50" width="0.4" height="0.4" fill="#d8b0c8"/><rect x="4.38" y="9.59" width="0.4" height="0.4" fill="#d8b8d8"/><rect x="4.21" y="9.08" width="0.4" height="0.4" fill="#e08890"/><rect x="5.03" y="9.07" width="0.4" height="0.4" fill="#d8b0c8"/><rect x="7.88" y="5.33" width="0.4" height="0.4" fill="#d8b0c8"/><rect x="4.31" y="2.91" width="0.4" height="0.4" fill="#c8a0b8"/><rect x="8.26" y="1.59" width="0.4" height="0.4" fill="#d8b8d8"/><rect x="6.78" y="6.04" width="0.4" height="0.4" fill="#e89098"/><rect x="6.67" y="4.40" width="0.4" height="0.4" fill="#d8b8d8"/><rect x="3.37" y="1.98" width="0.4" height="0.4" fill="#e08890"/><rect x="6.67" y="6.94" width="0.4" height="0.4" fill="#e8a8b0"/><rect x="8.91" y="6.68" width="0.4" height="0.4" fill="#c8a0b8"/><rect x="2.61" y="4.17" width="0.4" height="0.4" fill="#c8a0b8"/></pattern>
<filter id="bl" x="-10%" y="-30%" width="120%" height="160%"><feGaussianBlur stdDeviation="0.45"/></filter>
</defs>
<rect x="33.40" y="185.60" width="30.60" height="23.60" fill="#c8c8c8" />
<text transform="translate(48.7,195.20) scale(1.15,1)" font-size="8.4" text-anchor="middle" fill="#333">Initial</text>
<text transform="translate(48.7,205.70) scale(1.15,1)" font-size="8.4" text-anchor="middle" fill="#333">state</text>
<rect x="33.40" y="222.40" width="30.60" height="23.60" fill="#c8c8c8" />
<text transform="translate(48.7,232.00) scale(1.15,1)" font-size="8.4" text-anchor="middle" fill="#333">Final</text>
<text transform="translate(48.7,242.50) scale(1.15,1)" font-size="8.4" text-anchor="middle" fill="#333">state</text>
<rect x="33.40" y="259.50" width="30.60" height="23.10" fill="#c8c8c8" />
<text transform="translate(48.7,268.85) scale(1.15,1)" font-size="8.4" text-anchor="middle" fill="#333">Initial</text>
<text transform="translate(48.7,279.35) scale(1.15,1)" font-size="8.4" text-anchor="middle" fill="#333">state</text>
<rect x="33.40" y="296.10" width="30.60" height="23.60" fill="#c8c8c8" />
<text transform="translate(48.7,305.70) scale(1.15,1)" font-size="8.4" text-anchor="middle" fill="#333">Final</text>
<text transform="translate(48.7,316.20) scale(1.15,1)" font-size="8.4" text-anchor="middle" fill="#333">state</text>
<text transform="translate(14.6,208.80) scale(1.15,1)" font-size="8.4" text-anchor="middle" fill="#222">Low</text>
<text transform="translate(14.6,219.30) scale(1.15,1)" font-size="8.4" text-anchor="middle" fill="#222">charge</text>
<text transform="translate(14.6,229.00) scale(1.15,1)" font-size="8.4" text-anchor="middle" fill="#222">density</text>
<text transform="translate(14.6,280.00) scale(1.15,1)" font-size="8.4" text-anchor="middle" fill="#222">High</text>
<text transform="translate(14.6,290.20) scale(1.15,1)" font-size="8.4" text-anchor="middle" fill="#222">charge</text>
<text transform="translate(14.6,300.20) scale(1.15,1)" font-size="8.4" text-anchor="middle" fill="#222">density</text>
<rect x="70.6" y="183.3" width="140.20" height="28.30" fill="none" stroke="#6464e6" stroke-width="0.75"/>
<polyline points="162.2,202.6 161.7,205.0 163.5,204.8 165.0,204.5 162.7,204.1" fill="none" stroke="#2f8a96" stroke-width="0.8"/>
<polyline points="167.8,199.8 169.2,201.6 171.1,200.6" fill="none" stroke="#2a7f8c" stroke-width="0.8"/>
<polyline points="185.1,203.9 184.2,203.1 183.3,204.8 185.2,206.5" fill="none" stroke="#4aa8b2" stroke-width="0.8"/>
<polyline points="158.2,204.0 160.0,205.8 158.1,206.3" fill="none" stroke="#4aa8b2" stroke-width="0.8"/>
<polyline points="168.7,188.1 171.0,188.6 171.2,190.9 171.9,193.4 173.7,192.0" fill="none" stroke="#3558a8" stroke-width="0.8"/>
<polyline points="182.4,210.7 183.7,211.0 184.4,209.7" fill="none" stroke="#3e9aa4" stroke-width="0.8"/>
<polyline points="182.1,195.1 183.9,194.5 183.1,196.2 182.9,198.6" fill="none" stroke="#3e9aa4" stroke-width="0.8"/>
<polyline points="177.4,210.8 178.7,210.8 177.2,209.7 175.7,209.0" fill="none" stroke="#5ab4bc" stroke-width="0.8"/>
<polyline points="160.7,202.1 159.3,204.1 158.1,205.8 157.6,207.1 159.8,208.0" fill="none" stroke="#3558a8" stroke-width="0.8"/>
<polyline points="169.4,188.3 168.3,186.1 170.0,185.7" fill="none" stroke="#3e9aa4" stroke-width="0.8"/>
<polyline points="184.1,199.9 182.4,200.0 182.5,202.5 183.1,203.6" fill="none" stroke="#3558a8" stroke-width="0.8"/>
<polyline points="168.8,204.0 169.5,202.9 169.4,204.5" fill="none" stroke="#2a7f8c" stroke-width="0.8"/>
<polyline points="164.5,194.7 163.6,193.5 164.9,195.3 166.2,195.8" fill="none" stroke="#3f96a6" stroke-width="0.8"/>
<polyline points="172.1,203.7 174.5,203.0 173.5,204.0" fill="none" stroke="#4aa8b2" stroke-width="0.8"/>
<polyline points="174.2,195.5 175.7,194.4 177.0,196.0 178.4,197.7 177.4,198.6" fill="none" stroke="#3f96a6" stroke-width="0.8"/>
<polyline points="158.2,200.0 158.3,202.6 157.6,203.6 157.6,201.3 158.5,202.3" fill="none" stroke="#2a7f8c" stroke-width="0.8"/>
<polyline points="160.2,184.7 160.5,184.0 161.7,185.1 160.8,187.5" fill="none" stroke="#2a7f8c" stroke-width="0.8"/>
<polyline points="171.2,189.9 172.2,192.1 172.9,194.3" fill="none" stroke="#3558a8" stroke-width="0.8"/>
<polyline points="158.9,203.2 159.2,200.9 161.1,201.0 163.2,201.9 164.2,203.8" fill="none" stroke="#4aa8b2" stroke-width="0.8"/>
<polyline points="184.2,200.3 185.2,200.8 184.3,203.1 183.8,204.9 181.4,204.1" fill="none" stroke="#2f8a96" stroke-width="0.8"/>
<polyline points="172.7,185.6 172.4,184.0 171.6,186.0 169.6,185.7 171.8,186.6" fill="none" stroke="#3e9aa4" stroke-width="0.8"/>
<polyline points="167.4,192.6 168.4,193.4 170.5,194.4 170.6,192.6" fill="none" stroke="#5ab4bc" stroke-width="0.8"/>
<polyline points="183.7,202.4 181.9,203.0 180.6,204.2 180.8,205.4 179.4,206.0" fill="none" stroke="#3f96a6" stroke-width="0.8"/>
<polyline points="173.9,194.9 172.4,195.3 171.0,196.6 169.3,194.7" fill="none" stroke="#2f8a96" stroke-width="0.8"/>
<polyline points="158.6,188.7 158.1,186.3 158.5,184.2 158.6,184.0" fill="none" stroke="#3558a8" stroke-width="0.8"/>
<polyline points="164.8,197.0 163.3,198.3 164.4,196.1 165.6,196.0" fill="none" stroke="#4aa8b2" stroke-width="0.8"/>
<polyline points="177.4,186.4 178.8,187.2 180.9,186.4" fill="none" stroke="#2a7f8c" stroke-width="0.8"/>
<polyline points="184.7,210.8 184.3,209.3 183.2,211.0" fill="none" stroke="#3f96a6" stroke-width="0.8"/>
<polyline points="162.8,186.2 162.1,187.6 162.9,186.4" fill="none" stroke="#3f96a6" stroke-width="0.8"/>
<polyline points="171.6,190.4 171.3,192.1 173.0,191.5 171.1,192.3 170.8,193.7" fill="none" stroke="#2a7f8c" stroke-width="0.8"/>
<polyline points="174.8,186.7 177.0,187.2 179.0,186.3" fill="none" stroke="#2f8a96" stroke-width="0.8"/>
<polyline points="159.7,199.7 158.0,198.3 158.0,199.5 157.6,199.1" fill="none" stroke="#4aa8b2" stroke-width="0.8"/>
<polyline points="162.9,194.0 161.9,195.0 162.5,192.7" fill="none" stroke="#5ab4bc" stroke-width="0.8"/>
<polyline points="169.1,207.8 169.5,210.1 170.9,208.0" fill="none" stroke="#3558a8" stroke-width="0.8"/>
<polyline points="158.1,199.7 157.6,200.6 159.7,200.5" fill="none" stroke="#3e9aa4" stroke-width="0.8"/>
<polyline points="159.2,206.0 157.6,205.6 157.6,203.7 158.4,204.8 157.9,206.8" fill="none" stroke="#2f8a96" stroke-width="0.8"/>
<polyline points="182.2,185.9 182.7,187.1 183.5,185.6" fill="none" stroke="#4aa8b2" stroke-width="0.8"/>
<polyline points="159.2,185.0 158.9,187.3 157.9,188.0 158.0,189.7" fill="none" stroke="#4aa8b2" stroke-width="0.8"/>
<polyline points="168.9,202.7 170.6,202.1 169.9,203.5 167.7,203.4 166.1,202.2" fill="none" stroke="#3f96a6" stroke-width="0.8"/>
<polyline points="162.4,203.2 160.0,203.5 158.9,203.9 158.6,205.2" fill="none" stroke="#3f96a6" stroke-width="0.8"/>
<polyline points="172.3,208.5 170.4,210.1 172.5,209.2 174.2,209.4" fill="none" stroke="#5ab4bc" stroke-width="0.8"/>
<polyline points="164.9,184.7 164.1,184.0 165.8,184.0 166.9,184.0" fill="none" stroke="#5ab4bc" stroke-width="0.8"/>
<polyline points="172.9,204.9 173.2,202.4 174.5,201.6 173.1,200.6 172.0,198.5" fill="none" stroke="#5ab4bc" stroke-width="0.8"/>
<polyline points="161.2,184.7 163.4,184.1 165.6,184.0 165.5,184.0" fill="none" stroke="#5ab4bc" stroke-width="0.8"/>
<polyline points="172.0,208.2 171.6,209.5 170.5,207.8 168.7,208.2 169.2,209.6" fill="none" stroke="#3e9aa4" stroke-width="0.8"/>
<polyline points="169.5,194.2 168.2,194.4 169.2,193.2 169.6,191.6" fill="none" stroke="#2a7f8c" stroke-width="0.8"/>
<polyline points="177.8,210.8 178.6,211.0 179.0,208.6 178.3,210.9" fill="none" stroke="#2a7f8c" stroke-width="0.8"/>
<polyline points="163.0,190.1 160.9,189.4 160.3,188.3 161.5,187.6 160.7,189.1" fill="none" stroke="#5ab4bc" stroke-width="0.8"/>
<polyline points="174.9,200.2 176.4,200.8 178.0,202.1 177.8,200.3 179.6,202.0" fill="none" stroke="#5ab4bc" stroke-width="0.8"/>
<polyline points="159.7,192.3 161.3,194.0 162.5,193.4 160.9,192.0 159.6,191.9" fill="none" stroke="#3558a8" stroke-width="0.8"/>
<polyline points="177.3,189.9 179.3,188.4 178.1,188.3 179.0,186.9 178.8,189.3" fill="none" stroke="#2f8a96" stroke-width="0.8"/>
<polyline points="161.0,207.8 158.4,207.6 158.7,209.8 157.6,209.9 157.6,209.4" fill="none" stroke="#2f8a96" stroke-width="0.8"/>
<polyline points="175.1,193.9 173.7,194.9 172.3,193.2 170.8,192.2" fill="none" stroke="#3e9aa4" stroke-width="0.8"/>
<polyline points="158.1,201.4 159.4,199.5 161.3,198.2 160.5,199.3" fill="none" stroke="#2f8a96" stroke-width="0.8"/>
<polyline points="179.7,192.8 178.9,195.3 177.4,195.7 178.9,195.7" fill="none" stroke="#3e9aa4" stroke-width="0.8"/>
<polyline points="163.7,187.0 162.4,185.4 163.4,186.3 162.9,184.9 165.2,185.2" fill="none" stroke="#3e9aa4" stroke-width="0.8"/>
<polyline points="174.1,186.6 172.0,187.6 174.0,186.6" fill="none" stroke="#3558a8" stroke-width="0.8"/>
<polyline points="157.9,192.2 158.6,190.1 159.9,189.0 158.8,188.4" fill="none" stroke="#2a7f8c" stroke-width="0.8"/>
<polyline points="178.9,199.7 180.9,200.1 181.2,198.6" fill="none" stroke="#2a7f8c" stroke-width="0.8"/>
<polyline points="177.5,198.3 177.0,200.0 175.5,200.1" fill="none" stroke="#3558a8" stroke-width="0.8"/>
<polyline points="165.7,187.1 167.1,188.0 167.7,185.8 168.6,187.2 170.3,188.5" fill="none" stroke="#2a7f8c" stroke-width="0.8"/>
<polyline points="182.6,185.3 183.8,184.0 183.1,184.0 181.1,184.3 180.1,185.4" fill="none" stroke="#2a7f8c" stroke-width="0.8"/>
<polyline points="174.9,200.4 175.8,202.7 174.5,203.4 176.0,203.7" fill="none" stroke="#3558a8" stroke-width="0.8"/>
<polyline points="184.2,184.4 185.2,184.0 185.2,185.7" fill="none" stroke="#3558a8" stroke-width="0.8"/>
<polyline points="168.0,191.6 169.1,190.7 168.2,191.7 166.5,193.5 165.6,192.2" fill="none" stroke="#3558a8" stroke-width="0.8"/>
<polyline points="184.2,207.7 183.9,206.1 181.7,205.3" fill="none" stroke="#3558a8" stroke-width="0.8"/>
<polyline points="162.2,194.7 160.0,193.5 160.6,196.0 160.8,194.5 161.7,195.4" fill="none" stroke="#3e9aa4" stroke-width="0.8"/>
<polyline points="180.3,210.4 179.1,208.7 179.4,210.1 180.8,209.1" fill="none" stroke="#4aa8b2" stroke-width="0.8"/>
<polyline points="178.9,198.0 179.6,198.9 181.2,199.9" fill="none" stroke="#3558a8" stroke-width="0.8"/>
<polyline points="170.7,186.0 172.1,187.2 171.6,189.0 171.2,187.3" fill="none" stroke="#2a7f8c" stroke-width="0.8"/>
<polyline points="183.8,199.0 182.6,200.7 183.9,198.5 183.8,200.6" fill="none" stroke="#4aa8b2" stroke-width="0.8"/>
<polyline points="167.2,198.3 168.8,197.6 167.2,195.9 166.8,198.2 168.5,198.2" fill="none" stroke="#3e9aa4" stroke-width="0.8"/>
<polyline points="171.5,185.1 172.5,186.9 170.2,186.1" fill="none" stroke="#3558a8" stroke-width="0.8"/>
<polyline points="166.5,203.4 166.6,202.0 168.1,201.3 168.0,202.8 166.2,204.2" fill="none" stroke="#3558a8" stroke-width="0.8"/>
<polyline points="158.7,192.1 158.1,193.8 160.0,191.9" fill="none" stroke="#2f8a96" stroke-width="0.8"/>
<polyline points="174.7,208.3 172.5,208.8 172.9,207.4 170.9,205.7" fill="none" stroke="#2a7f8c" stroke-width="0.8"/>
<polyline points="182.8,186.3 180.4,185.4 182.6,184.5 184.3,184.0 185.2,184.1" fill="none" stroke="#4aa8b2" stroke-width="0.8"/>
<polyline points="172.0,203.5 171.1,202.5 173.5,201.8" fill="none" stroke="#2a7f8c" stroke-width="0.8"/>
<polyline points="160.1,195.0 161.6,193.3 160.0,193.4 158.1,192.5 159.7,192.2" fill="none" stroke="#3e9aa4" stroke-width="0.8"/>
<polyline points="162.0,195.1 159.9,194.3 158.1,195.7 157.6,197.1" fill="none" stroke="#2f8a96" stroke-width="0.8"/>
<polyline points="170.3,196.8 171.4,194.9 169.2,195.3 168.5,193.8 166.8,192.3" fill="none" stroke="#5ab4bc" stroke-width="0.8"/>
<polyline points="169.2,190.2 169.6,191.6 167.2,190.9 168.4,193.1" fill="none" stroke="#3e9aa4" stroke-width="0.8"/>
<polyline points="164.9,204.3 163.6,203.4 162.3,203.3 160.5,201.9" fill="none" stroke="#2f8a96" stroke-width="0.8"/>
<polyline points="181.0,199.2 181.6,201.1 180.9,199.3" fill="none" stroke="#5ab4bc" stroke-width="0.8"/>
<polyline points="171.6,205.5 171.7,207.3 169.8,208.4 169.1,207.0 168.5,205.3" fill="none" stroke="#2f8a96" stroke-width="0.8"/>
<polyline points="177.2,210.1 177.9,211.0 180.4,210.9 178.8,209.1" fill="none" stroke="#2a7f8c" stroke-width="0.8"/>
<polyline points="165.4,203.8 167.0,204.4 165.8,205.6" fill="none" stroke="#2a7f8c" stroke-width="0.8"/>
<polyline points="171.8,191.1 173.2,190.7 173.9,192.2" fill="none" stroke="#3558a8" stroke-width="0.8"/>
<polyline points="173.6,192.5 173.3,190.4 175.4,191.7 176.5,190.2 177.8,188.6" fill="none" stroke="#3e9aa4" stroke-width="0.8"/>
<polyline points="184.1,194.2 182.9,194.5 183.6,195.7 181.8,194.6" fill="none" stroke="#2a7f8c" stroke-width="0.8"/>
<polyline points="162.1,205.7 160.9,207.5 161.5,209.3 162.1,210.5" fill="none" stroke="#4aa8b2" stroke-width="0.8"/>
<polyline points="158.7,210.1 157.8,211.0 157.6,209.4 158.5,207.1 160.7,207.9" fill="none" stroke="#5ab4bc" stroke-width="0.8"/>
<polyline points="173.5,188.0 171.8,188.0 173.3,189.0 172.0,187.1 172.1,184.7" fill="none" stroke="#3558a8" stroke-width="0.8"/>
<polyline points="159.2,190.6 159.5,188.4 158.1,187.7" fill="none" stroke="#4aa8b2" stroke-width="0.8"/>
<polyline points="165.1,205.5 165.4,208.0 165.2,206.2 167.1,204.6" fill="none" stroke="#3558a8" stroke-width="0.8"/>
<polyline points="162.8,193.8 162.9,192.2 160.5,193.0 161.8,193.9" fill="none" stroke="#3f96a6" stroke-width="0.8"/>
<polyline points="160.8,197.4 158.6,197.9 160.2,197.6 160.4,199.1 160.7,197.8" fill="none" stroke="#5ab4bc" stroke-width="0.8"/>
<polyline points="178.3,186.1 177.0,184.7 178.8,184.3 176.4,184.4" fill="none" stroke="#3558a8" stroke-width="0.8"/>
<polyline points="182.4,186.3 180.4,187.9 182.2,187.4 180.9,188.2 180.7,189.7" fill="none" stroke="#3e9aa4" stroke-width="0.8"/>
<polyline points="175.5,189.5 173.8,188.3 173.7,186.3 175.1,185.6" fill="none" stroke="#2f8a96" stroke-width="0.8"/>
<polyline points="158.6,204.4 160.6,203.3 159.5,203.9" fill="none" stroke="#2a7f8c" stroke-width="0.8"/>
<polyline points="178.1,191.4 176.8,191.0 178.7,190.6" fill="none" stroke="#5ab4bc" stroke-width="0.8"/>
<polyline points="168.3,209.5 167.7,207.1 166.3,206.4 165.4,205.4" fill="none" stroke="#3f96a6" stroke-width="0.8"/>
<polyline points="166.4,189.0 167.7,190.5 168.3,191.6" fill="none" stroke="#4aa8b2" stroke-width="0.8"/>
<polyline points="171.7,188.4 169.4,188.0 171.0,187.8 170.2,185.7 170.7,184.0" fill="none" stroke="#2a7f8c" stroke-width="0.8"/>
<polyline points="170.7,208.6 168.6,208.8 169.6,207.5" fill="none" stroke="#3f96a6" stroke-width="0.8"/>
<polyline points="166.9,184.0 166.3,184.0 164.8,185.2 166.0,185.2" fill="none" stroke="#4aa8b2" stroke-width="0.8"/>
<polyline points="183.5,185.9 183.5,187.2 182.1,185.5" fill="none" stroke="#3e9aa4" stroke-width="0.8"/>
<polyline points="170.8,201.2 171.3,202.9 170.0,203.0" fill="none" stroke="#3e9aa4" stroke-width="0.8"/>
<polyline points="161.2,193.4 160.4,192.0 159.3,193.3 160.7,191.8" fill="none" stroke="#3558a8" stroke-width="0.8"/>
<circle cx="181.0" cy="193.2" r="0.55" fill="#2030b0"/>
<circle cx="172.2" cy="201.2" r="0.55" fill="#203890"/>
<circle cx="163.7" cy="200.2" r="0.55" fill="#2040c0"/>
<circle cx="161.9" cy="184.2" r="0.55" fill="#2030b0"/>
<circle cx="173.4" cy="205.6" r="0.55" fill="#d04040"/>
<circle cx="171.2" cy="195.4" r="0.55" fill="#d04040"/>
<circle cx="180.5" cy="198.0" r="0.55" fill="#203890"/>
<circle cx="176.5" cy="190.2" r="0.55" fill="#2030b0"/>
<circle cx="167.0" cy="187.2" r="0.55" fill="#203890"/>
<circle cx="166.4" cy="195.5" r="0.55" fill="#2030b0"/>
<circle cx="165.4" cy="184.5" r="0.55" fill="#d04040"/>
<circle cx="162.7" cy="192.9" r="0.55" fill="#203890"/>
<circle cx="177.7" cy="193.3" r="0.55" fill="#d04040"/>
<circle cx="184.7" cy="207.2" r="0.55" fill="#2040c0"/>
<circle cx="176.8" cy="197.1" r="0.55" fill="#d04040"/>
<circle cx="184.5" cy="206.0" r="0.55" fill="#203890"/>
<circle cx="181.3" cy="186.1" r="0.55" fill="#d04040"/>
<circle cx="159.7" cy="207.9" r="0.55" fill="#203890"/>
<circle cx="172.8" cy="210.9" r="0.55" fill="#203890"/>
<circle cx="168.2" cy="192.5" r="0.55" fill="#d04040"/>
<circle cx="168.0" cy="199.4" r="0.55" fill="#d04040"/>
<circle cx="172.0" cy="205.3" r="0.55" fill="#2040c0"/>
<circle cx="165.9" cy="198.5" r="0.55" fill="#2040c0"/>
<circle cx="174.2" cy="184.6" r="0.55" fill="#2030b0"/>
<circle cx="168.3" cy="196.1" r="0.55" fill="#d04040"/>
<circle cx="158.5" cy="190.4" r="0.55" fill="#203890"/>
<circle cx="159.6" cy="200.6" r="0.55" fill="#203890"/>
<circle cx="162.0" cy="189.5" r="0.55" fill="#203890"/>
<circle cx="158.1" cy="186.1" r="0.55" fill="#203890"/>
<circle cx="168.8" cy="184.9" r="0.55" fill="#203890"/>
<circle cx="163.1" cy="205.1" r="0.55" fill="#2030b0"/>
<circle cx="185.0" cy="199.3" r="0.55" fill="#2040c0"/>
<circle cx="161.2" cy="189.3" r="0.55" fill="#2030b0"/>
<circle cx="165.8" cy="195.1" r="0.55" fill="#203890"/>
<circle cx="159.5" cy="200.0" r="0.55" fill="#203890"/>
<circle cx="169.2" cy="209.4" r="0.55" fill="#2030b0"/>
<circle cx="169.6" cy="210.4" r="0.55" fill="#d04040"/>
<circle cx="166.0" cy="197.0" r="0.55" fill="#203890"/>
<circle cx="177.4" cy="198.5" r="0.55" fill="#203890"/>
<circle cx="177.3" cy="198.4" r="0.55" fill="#2030b0"/>
<circle cx="174.2" cy="185.0" r="0.55" fill="#d04040"/>
<circle cx="170.9" cy="204.6" r="0.55" fill="#2030b0"/>
<circle cx="181.2" cy="193.9" r="0.55" fill="#d04040"/>
<circle cx="167.0" cy="210.1" r="0.55" fill="#2030b0"/>
<circle cx="167.2" cy="196.0" r="0.55" fill="#2030b0"/>
<circle cx="161.6" cy="185.6" r="0.55" fill="#d04040"/>
<circle cx="177.8" cy="187.5" r="0.55" fill="#203890"/>
<rect x="73.00" y="180.60" width="84.60" height="33.00" rx="3.5" fill="url(#wd)"/>
<rect x="73.80" y="181.40" width="83.00" height="31.40" rx="3.5" fill="none" stroke="#a4a4ec" stroke-width="1.2"/>
<rect x="73.00" y="180.60" width="84.60" height="33.00" rx="3.5" fill="none" stroke="#3a3a78" stroke-width="0.7" filter="url(#bl)"/>
<rect x="71.60" y="185.20" width="5.20" height="25.30" fill="#157c78" />
<circle cx="72.9" cy="185.8" r="0.55" fill="#45b8ac"/>
<circle cx="75.1" cy="187.3" r="0.55" fill="#45b8ac"/>
<circle cx="74.2" cy="188.4" r="0.55" fill="#45b8ac"/>
<circle cx="74.7" cy="189.6" r="0.55" fill="#45b8ac"/>
<circle cx="72.7" cy="191.0" r="0.55" fill="#45b8ac"/>
<circle cx="75.4" cy="192.0" r="0.55" fill="#45b8ac"/>
<circle cx="75.1" cy="193.2" r="0.55" fill="#45b8ac"/>
<circle cx="74.0" cy="194.1" r="0.55" fill="#45b8ac"/>
<circle cx="73.2" cy="195.5" r="0.55" fill="#45b8ac"/>
<circle cx="75.6" cy="197.0" r="0.55" fill="#45b8ac"/>
<circle cx="72.5" cy="198.0" r="0.55" fill="#45b8ac"/>
<circle cx="75.8" cy="199.2" r="0.55" fill="#45b8ac"/>
<circle cx="73.2" cy="200.4" r="0.55" fill="#45b8ac"/>
<circle cx="72.5" cy="201.6" r="0.55" fill="#45b8ac"/>
<circle cx="74.0" cy="202.6" r="0.55" fill="#45b8ac"/>
<circle cx="73.2" cy="203.9" r="0.55" fill="#45b8ac"/>
<circle cx="73.2" cy="205.0" r="0.55" fill="#45b8ac"/>
<circle cx="73.4" cy="206.2" r="0.55" fill="#45b8ac"/>
<circle cx="75.4" cy="207.1" r="0.55" fill="#45b8ac"/>
<circle cx="74.7" cy="208.4" r="0.55" fill="#45b8ac"/>
<circle cx="76.0" cy="209.4" r="0.55" fill="#45b8ac"/>
<circle cx="82.90" cy="188.37" r="0.8" fill="#d83010"/>
<circle cx="81.49" cy="189.04" r="0.8" fill="#d83010"/>
<circle cx="81.61" cy="187.49" r="0.8" fill="#d83010"/>
<circle cx="82.00" cy="188.30" r="0.75" fill="#f4c828"/>
<circle cx="86.78" cy="192.38" r="0.8" fill="#d83010"/>
<circle cx="85.25" cy="192.10" r="0.8" fill="#d83010"/>
<circle cx="86.26" cy="190.91" r="0.8" fill="#d83010"/>
<circle cx="86.10" cy="191.80" r="0.75" fill="#f4c828"/>
<circle cx="79.50" cy="199.86" r="0.8" fill="#d83010"/>
<circle cx="80.07" cy="198.41" r="0.8" fill="#d83010"/>
<circle cx="81.04" cy="199.63" r="0.8" fill="#d83010"/>
<circle cx="80.20" cy="199.30" r="0.75" fill="#f4c828"/>
<circle cx="85.94" cy="197.68" r="0.8" fill="#d83010"/>
<circle cx="87.19" cy="198.60" r="0.8" fill="#d83010"/>
<circle cx="85.77" cy="199.23" r="0.8" fill="#d83010"/>
<circle cx="86.30" cy="198.50" r="0.75" fill="#f4c828"/>
<circle cx="93.68" cy="199.59" r="0.8" fill="#d83010"/>
<circle cx="92.21" cy="199.06" r="0.8" fill="#d83010"/>
<circle cx="93.41" cy="198.05" r="0.8" fill="#d83010"/>
<circle cx="93.10" cy="198.90" r="0.75" fill="#f4c828"/>
<circle cx="96.78" cy="202.58" r="0.8" fill="#d83010"/>
<circle cx="95.25" cy="202.30" r="0.8" fill="#d83010"/>
<circle cx="96.26" cy="201.12" r="0.8" fill="#d83010"/>
<circle cx="96.10" cy="202.00" r="0.75" fill="#f4c828"/>
<circle cx="101.40" cy="198.19" r="0.8" fill="#d83010"/>
<circle cx="100.47" cy="196.94" r="0.8" fill="#d83010"/>
<circle cx="102.02" cy="196.76" r="0.8" fill="#d83010"/>
<circle cx="101.30" cy="197.30" r="0.75" fill="#f4c828"/>
<circle cx="82.64" cy="205.50" r="0.8" fill="#d83010"/>
<circle cx="83.36" cy="206.89" r="0.8" fill="#d83010"/>
<circle cx="81.80" cy="206.81" r="0.8" fill="#d83010"/>
<circle cx="82.60" cy="206.40" r="0.75" fill="#f4c828"/>
<circle cx="88.94" cy="209.42" r="0.8" fill="#d83010"/>
<circle cx="87.51" cy="208.81" r="0.8" fill="#d83010"/>
<circle cx="88.75" cy="207.87" r="0.8" fill="#d83010"/>
<circle cx="88.40" cy="208.70" r="0.75" fill="#f4c828"/>
<circle cx="112.45" cy="187.90" r="0.8" fill="#d83010"/>
<circle cx="113.30" cy="189.20" r="0.8" fill="#d83010"/>
<circle cx="111.75" cy="189.29" r="0.8" fill="#d83010"/>
<circle cx="112.50" cy="188.80" r="0.75" fill="#f4c828"/>
<circle cx="116.13" cy="200.43" r="0.8" fill="#d83010"/>
<circle cx="117.50" cy="201.17" r="0.8" fill="#d83010"/>
<circle cx="116.17" cy="201.99" r="0.8" fill="#d83010"/>
<circle cx="116.60" cy="201.20" r="0.75" fill="#f4c828"/>
<circle cx="113.89" cy="208.58" r="0.8" fill="#d83010"/>
<circle cx="112.42" cy="208.07" r="0.8" fill="#d83010"/>
<circle cx="113.60" cy="207.05" r="0.8" fill="#d83010"/>
<circle cx="113.30" cy="207.90" r="0.75" fill="#f4c828"/>
<circle cx="122.12" cy="194.20" r="0.8" fill="#d83010"/>
<circle cx="123.61" cy="193.74" r="0.8" fill="#d83010"/>
<circle cx="123.27" cy="195.26" r="0.8" fill="#d83010"/>
<circle cx="123.00" cy="194.40" r="0.75" fill="#f4c828"/>
<circle cx="123.35" cy="189.09" r="0.8" fill="#d83010"/>
<circle cx="124.37" cy="187.92" r="0.8" fill="#d83010"/>
<circle cx="124.88" cy="189.39" r="0.8" fill="#d83010"/>
<circle cx="124.20" cy="188.80" r="0.75" fill="#f4c828"/>
<circle cx="123.63" cy="189.07" r="0.8" fill="#d83010"/>
<circle cx="124.38" cy="187.70" r="0.8" fill="#d83010"/>
<circle cx="125.19" cy="189.03" r="0.8" fill="#d83010"/>
<circle cx="124.40" cy="188.60" r="0.75" fill="#f4c828"/>
<circle cx="123.50" cy="194.38" r="0.8" fill="#d83010"/>
<circle cx="122.17" cy="195.19" r="0.8" fill="#d83010"/>
<circle cx="122.13" cy="193.63" r="0.8" fill="#d83010"/>
<circle cx="122.60" cy="194.40" r="0.75" fill="#f4c828"/>
<circle cx="133.15" cy="202.90" r="0.8" fill="#d83010"/>
<circle cx="131.59" cy="202.80" r="0.8" fill="#d83010"/>
<circle cx="132.46" cy="201.50" r="0.8" fill="#d83010"/>
<circle cx="132.40" cy="202.40" r="0.75" fill="#f4c828"/>
<circle cx="132.29" cy="206.51" r="0.8" fill="#d83010"/>
<circle cx="130.85" cy="207.12" r="0.8" fill="#d83010"/>
<circle cx="131.05" cy="205.57" r="0.8" fill="#d83010"/>
<circle cx="131.40" cy="206.40" r="0.75" fill="#f4c828"/>
<circle cx="137.14" cy="195.47" r="0.8" fill="#d83010"/>
<circle cx="136.17" cy="196.69" r="0.8" fill="#d83010"/>
<circle cx="135.59" cy="195.24" r="0.8" fill="#d83010"/>
<circle cx="136.30" cy="195.80" r="0.75" fill="#f4c828"/>
<circle cx="139.16" cy="194.72" r="0.8" fill="#d83010"/>
<circle cx="139.82" cy="193.30" r="0.8" fill="#d83010"/>
<circle cx="140.72" cy="194.58" r="0.8" fill="#d83010"/>
<circle cx="139.90" cy="194.20" r="0.75" fill="#f4c828"/>
<circle cx="146.39" cy="191.15" r="0.8" fill="#d83010"/>
<circle cx="145.22" cy="190.12" r="0.8" fill="#d83010"/>
<circle cx="146.70" cy="189.63" r="0.8" fill="#d83010"/>
<circle cx="146.10" cy="190.30" r="0.75" fill="#f4c828"/>
<circle cx="152.66" cy="190.49" r="0.8" fill="#d83010"/>
<circle cx="152.64" cy="188.93" r="0.8" fill="#d83010"/>
<circle cx="154.00" cy="189.68" r="0.8" fill="#d83010"/>
<circle cx="153.10" cy="189.70" r="0.75" fill="#f4c828"/>
<circle cx="146.61" cy="201.88" r="0.8" fill="#d83010"/>
<circle cx="146.91" cy="200.35" r="0.8" fill="#d83010"/>
<circle cx="148.08" cy="201.38" r="0.8" fill="#d83010"/>
<circle cx="147.20" cy="201.20" r="0.75" fill="#f4c828"/>
<circle cx="151.66" cy="201.75" r="0.8" fill="#d83010"/>
<circle cx="150.58" cy="202.87" r="0.8" fill="#d83010"/>
<circle cx="150.15" cy="201.38" r="0.8" fill="#d83010"/>
<circle cx="150.80" cy="202.00" r="0.75" fill="#f4c828"/>
<circle cx="140.82" cy="208.77" r="0.8" fill="#d83010"/>
<circle cx="139.73" cy="207.66" r="0.8" fill="#d83010"/>
<circle cx="141.24" cy="207.27" r="0.8" fill="#d83010"/>
<circle cx="140.60" cy="207.90" r="0.75" fill="#f4c828"/>
<circle cx="143.09" cy="210.58" r="0.8" fill="#d83010"/>
<circle cx="142.04" cy="209.42" r="0.8" fill="#d83010"/>
<circle cx="143.57" cy="209.10" r="0.8" fill="#d83010"/>
<circle cx="142.90" cy="209.70" r="0.75" fill="#f4c828"/>
<rect x="70.6" y="219.5" width="140.20" height="27.90" fill="none" stroke="#6464e6" stroke-width="0.75"/>
<rect x="70.20" y="217.30" width="10.90" height="32.30" rx="2.5" fill="url(#wd)"/>
<rect x="71.00" y="218.10" width="9.30" height="30.70" rx="2.5" fill="none" stroke="#a4a4ec" stroke-width="1.2"/>
<rect x="70.20" y="217.30" width="10.90" height="32.30" rx="2.5" fill="none" stroke="#3a3a78" stroke-width="0.7" filter="url(#bl)"/>
<path d="M144.5,231.0 C139.5,231.0 137.4,233.5 137.4,237.2 C137.4,241 139.5,243.4 144.5,243.4 Z" fill="#fff" stroke="#6a6ac8" stroke-width="0.9"/>
<rect x="144.00" y="217.30" width="67.60" height="32.70" rx="3.5" fill="url(#wd)"/>
<rect x="144.80" y="218.10" width="66.00" height="31.10" rx="3.5" fill="none" stroke="#a4a4ec" stroke-width="1.2"/>
<rect x="144.00" y="217.30" width="67.60" height="32.70" rx="3.5" fill="none" stroke="#3a3a78" stroke-width="0.7" filter="url(#bl)"/>
<polyline points="183.5,224.6 182.1,223.5 181.4,221.3" fill="none" stroke="#4aa8b2" stroke-width="0.8"/>
<polyline points="179.1,223.1 180.7,222.7 178.6,221.2 177.7,221.0" fill="none" stroke="#3f96a6" stroke-width="0.8"/>
<polyline points="181.5,236.0 180.1,235.1 181.0,237.4" fill="none" stroke="#5ab4bc" stroke-width="0.8"/>
<polyline points="172.1,240.0 173.6,240.6 172.9,241.8 170.9,243.4 172.7,241.5" fill="none" stroke="#5ab4bc" stroke-width="0.8"/>
<polyline points="161.7,242.5 161.1,240.8 159.7,242.8 158.3,243.6 157.9,246.0" fill="none" stroke="#2a7f8c" stroke-width="0.8"/>
<polyline points="175.5,244.8 173.9,244.1 175.9,244.5 174.1,243.7" fill="none" stroke="#3558a8" stroke-width="0.8"/>
<polyline points="175.9,234.7 177.4,235.7 179.3,237.0" fill="none" stroke="#2f8a96" stroke-width="0.8"/>
<polyline points="182.7,245.8 182.8,247.0 181.4,247.0 183.1,247.0 184.1,247.0" fill="none" stroke="#3f96a6" stroke-width="0.8"/>
<polyline points="163.0,222.0 164.5,223.7 164.4,221.6 165.6,222.4 166.6,223.4" fill="none" stroke="#5ab4bc" stroke-width="0.8"/>
<polyline points="170.2,243.0 169.8,241.7 169.4,243.8 170.5,242.3" fill="none" stroke="#2f8a96" stroke-width="0.8"/>
<polyline points="175.1,230.2 175.9,228.3 177.1,227.9" fill="none" stroke="#5ab4bc" stroke-width="0.8"/>
<polyline points="167.3,222.7 168.3,224.6 166.8,225.2" fill="none" stroke="#2f8a96" stroke-width="0.8"/>
<polyline points="159.9,226.0 161.0,227.0 161.0,229.4 161.6,230.8 163.2,231.9" fill="none" stroke="#3e9aa4" stroke-width="0.8"/>
<polyline points="168.7,224.1 169.3,223.0 167.6,224.6 169.0,224.9 167.3,225.0" fill="none" stroke="#3558a8" stroke-width="0.8"/>
<polyline points="176.3,231.9 176.3,233.4 176.2,234.7 175.5,233.5" fill="none" stroke="#3f96a6" stroke-width="0.8"/>
<polyline points="166.4,221.8 165.4,221.0 164.2,221.1" fill="none" stroke="#3558a8" stroke-width="0.8"/>
<polyline points="178.4,226.6 179.3,225.3 177.9,225.0 176.6,227.1" fill="none" stroke="#3558a8" stroke-width="0.8"/>
<polyline points="176.3,239.3 175.4,238.2 176.2,235.8 174.6,235.3 175.7,233.7" fill="none" stroke="#3e9aa4" stroke-width="0.8"/>
<polyline points="164.8,234.7 165.8,233.0 165.1,230.8 166.5,230.6" fill="none" stroke="#2a7f8c" stroke-width="0.8"/>
<polyline points="167.1,243.8 165.5,245.1 165.9,246.5" fill="none" stroke="#2f8a96" stroke-width="0.8"/>
<polyline points="182.5,229.8 179.9,229.5 181.1,231.1" fill="none" stroke="#3558a8" stroke-width="0.8"/>
<polyline points="183.3,221.0 183.5,221.0 184.6,221.0 184.6,221.0" fill="none" stroke="#2f8a96" stroke-width="0.8"/>
<polyline points="173.1,245.0 170.6,244.9 172.1,243.9 170.5,242.4" fill="none" stroke="#4aa8b2" stroke-width="0.8"/>
<polyline points="166.5,238.6 167.9,239.1 165.4,238.9 164.9,237.8 165.0,239.2" fill="none" stroke="#4aa8b2" stroke-width="0.8"/>
<polyline points="165.9,221.6 167.7,223.2 168.9,221.0 169.7,222.4" fill="none" stroke="#2a7f8c" stroke-width="0.8"/>
<polyline points="167.4,242.1 167.5,243.7 165.7,241.9 167.2,240.9" fill="none" stroke="#4aa8b2" stroke-width="0.8"/>
<polyline points="171.6,226.7 172.6,224.6 170.9,224.0" fill="none" stroke="#4aa8b2" stroke-width="0.8"/>
<polyline points="184.5,242.3 182.9,241.7 183.8,243.2" fill="none" stroke="#3f96a6" stroke-width="0.8"/>
<polyline points="182.3,236.2 180.5,236.9 179.1,238.1 180.2,236.6" fill="none" stroke="#3e9aa4" stroke-width="0.8"/>
<polyline points="165.5,221.3 167.3,222.8 167.3,221.5" fill="none" stroke="#5ab4bc" stroke-width="0.8"/>
<polyline points="170.5,237.5 172.1,239.1 173.3,241.1 171.4,240.6 172.1,242.8" fill="none" stroke="#3f96a6" stroke-width="0.8"/>
<polyline points="168.5,235.5 168.9,233.4 166.7,234.1" fill="none" stroke="#2a7f8c" stroke-width="0.8"/>
<polyline points="164.9,243.6 165.2,245.5 164.4,243.7" fill="none" stroke="#5ab4bc" stroke-width="0.8"/>
<polyline points="182.7,236.9 181.2,238.7 179.5,240.6" fill="none" stroke="#5ab4bc" stroke-width="0.8"/>
<polyline points="177.9,230.1 179.4,231.7 181.4,232.2 180.6,234.4" fill="none" stroke="#3e9aa4" stroke-width="0.8"/>
<polyline points="179.4,234.2 178.4,235.0 176.1,235.0" fill="none" stroke="#2f8a96" stroke-width="0.8"/>
<polyline points="158.1,232.5 159.5,234.6 158.1,234.5 159.5,235.5" fill="none" stroke="#2a7f8c" stroke-width="0.8"/>
<polyline points="162.4,239.6 160.9,239.6 159.2,240.2 158.5,238.3 158.7,239.7" fill="none" stroke="#3558a8" stroke-width="0.8"/>
<polyline points="174.9,237.0 177.1,238.0 174.6,237.3 173.5,236.1" fill="none" stroke="#2a7f8c" stroke-width="0.8"/>
<polyline points="178.4,223.5 178.2,225.4 177.0,224.4 176.7,222.8" fill="none" stroke="#2a7f8c" stroke-width="0.8"/>
<polyline points="171.6,244.5 170.8,245.6 168.6,246.4 170.7,246.6 169.2,247.0" fill="none" stroke="#2f8a96" stroke-width="0.8"/>
<polyline points="180.7,231.1 182.3,232.4 184.3,230.9 184.6,230.9" fill="none" stroke="#2a7f8c" stroke-width="0.8"/>
<polyline points="179.7,229.2 178.3,229.6 179.7,229.8" fill="none" stroke="#4aa8b2" stroke-width="0.8"/>
<polyline points="169.2,237.8 168.1,236.6 166.9,234.7 166.0,235.7" fill="none" stroke="#2a7f8c" stroke-width="0.8"/>
<polyline points="183.9,224.7 182.9,225.5 184.2,224.6 184.6,223.2" fill="none" stroke="#2f8a96" stroke-width="0.8"/>
<polyline points="179.6,244.9 177.2,244.5 175.9,244.6 176.9,246.0" fill="none" stroke="#3558a8" stroke-width="0.8"/>
<polyline points="158.7,233.8 157.9,234.9 158.1,236.6 157.9,237.3 157.9,236.0" fill="none" stroke="#5ab4bc" stroke-width="0.8"/>
<polyline points="170.8,232.2 171.7,233.2 172.0,230.7 173.9,229.6" fill="none" stroke="#4aa8b2" stroke-width="0.8"/>
<polyline points="176.8,228.2 175.7,226.3 174.3,225.8" fill="none" stroke="#3f96a6" stroke-width="0.8"/>
<polyline points="163.6,225.1 164.4,226.0 163.3,223.8 161.2,222.6" fill="none" stroke="#4aa8b2" stroke-width="0.8"/>
<polyline points="160.9,231.9 160.8,230.6 159.4,229.1" fill="none" stroke="#3558a8" stroke-width="0.8"/>
<polyline points="170.3,234.5 170.4,232.2 171.1,233.6" fill="none" stroke="#4aa8b2" stroke-width="0.8"/>
<polyline points="162.1,222.4 160.0,223.3 158.3,223.2 159.8,222.9 158.7,225.2" fill="none" stroke="#2f8a96" stroke-width="0.8"/>
<polyline points="171.5,236.1 173.9,236.6 172.2,236.3" fill="none" stroke="#4aa8b2" stroke-width="0.8"/>
<polyline points="169.1,242.7 167.4,244.6 166.1,243.5" fill="none" stroke="#3e9aa4" stroke-width="0.8"/>
<polyline points="164.5,241.0 165.8,240.9 165.4,238.6" fill="none" stroke="#2a7f8c" stroke-width="0.8"/>
<polyline points="167.6,224.2 166.3,226.2 164.7,228.0 164.4,229.6" fill="none" stroke="#4aa8b2" stroke-width="0.8"/>
<polyline points="179.1,231.7 180.2,233.8 181.4,234.6 181.5,236.0 180.9,234.0" fill="none" stroke="#3558a8" stroke-width="0.8"/>
<polyline points="167.9,242.2 165.5,243.1 163.3,243.8 164.6,243.4" fill="none" stroke="#4aa8b2" stroke-width="0.8"/>
<polyline points="176.2,245.4 174.8,244.2 174.2,245.9 175.7,243.9 174.4,244.7" fill="none" stroke="#2a7f8c" stroke-width="0.8"/>
<polyline points="167.9,244.5 166.2,244.7 167.2,243.7 169.4,243.3 168.1,245.1" fill="none" stroke="#3558a8" stroke-width="0.8"/>
<polyline points="178.2,221.9 180.3,221.2 181.9,221.3 181.0,222.5 179.1,224.3" fill="none" stroke="#4aa8b2" stroke-width="0.8"/>
<polyline points="163.6,234.6 162.8,235.5 162.9,233.7" fill="none" stroke="#5ab4bc" stroke-width="0.8"/>
<polyline points="177.9,234.4 175.8,233.4 173.8,233.3" fill="none" stroke="#2f8a96" stroke-width="0.8"/>
<polyline points="180.9,229.1 179.7,231.3 179.5,228.9 181.8,228.7" fill="none" stroke="#3e9aa4" stroke-width="0.8"/>
<polyline points="172.2,225.5 171.9,224.0 170.5,223.3 171.3,225.0 171.9,223.1" fill="none" stroke="#4aa8b2" stroke-width="0.8"/>
<polyline points="174.6,238.5 174.0,239.9 173.4,242.0" fill="none" stroke="#3f96a6" stroke-width="0.8"/>
<polyline points="162.0,245.0 161.3,243.8 159.7,244.9 159.7,243.0 161.3,244.0" fill="none" stroke="#3f96a6" stroke-width="0.8"/>
<polyline points="183.5,234.8 183.1,236.2 184.0,235.3" fill="none" stroke="#5ab4bc" stroke-width="0.8"/>
<polyline points="171.9,236.5 170.5,235.7 170.6,234.0 172.1,233.5 173.2,234.4" fill="none" stroke="#3558a8" stroke-width="0.8"/>
<polyline points="173.5,232.4 172.3,231.9 172.1,229.6 172.0,230.8 171.6,232.0" fill="none" stroke="#5ab4bc" stroke-width="0.8"/>
<polyline points="172.0,244.0 171.3,241.9 170.3,243.7 172.4,243.3 173.3,245.3" fill="none" stroke="#3f96a6" stroke-width="0.8"/>
<polyline points="163.2,236.7 165.3,235.3 165.8,237.1 168.3,237.9 169.7,239.0" fill="none" stroke="#5ab4bc" stroke-width="0.8"/>
<polyline points="176.6,244.3 175.0,244.3 172.8,244.4 172.3,246.1" fill="none" stroke="#3f96a6" stroke-width="0.8"/>
<polyline points="166.0,234.8 168.0,233.2 169.0,234.8 170.6,236.3 168.7,237.7" fill="none" stroke="#2a7f8c" stroke-width="0.8"/>
<polyline points="179.1,236.8 179.0,238.8 177.5,238.4 176.6,237.2 174.3,236.9" fill="none" stroke="#3e9aa4" stroke-width="0.8"/>
<polyline points="184.2,237.2 184.6,235.2 183.1,235.7 180.6,235.5 182.0,234.2" fill="none" stroke="#3558a8" stroke-width="0.8"/>
<polyline points="178.3,222.1 178.0,221.0 178.3,222.9 177.0,222.5 178.6,221.8" fill="none" stroke="#2f8a96" stroke-width="0.8"/>
<polyline points="181.1,230.1 179.9,231.4 182.2,232.0 181.9,230.6" fill="none" stroke="#3f96a6" stroke-width="0.8"/>
<polyline points="162.6,234.1 160.6,233.7 159.3,232.0 161.3,230.4 162.7,230.3" fill="none" stroke="#3f96a6" stroke-width="0.8"/>
<polyline points="175.1,246.5 177.1,247.0 178.6,245.8 177.1,245.8" fill="none" stroke="#3558a8" stroke-width="0.8"/>
<polyline points="161.4,235.6 163.0,235.6 161.8,236.8" fill="none" stroke="#4aa8b2" stroke-width="0.8"/>
<polyline points="176.1,239.6 176.2,241.7 173.9,242.2" fill="none" stroke="#3f96a6" stroke-width="0.8"/>
<polyline points="168.6,222.7 168.9,221.1 170.2,221.1 170.6,221.0" fill="none" stroke="#2f8a96" stroke-width="0.8"/>
<polyline points="164.2,245.0 166.2,245.8 167.6,244.0 168.7,246.2 169.0,244.8" fill="none" stroke="#3558a8" stroke-width="0.8"/>
<polyline points="166.5,233.4 166.5,231.0 165.4,230.8" fill="none" stroke="#3f96a6" stroke-width="0.8"/>
<polyline points="158.7,229.1 160.4,230.9 161.4,230.2" fill="none" stroke="#2f8a96" stroke-width="0.8"/>
<polyline points="174.5,227.9 175.8,226.6 175.5,225.3 175.7,223.9" fill="none" stroke="#2a7f8c" stroke-width="0.8"/>
<polyline points="176.8,236.9 176.9,238.8 178.2,239.2 179.8,241.0" fill="none" stroke="#4aa8b2" stroke-width="0.8"/>
<polyline points="159.7,242.5 160.9,244.5 162.7,244.4 160.6,244.6" fill="none" stroke="#2a7f8c" stroke-width="0.8"/>
<polyline points="171.5,229.8 171.8,231.5 173.5,231.7" fill="none" stroke="#3558a8" stroke-width="0.8"/>
<polyline points="164.2,222.3 162.9,223.3 164.1,223.3" fill="none" stroke="#3e9aa4" stroke-width="0.8"/>
<polyline points="167.9,224.2 168.7,222.2 170.3,222.2" fill="none" stroke="#3f96a6" stroke-width="0.8"/>
<polyline points="178.0,226.6 178.4,224.1 178.5,222.4" fill="none" stroke="#3f96a6" stroke-width="0.8"/>
<polyline points="182.7,228.1 182.8,230.3 182.5,228.9" fill="none" stroke="#2f8a96" stroke-width="0.8"/>
<polyline points="181.6,230.2 180.7,232.0 181.9,233.6 179.6,233.1" fill="none" stroke="#3f96a6" stroke-width="0.8"/>
<polyline points="181.3,222.0 182.7,223.3 181.7,221.4" fill="none" stroke="#2f8a96" stroke-width="0.8"/>
<polyline points="160.1,222.8 158.2,222.7 157.9,222.9" fill="none" stroke="#4aa8b2" stroke-width="0.8"/>
<polyline points="165.0,244.3 165.7,246.3 167.0,247.0 166.0,247.0 166.3,245.8" fill="none" stroke="#4aa8b2" stroke-width="0.8"/>
<polyline points="161.0,228.5 160.4,226.6 162.0,226.4" fill="none" stroke="#3558a8" stroke-width="0.8"/>
<polyline points="169.6,224.8 168.5,225.4 166.6,225.7" fill="none" stroke="#3e9aa4" stroke-width="0.8"/>
<polyline points="171.8,240.2 173.8,240.9 171.5,239.7 170.4,240.5" fill="none" stroke="#2a7f8c" stroke-width="0.8"/>
<polyline points="174.6,222.5 176.2,222.7 177.5,224.5" fill="none" stroke="#3558a8" stroke-width="0.8"/>
<polyline points="176.1,226.2 177.5,224.9 175.6,223.6 176.9,222.9" fill="none" stroke="#3f96a6" stroke-width="0.8"/>
<polyline points="162.5,229.4 161.2,228.0 159.4,228.6 161.4,229.0" fill="none" stroke="#2f8a96" stroke-width="0.8"/>
<polyline points="161.1,221.9 159.2,221.0 160.1,223.4 162.4,222.3 161.1,221.0" fill="none" stroke="#2f8a96" stroke-width="0.8"/>
<polyline points="178.9,227.1 177.1,228.1 176.1,226.8 175.7,228.9" fill="none" stroke="#5ab4bc" stroke-width="0.8"/>
<polyline points="170.3,238.3 169.8,239.5 168.5,238.8 167.0,238.6" fill="none" stroke="#3558a8" stroke-width="0.8"/>
<polyline points="158.7,235.5 157.9,234.4 157.9,233.7 157.9,231.9" fill="none" stroke="#3558a8" stroke-width="0.8"/>
<polyline points="167.6,238.5 166.9,236.7 167.6,235.1" fill="none" stroke="#3f96a6" stroke-width="0.8"/>
<polyline points="162.7,227.5 164.2,225.7 164.6,223.6" fill="none" stroke="#3e9aa4" stroke-width="0.8"/>
<polyline points="183.2,246.8 182.7,247.0 181.3,247.0" fill="none" stroke="#4aa8b2" stroke-width="0.8"/>
<polyline points="184.4,221.1 184.6,223.1 184.6,221.5 183.8,221.0 184.6,223.0" fill="none" stroke="#2f8a96" stroke-width="0.8"/>
<polyline points="167.4,242.3 168.7,240.9 168.2,238.9" fill="none" stroke="#5ab4bc" stroke-width="0.8"/>
<polyline points="184.1,238.2 184.6,237.7 184.6,238.8 184.6,239.8" fill="none" stroke="#2a7f8c" stroke-width="0.8"/>
<polyline points="182.1,224.1 179.6,224.2 177.9,224.6 176.7,225.7" fill="none" stroke="#4aa8b2" stroke-width="0.8"/>
<polyline points="183.1,222.7 184.6,221.8 184.6,221.0" fill="none" stroke="#3f96a6" stroke-width="0.8"/>
<polyline points="172.5,243.3 174.0,241.9 174.6,243.4 173.0,244.7" fill="none" stroke="#2a7f8c" stroke-width="0.8"/>
<polyline points="179.4,227.8 181.6,227.8 183.2,225.9 184.5,227.4 184.2,225.6" fill="none" stroke="#5ab4bc" stroke-width="0.8"/>
<polyline points="167.3,240.8 167.9,241.9 167.7,243.2 167.3,244.3 168.9,245.6" fill="none" stroke="#3e9aa4" stroke-width="0.8"/>
<circle cx="171.0" cy="239.6" r="0.55" fill="#2030b0"/>
<circle cx="172.8" cy="243.7" r="0.55" fill="#203890"/>
<circle cx="183.8" cy="227.7" r="0.55" fill="#2030b0"/>
<circle cx="169.3" cy="243.7" r="0.55" fill="#2040c0"/>
<circle cx="175.1" cy="221.7" r="0.55" fill="#2040c0"/>
<circle cx="160.8" cy="221.4" r="0.55" fill="#2040c0"/>
<circle cx="177.6" cy="243.3" r="0.55" fill="#203890"/>
<circle cx="178.8" cy="231.7" r="0.55" fill="#2040c0"/>
<circle cx="176.4" cy="243.5" r="0.55" fill="#203890"/>
<circle cx="182.0" cy="236.1" r="0.55" fill="#2040c0"/>
<circle cx="184.5" cy="225.4" r="0.55" fill="#203890"/>
<circle cx="174.2" cy="227.9" r="0.55" fill="#2040c0"/>
<circle cx="180.9" cy="230.9" r="0.55" fill="#2040c0"/>
<circle cx="173.2" cy="230.7" r="0.55" fill="#2030b0"/>
<circle cx="162.4" cy="224.9" r="0.55" fill="#d04040"/>
<circle cx="181.5" cy="245.7" r="0.55" fill="#2040c0"/>
<circle cx="160.6" cy="227.4" r="0.55" fill="#2040c0"/>
<circle cx="158.5" cy="228.1" r="0.55" fill="#203890"/>
<circle cx="163.2" cy="224.5" r="0.55" fill="#2040c0"/>
<circle cx="158.1" cy="245.6" r="0.55" fill="#d04040"/>
<circle cx="165.6" cy="223.1" r="0.55" fill="#203890"/>
<circle cx="177.2" cy="245.8" r="0.55" fill="#2030b0"/>
<circle cx="157.9" cy="245.2" r="0.55" fill="#203890"/>
<circle cx="178.1" cy="234.1" r="0.55" fill="#203890"/>
<circle cx="161.0" cy="237.3" r="0.55" fill="#203890"/>
<circle cx="178.6" cy="221.2" r="0.55" fill="#2030b0"/>
<circle cx="170.2" cy="230.7" r="0.55" fill="#d04040"/>
<circle cx="159.7" cy="245.9" r="0.55" fill="#2030b0"/>
<circle cx="181.1" cy="225.1" r="0.55" fill="#d04040"/>
<circle cx="163.9" cy="231.8" r="0.55" fill="#2030b0"/>
<circle cx="170.0" cy="222.2" r="0.55" fill="#203890"/>
<circle cx="160.2" cy="244.3" r="0.55" fill="#2030b0"/>
<circle cx="159.5" cy="236.5" r="0.55" fill="#d04040"/>
<circle cx="166.7" cy="244.9" r="0.55" fill="#2030b0"/>
<circle cx="178.1" cy="222.9" r="0.55" fill="#2030b0"/>
<circle cx="171.6" cy="237.3" r="0.55" fill="#d04040"/>
<circle cx="180.3" cy="243.5" r="0.55" fill="#d04040"/>
<circle cx="179.7" cy="243.9" r="0.55" fill="#203890"/>
<circle cx="160.2" cy="237.2" r="0.55" fill="#d04040"/>
<circle cx="177.8" cy="244.3" r="0.55" fill="#203890"/>
<circle cx="166.7" cy="245.1" r="0.55" fill="#203890"/>
<circle cx="160.2" cy="246.8" r="0.55" fill="#203890"/>
<circle cx="169.0" cy="239.8" r="0.55" fill="#2040c0"/>
<circle cx="165.1" cy="225.0" r="0.55" fill="#203890"/>
<circle cx="177.4" cy="235.4" r="0.55" fill="#2040c0"/>
<circle cx="171.9" cy="222.6" r="0.55" fill="#2030b0"/>
<circle cx="171.2" cy="228.0" r="0.55" fill="#2030b0"/>
<circle cx="158.0" cy="244.3" r="0.55" fill="#203890"/>
<circle cx="176.3" cy="229.6" r="0.55" fill="#2030b0"/>
<circle cx="159.8" cy="227.5" r="0.55" fill="#2030b0"/>
<circle cx="180.7" cy="221.8" r="0.55" fill="#2030b0"/>
<circle cx="169.4" cy="238.1" r="0.55" fill="#203890"/>
<circle cx="176.0" cy="237.2" r="0.55" fill="#2040c0"/>
<circle cx="170.2" cy="236.0" r="0.55" fill="#2040c0"/>
<circle cx="166.3" cy="238.7" r="0.55" fill="#2030b0"/>
<circle cx="183.7" cy="237.1" r="0.55" fill="#2040c0"/>
<rect x="142.60" y="221.70" width="4.20" height="26.70" fill="#157c78" />
<circle cx="145.9" cy="222.3" r="0.55" fill="#45b8ac"/>
<circle cx="143.5" cy="223.9" r="0.55" fill="#45b8ac"/>
<circle cx="145.6" cy="224.8" r="0.55" fill="#45b8ac"/>
<circle cx="145.1" cy="226.2" r="0.55" fill="#45b8ac"/>
<circle cx="145.0" cy="227.4" r="0.55" fill="#45b8ac"/>
<circle cx="144.9" cy="228.7" r="0.55" fill="#45b8ac"/>
<circle cx="144.5" cy="229.7" r="0.55" fill="#45b8ac"/>
<circle cx="145.3" cy="230.9" r="0.55" fill="#45b8ac"/>
<circle cx="145.9" cy="232.5" r="0.55" fill="#45b8ac"/>
<circle cx="144.6" cy="233.7" r="0.55" fill="#45b8ac"/>
<circle cx="143.5" cy="234.8" r="0.55" fill="#45b8ac"/>
<circle cx="144.6" cy="235.7" r="0.55" fill="#45b8ac"/>
<circle cx="144.4" cy="236.9" r="0.55" fill="#45b8ac"/>
<circle cx="144.8" cy="238.4" r="0.55" fill="#45b8ac"/>
<circle cx="144.0" cy="239.7" r="0.55" fill="#45b8ac"/>
<circle cx="144.2" cy="240.6" r="0.55" fill="#45b8ac"/>
<circle cx="144.7" cy="241.6" r="0.55" fill="#45b8ac"/>
<circle cx="145.2" cy="243.2" r="0.55" fill="#45b8ac"/>
<circle cx="145.7" cy="244.2" r="0.55" fill="#45b8ac"/>
<circle cx="145.3" cy="245.7" r="0.55" fill="#45b8ac"/>
<circle cx="145.4" cy="247.2" r="0.55" fill="#45b8ac"/>
<circle cx="150.30" cy="228.42" r="0.8" fill="#d83010"/>
<circle cx="148.74" cy="228.48" r="0.8" fill="#d83010"/>
<circle cx="149.47" cy="227.10" r="0.8" fill="#d83010"/>
<circle cx="149.50" cy="228.00" r="0.75" fill="#f4c828"/>
<circle cx="151.70" cy="230.38" r="0.8" fill="#d83010"/>
<circle cx="150.64" cy="229.24" r="0.8" fill="#d83010"/>
<circle cx="152.16" cy="228.89" r="0.8" fill="#d83010"/>
<circle cx="151.50" cy="229.50" r="0.75" fill="#f4c828"/>
<circle cx="153.21" cy="229.35" r="0.8" fill="#d83010"/>
<circle cx="152.91" cy="227.82" r="0.8" fill="#d83010"/>
<circle cx="154.38" cy="228.33" r="0.8" fill="#d83010"/>
<circle cx="153.50" cy="228.50" r="0.75" fill="#f4c828"/>
<circle cx="156.23" cy="229.97" r="0.8" fill="#d83010"/>
<circle cx="155.59" cy="231.40" r="0.8" fill="#d83010"/>
<circle cx="154.68" cy="230.13" r="0.8" fill="#d83010"/>
<circle cx="155.50" cy="230.50" r="0.75" fill="#f4c828"/>
<circle cx="149.10" cy="232.02" r="0.8" fill="#d83010"/>
<circle cx="150.43" cy="231.21" r="0.8" fill="#d83010"/>
<circle cx="150.47" cy="232.77" r="0.8" fill="#d83010"/>
<circle cx="150.00" cy="232.00" r="0.75" fill="#f4c828"/>
<circle cx="152.33" cy="233.12" r="0.8" fill="#d83010"/>
<circle cx="153.35" cy="234.30" r="0.8" fill="#d83010"/>
<circle cx="151.82" cy="234.59" r="0.8" fill="#d83010"/>
<circle cx="152.50" cy="234.00" r="0.75" fill="#f4c828"/>
<circle cx="155.73" cy="236.03" r="0.8" fill="#d83010"/>
<circle cx="154.18" cy="235.86" r="0.8" fill="#d83010"/>
<circle cx="155.10" cy="234.61" r="0.8" fill="#d83010"/>
<circle cx="155.00" cy="235.50" r="0.75" fill="#f4c828"/>
<circle cx="156.60" cy="232.95" r="0.8" fill="#d83010"/>
<circle cx="157.99" cy="232.25" r="0.8" fill="#d83010"/>
<circle cx="157.91" cy="233.80" r="0.8" fill="#d83010"/>
<circle cx="157.50" cy="233.00" r="0.75" fill="#f4c828"/>
<circle cx="150.00" cy="235.75" r="0.8" fill="#d83010"/>
<circle cx="149.90" cy="237.31" r="0.8" fill="#d83010"/>
<circle cx="148.60" cy="236.44" r="0.8" fill="#d83010"/>
<circle cx="149.50" cy="236.50" r="0.75" fill="#f4c828"/>
<circle cx="151.11" cy="238.37" r="0.8" fill="#d83010"/>
<circle cx="152.56" cy="237.79" r="0.8" fill="#d83010"/>
<circle cx="152.33" cy="239.34" r="0.8" fill="#d83010"/>
<circle cx="152.00" cy="238.50" r="0.75" fill="#f4c828"/>
<circle cx="156.85" cy="237.69" r="0.8" fill="#d83010"/>
<circle cx="155.84" cy="238.89" r="0.8" fill="#d83010"/>
<circle cx="155.31" cy="237.42" r="0.8" fill="#d83010"/>
<circle cx="156.00" cy="238.00" r="0.75" fill="#f4c828"/>
<circle cx="149.66" cy="241.39" r="0.8" fill="#d83010"/>
<circle cx="149.20" cy="242.88" r="0.8" fill="#d83010"/>
<circle cx="148.14" cy="241.73" r="0.8" fill="#d83010"/>
<circle cx="149.00" cy="242.00" r="0.75" fill="#f4c828"/>
<circle cx="158.88" cy="222.15" r="0.8" fill="#d83010"/>
<circle cx="159.25" cy="220.64" r="0.8" fill="#d83010"/>
<circle cx="160.37" cy="221.71" r="0.8" fill="#d83010"/>
<circle cx="159.50" cy="221.50" r="0.75" fill="#f4c828"/>
<circle cx="162.90" cy="222.50" r="0.8" fill="#d83010"/>
<circle cx="161.55" cy="223.28" r="0.8" fill="#d83010"/>
<circle cx="161.55" cy="221.72" r="0.8" fill="#d83010"/>
<circle cx="162.00" cy="222.50" r="0.75" fill="#f4c828"/>
<circle cx="165.03" cy="220.10" r="0.8" fill="#d83010"/>
<circle cx="165.76" cy="221.48" r="0.8" fill="#d83010"/>
<circle cx="164.21" cy="221.42" r="0.8" fill="#d83010"/>
<circle cx="165.00" cy="221.00" r="0.75" fill="#f4c828"/>
<circle cx="168.63" cy="223.64" r="0.8" fill="#d83010"/>
<circle cx="167.13" cy="223.23" r="0.8" fill="#d83010"/>
<circle cx="168.24" cy="222.13" r="0.8" fill="#d83010"/>
<circle cx="168.00" cy="223.00" r="0.75" fill="#f4c828"/>
<circle cx="171.40" cy="221.55" r="0.8" fill="#d83010"/>
<circle cx="170.00" cy="222.25" r="0.8" fill="#d83010"/>
<circle cx="170.10" cy="220.70" r="0.8" fill="#d83010"/>
<circle cx="170.50" cy="221.50" r="0.75" fill="#f4c828"/>
<circle cx="172.89" cy="222.61" r="0.8" fill="#d83010"/>
<circle cx="173.83" cy="223.85" r="0.8" fill="#d83010"/>
<circle cx="172.28" cy="224.04" r="0.8" fill="#d83010"/>
<circle cx="173.00" cy="223.50" r="0.75" fill="#f4c828"/>
<circle cx="163.50" cy="223.75" r="0.8" fill="#d83010"/>
<circle cx="163.40" cy="225.30" r="0.8" fill="#d83010"/>
<circle cx="162.10" cy="224.45" r="0.8" fill="#d83010"/>
<circle cx="163.00" cy="224.50" r="0.75" fill="#f4c828"/>
<circle cx="167.97" cy="245.23" r="0.8" fill="#d83010"/>
<circle cx="167.93" cy="246.79" r="0.8" fill="#d83010"/>
<circle cx="166.60" cy="245.98" r="0.8" fill="#d83010"/>
<circle cx="167.50" cy="246.00" r="0.75" fill="#f4c828"/>
<circle cx="171.86" cy="246.24" r="0.8" fill="#d83010"/>
<circle cx="170.79" cy="247.38" r="0.8" fill="#d83010"/>
<circle cx="170.34" cy="245.88" r="0.8" fill="#d83010"/>
<circle cx="171.00" cy="246.50" r="0.75" fill="#f4c828"/>
<circle cx="174.27" cy="246.36" r="0.8" fill="#d83010"/>
<circle cx="173.12" cy="245.30" r="0.8" fill="#d83010"/>
<circle cx="174.61" cy="244.84" r="0.8" fill="#d83010"/>
<circle cx="174.00" cy="245.50" r="0.75" fill="#f4c828"/>
<circle cx="191.58" cy="237.04" r="0.8" fill="#d83010"/>
<circle cx="190.03" cy="237.06" r="0.8" fill="#d83010"/>
<circle cx="190.79" cy="235.70" r="0.8" fill="#d83010"/>
<circle cx="190.80" cy="236.60" r="0.75" fill="#f4c828"/>
<circle cx="211.05" cy="232.82" r="0.8" fill="#d83010"/>
<circle cx="209.54" cy="232.46" r="0.8" fill="#d83010"/>
<circle cx="210.61" cy="231.32" r="0.8" fill="#d83010"/>
<circle cx="210.40" cy="232.20" r="0.75" fill="#f4c828"/>
<rect x="70.6" y="256.4" width="140.20" height="28.40" fill="none" stroke="#6464e6" stroke-width="0.75"/>
<polyline points="183.0,283.1 184.7,283.3 183.4,284.4" fill="none" stroke="#3f96a6" stroke-width="0.8"/>
<polyline points="164.0,269.1 162.2,267.4 164.2,269.0" fill="none" stroke="#2a7f8c" stroke-width="0.8"/>
<polyline points="170.0,271.0 167.9,272.0 168.2,273.2 167.2,274.2 167.7,276.4" fill="none" stroke="#5ab4bc" stroke-width="0.8"/>
<polyline points="178.8,267.0 178.3,269.5 176.2,268.5 177.0,270.2 177.5,268.1" fill="none" stroke="#3e9aa4" stroke-width="0.8"/>
<polyline points="163.7,261.7 162.8,260.0 161.7,259.4 159.9,260.3" fill="none" stroke="#5ab4bc" stroke-width="0.8"/>
<polyline points="166.3,273.1 165.2,274.3 164.4,276.5" fill="none" stroke="#5ab4bc" stroke-width="0.8"/>
<polyline points="164.7,260.9 165.1,258.8 165.9,257.5 163.5,256.8 161.4,256.8" fill="none" stroke="#3e9aa4" stroke-width="0.8"/>
<polyline points="170.7,257.7 169.6,258.4 170.4,256.8 172.7,256.8 174.6,256.8" fill="none" stroke="#2a7f8c" stroke-width="0.8"/>
<polyline points="178.5,266.4 177.2,266.5 177.0,268.4 177.1,266.6" fill="none" stroke="#4aa8b2" stroke-width="0.8"/>
<polyline points="164.6,259.7 163.3,257.9 161.9,257.4 163.1,258.2 165.3,258.4" fill="none" stroke="#3f96a6" stroke-width="0.8"/>
<polyline points="182.2,279.3 181.5,277.7 180.7,275.5 179.7,274.3 179.2,276.0" fill="none" stroke="#3558a8" stroke-width="0.8"/>
<polyline points="181.4,273.7 182.0,272.5 180.9,271.3" fill="none" stroke="#5ab4bc" stroke-width="0.8"/>
<polyline points="177.9,268.7 179.2,268.3 177.4,267.6" fill="none" stroke="#3e9aa4" stroke-width="0.8"/>
<polyline points="182.1,283.3 183.6,283.2 183.0,284.3 185.0,283.7" fill="none" stroke="#2a7f8c" stroke-width="0.8"/>
<polyline points="164.3,275.7 163.0,273.8 164.7,273.3" fill="none" stroke="#4aa8b2" stroke-width="0.8"/>
<polyline points="171.5,275.9 171.2,274.5 169.7,274.1 171.2,274.1 173.5,275.0" fill="none" stroke="#2a7f8c" stroke-width="0.8"/>
<polyline points="179.2,275.5 177.4,276.6 175.4,277.9 175.1,280.3 175.7,281.4" fill="none" stroke="#3558a8" stroke-width="0.8"/>
<polyline points="182.0,271.7 183.2,272.5 183.0,274.9 181.7,274.9 180.3,275.2" fill="none" stroke="#5ab4bc" stroke-width="0.8"/>
<polyline points="179.0,257.0 178.9,259.4 178.9,262.0" fill="none" stroke="#3f96a6" stroke-width="0.8"/>
<polyline points="171.2,268.1 170.9,269.8 172.4,271.6" fill="none" stroke="#2f8a96" stroke-width="0.8"/>
<polyline points="163.7,270.9 163.0,269.4 165.2,270.6 164.4,269.4 166.8,269.1" fill="none" stroke="#3e9aa4" stroke-width="0.8"/>
<polyline points="184.6,260.6 185.0,262.3 182.8,262.7 180.8,261.7 181.7,259.9" fill="none" stroke="#5ab4bc" stroke-width="0.8"/>
<polyline points="161.7,257.6 163.7,258.9 164.2,260.7 163.3,262.5" fill="none" stroke="#5ab4bc" stroke-width="0.8"/>
<polyline points="174.3,282.8 172.9,284.4 172.8,281.9 171.9,284.2 174.4,283.9" fill="none" stroke="#3e9aa4" stroke-width="0.8"/>
<polyline points="168.3,284.0 168.9,282.9 167.1,284.3 167.2,282.3" fill="none" stroke="#3e9aa4" stroke-width="0.8"/>
<polyline points="167.2,268.5 166.5,270.2 167.4,268.3" fill="none" stroke="#2a7f8c" stroke-width="0.8"/>
<polyline points="168.5,283.3 167.7,281.7 168.8,283.7" fill="none" stroke="#5ab4bc" stroke-width="0.8"/>
<polyline points="172.0,257.3 170.4,256.8 171.1,258.5 172.0,260.6 173.8,260.4" fill="none" stroke="#2f8a96" stroke-width="0.8"/>
<polyline points="169.2,267.4 169.0,265.6 167.5,267.6" fill="none" stroke="#3f96a6" stroke-width="0.8"/>
<polyline points="177.4,275.3 177.2,273.9 179.4,273.7 180.1,272.0" fill="none" stroke="#3558a8" stroke-width="0.8"/>
<polyline points="162.2,258.7 161.2,256.8 161.6,256.8 163.5,257.0" fill="none" stroke="#3e9aa4" stroke-width="0.8"/>
<polyline points="172.8,262.3 173.2,260.7 172.6,258.9 174.8,257.6" fill="none" stroke="#5ab4bc" stroke-width="0.8"/>
<polyline points="166.7,283.5 167.1,284.5 167.5,282.6" fill="none" stroke="#2f8a96" stroke-width="0.8"/>
<polyline points="176.9,283.0 178.9,282.1 178.3,283.5 180.2,283.0 181.4,280.7" fill="none" stroke="#2f8a96" stroke-width="0.8"/>
<polyline points="177.7,283.3 179.2,283.7 177.5,283.2 176.7,282.3 178.9,281.1" fill="none" stroke="#3f96a6" stroke-width="0.8"/>
<polyline points="178.0,258.8 178.7,260.1 180.7,260.9" fill="none" stroke="#3e9aa4" stroke-width="0.8"/>
<polyline points="165.8,282.5 166.6,280.4 164.8,279.5 165.4,277.5 166.9,279.3" fill="none" stroke="#4aa8b2" stroke-width="0.8"/>
<polyline points="173.5,283.8 174.3,282.8 173.3,284.5" fill="none" stroke="#5ab4bc" stroke-width="0.8"/>
<polyline points="159.9,261.4 160.7,259.2 161.5,260.3 159.3,259.0" fill="none" stroke="#5ab4bc" stroke-width="0.8"/>
<polyline points="180.8,277.6 181.5,275.8 179.5,275.4" fill="none" stroke="#3558a8" stroke-width="0.8"/>
<polyline points="164.4,258.6 162.5,257.2 162.0,256.8 163.1,256.8 161.4,256.8" fill="none" stroke="#3e9aa4" stroke-width="0.8"/>
<polyline points="176.6,267.3 176.8,266.0 176.8,267.7 178.2,266.5" fill="none" stroke="#3e9aa4" stroke-width="0.8"/>
<polyline points="167.7,272.4 168.1,270.2 169.2,271.8" fill="none" stroke="#3f96a6" stroke-width="0.8"/>
<polyline points="159.8,257.8 161.1,259.9 160.2,261.1" fill="none" stroke="#3f96a6" stroke-width="0.8"/>
<polyline points="179.3,266.2 180.0,263.8 180.4,262.5" fill="none" stroke="#5ab4bc" stroke-width="0.8"/>
<polyline points="176.3,267.2 178.3,267.4 177.5,266.4 180.0,266.9 179.3,268.2" fill="none" stroke="#3558a8" stroke-width="0.8"/>
<polyline points="175.3,283.5 173.6,281.6 174.6,282.9 172.7,282.5" fill="none" stroke="#5ab4bc" stroke-width="0.8"/>
<polyline points="175.5,274.0 174.2,272.6 173.6,271.3 173.3,273.5 173.0,271.2" fill="none" stroke="#4aa8b2" stroke-width="0.8"/>
<polyline points="179.5,272.0 177.3,272.3 178.9,272.9 179.0,271.6" fill="none" stroke="#3e9aa4" stroke-width="0.8"/>
<polyline points="162.0,273.7 163.4,272.7 165.3,271.3" fill="none" stroke="#5ab4bc" stroke-width="0.8"/>
<polyline points="161.4,274.2 161.3,276.7 161.7,278.1 162.6,279.8 164.5,279.6" fill="none" stroke="#4aa8b2" stroke-width="0.8"/>
<polyline points="178.4,277.1 177.4,278.2 175.4,279.2 175.3,276.7" fill="none" stroke="#5ab4bc" stroke-width="0.8"/>
<polyline points="179.6,260.0 180.6,261.1 181.7,259.9" fill="none" stroke="#3e9aa4" stroke-width="0.8"/>
<polyline points="168.2,259.6 167.2,260.8 168.8,259.1 171.0,257.8 171.6,259.7" fill="none" stroke="#2a7f8c" stroke-width="0.8"/>
<polyline points="182.4,277.5 183.7,277.4 182.9,276.2 182.1,275.3" fill="none" stroke="#2a7f8c" stroke-width="0.8"/>
<polyline points="173.1,274.5 173.9,275.4 172.4,277.2" fill="none" stroke="#3f96a6" stroke-width="0.8"/>
<polyline points="170.4,263.2 169.6,261.9 172.0,262.5" fill="none" stroke="#5ab4bc" stroke-width="0.8"/>
<polyline points="164.0,265.3 162.1,264.2 162.7,262.7 161.2,262.5" fill="none" stroke="#5ab4bc" stroke-width="0.8"/>
<polyline points="184.8,268.5 185.0,269.5 184.1,270.2" fill="none" stroke="#2a7f8c" stroke-width="0.8"/>
<polyline points="162.1,277.2 163.1,279.3 163.4,280.8 162.3,279.6" fill="none" stroke="#3e9aa4" stroke-width="0.8"/>
<polyline points="169.8,283.5 170.7,284.5 172.5,284.5 173.1,284.5" fill="none" stroke="#2f8a96" stroke-width="0.8"/>
<polyline points="163.7,257.9 165.5,258.2 164.6,259.8 163.7,258.9 164.7,257.7" fill="none" stroke="#3558a8" stroke-width="0.8"/>
<polyline points="182.5,256.9 183.0,258.1 183.0,259.5" fill="none" stroke="#2f8a96" stroke-width="0.8"/>
<polyline points="177.1,269.0 175.1,269.0 175.6,267.9 177.7,268.5" fill="none" stroke="#2f8a96" stroke-width="0.8"/>
<polyline points="167.3,279.6 168.0,278.6 166.7,279.6 165.6,279.0" fill="none" stroke="#3558a8" stroke-width="0.8"/>
<polyline points="183.2,271.2 184.9,270.4 185.0,269.8 184.0,270.9 183.4,273.3" fill="none" stroke="#3558a8" stroke-width="0.8"/>
<polyline points="167.2,283.8 167.2,282.2 167.2,280.4 166.5,279.4 168.0,280.1" fill="none" stroke="#3f96a6" stroke-width="0.8"/>
<polyline points="173.9,275.9 171.7,274.8 172.5,276.0" fill="none" stroke="#3f96a6" stroke-width="0.8"/>
<polyline points="161.9,259.3 160.9,257.7 163.0,258.8 160.6,258.4 160.9,260.0" fill="none" stroke="#3e9aa4" stroke-width="0.8"/>
<polyline points="172.9,267.4 172.8,264.9 172.7,266.4 171.4,268.4 171.7,267.0" fill="none" stroke="#4aa8b2" stroke-width="0.8"/>
<polyline points="178.2,283.3 179.4,284.5 180.9,284.5 179.4,284.2" fill="none" stroke="#3e9aa4" stroke-width="0.8"/>
<polyline points="182.7,260.9 181.0,259.9 180.7,258.5" fill="none" stroke="#3558a8" stroke-width="0.8"/>
<polyline points="180.5,271.9 180.6,270.1 182.0,271.1 182.6,269.2" fill="none" stroke="#2a7f8c" stroke-width="0.8"/>
<polyline points="167.8,277.8 169.9,277.2 168.7,279.4 170.7,279.6" fill="none" stroke="#2a7f8c" stroke-width="0.8"/>
<polyline points="166.6,280.9 167.0,282.3 169.2,282.8" fill="none" stroke="#3558a8" stroke-width="0.8"/>
<polyline points="184.1,259.0 182.7,258.5 181.0,258.2" fill="none" stroke="#4aa8b2" stroke-width="0.8"/>
<polyline points="174.7,260.0 173.8,261.8 175.1,261.3 174.5,262.7" fill="none" stroke="#4aa8b2" stroke-width="0.8"/>
<polyline points="165.2,273.2 163.3,274.0 161.3,274.0 162.2,275.8 160.3,277.2" fill="none" stroke="#5ab4bc" stroke-width="0.8"/>
<polyline points="178.5,265.3 177.1,266.5 175.1,265.2" fill="none" stroke="#5ab4bc" stroke-width="0.8"/>
<polyline points="178.1,259.2 179.0,258.1 180.0,257.1 178.3,257.3" fill="none" stroke="#4aa8b2" stroke-width="0.8"/>
<polyline points="182.6,272.6 181.7,274.0 181.0,271.9 180.5,270.5 179.0,271.3" fill="none" stroke="#3e9aa4" stroke-width="0.8"/>
<polyline points="162.4,276.3 163.5,277.6 165.7,277.9 164.8,277.0" fill="none" stroke="#3f96a6" stroke-width="0.8"/>
<polyline points="184.9,277.6 184.5,276.4 184.3,277.9" fill="none" stroke="#2f8a96" stroke-width="0.8"/>
<polyline points="162.9,273.2 161.4,274.9 161.6,276.5 162.7,277.5" fill="none" stroke="#3558a8" stroke-width="0.8"/>
<polyline points="169.8,269.7 171.2,268.2 169.6,270.1" fill="none" stroke="#2f8a96" stroke-width="0.8"/>
<polyline points="164.9,275.9 164.2,274.4 165.3,272.4" fill="none" stroke="#3f96a6" stroke-width="0.8"/>
<polyline points="162.0,283.1 160.6,281.2 159.0,281.0 159.0,279.5 159.0,278.8" fill="none" stroke="#5ab4bc" stroke-width="0.8"/>
<polyline points="172.8,283.9 173.9,284.5 173.0,282.3 174.7,282.4" fill="none" stroke="#2f8a96" stroke-width="0.8"/>
<polyline points="170.4,276.5 170.6,277.7 172.4,279.3 173.0,277.3 170.6,276.8" fill="none" stroke="#3e9aa4" stroke-width="0.8"/>
<polyline points="172.0,267.9 171.4,270.0 172.2,268.5 170.4,267.4" fill="none" stroke="#5ab4bc" stroke-width="0.8"/>
<polyline points="168.3,267.3 168.7,268.6 169.3,269.8 167.7,269.8" fill="none" stroke="#3558a8" stroke-width="0.8"/>
<polyline points="179.9,259.6 179.7,261.5 178.2,260.6 177.0,259.7" fill="none" stroke="#4aa8b2" stroke-width="0.8"/>
<polyline points="180.9,257.9 181.0,256.8 178.9,257.5" fill="none" stroke="#2f8a96" stroke-width="0.8"/>
<polyline points="183.4,274.0 184.6,274.4 183.0,274.4 181.1,273.5" fill="none" stroke="#3f96a6" stroke-width="0.8"/>
<polyline points="166.8,259.2 165.8,261.4 164.1,261.5" fill="none" stroke="#2f8a96" stroke-width="0.8"/>
<polyline points="178.1,256.9 178.3,258.8 177.7,259.9 180.0,258.9 180.2,261.0" fill="none" stroke="#5ab4bc" stroke-width="0.8"/>
<polyline points="184.4,275.4 182.6,276.6 181.4,277.0 182.6,276.4" fill="none" stroke="#3e9aa4" stroke-width="0.8"/>
<polyline points="167.6,284.4 167.7,284.5 166.7,284.5 169.0,284.5" fill="none" stroke="#2a7f8c" stroke-width="0.8"/>
<polyline points="174.5,276.7 175.5,275.7 174.2,276.4 175.5,277.0 177.0,277.7" fill="none" stroke="#2a7f8c" stroke-width="0.8"/>
<polyline points="172.2,264.5 172.3,262.9 171.5,264.5 171.7,265.7 171.3,268.1" fill="none" stroke="#2f8a96" stroke-width="0.8"/>
<polyline points="182.0,280.9 182.1,279.6 179.9,279.5 178.5,279.8" fill="none" stroke="#3e9aa4" stroke-width="0.8"/>
<polyline points="159.5,282.5 161.3,280.9 159.9,282.4 159.0,282.8 159.0,284.4" fill="none" stroke="#4aa8b2" stroke-width="0.8"/>
<polyline points="168.1,267.8 168.0,269.1 167.6,271.2" fill="none" stroke="#2f8a96" stroke-width="0.8"/>
<polyline points="177.8,261.1 177.8,259.3 177.6,257.6 176.0,257.5 175.1,256.8" fill="none" stroke="#2f8a96" stroke-width="0.8"/>
<polyline points="178.6,261.8 177.2,261.9 176.1,264.3 177.5,262.2" fill="none" stroke="#5ab4bc" stroke-width="0.8"/>
<polyline points="184.5,268.6 184.3,266.7 182.7,268.7 181.4,268.7 182.0,267.5" fill="none" stroke="#4aa8b2" stroke-width="0.8"/>
<polyline points="184.1,282.8 182.4,283.3 180.3,282.9" fill="none" stroke="#3f96a6" stroke-width="0.8"/>
<polyline points="173.1,261.4 174.2,260.6 176.4,260.8" fill="none" stroke="#5ab4bc" stroke-width="0.8"/>
<polyline points="180.1,261.1 180.4,259.6 181.1,258.2 182.8,257.5 182.0,256.8" fill="none" stroke="#3f96a6" stroke-width="0.8"/>
<polyline points="181.8,258.5 183.0,259.6 183.1,258.2" fill="none" stroke="#4aa8b2" stroke-width="0.8"/>
<polyline points="173.2,266.5 172.7,268.1 173.6,269.5 175.0,271.0 176.5,271.2" fill="none" stroke="#3558a8" stroke-width="0.8"/>
<polyline points="167.8,260.0 167.6,257.7 166.3,256.8 166.4,256.8" fill="none" stroke="#4aa8b2" stroke-width="0.8"/>
<polyline points="168.5,276.6 166.5,276.5 167.0,277.7" fill="none" stroke="#2f8a96" stroke-width="0.8"/>
<polyline points="164.3,259.5 162.6,257.9 160.6,257.5 159.4,258.1" fill="none" stroke="#3f96a6" stroke-width="0.8"/>
<polyline points="178.0,275.9 177.2,277.9 176.8,276.5 175.5,277.7" fill="none" stroke="#5ab4bc" stroke-width="0.8"/>
<polyline points="159.3,276.2 159.0,278.0 159.6,279.3 160.1,277.3 159.0,277.5" fill="none" stroke="#2f8a96" stroke-width="0.8"/>
<polyline points="161.0,268.8 159.0,269.7 159.0,269.8" fill="none" stroke="#4aa8b2" stroke-width="0.8"/>
<polyline points="166.9,259.2 167.4,258.0 166.9,256.8 164.8,256.8 164.4,256.8" fill="none" stroke="#3f96a6" stroke-width="0.8"/>
<polyline points="184.3,265.7 185.0,263.8 184.4,264.9 183.8,262.7" fill="none" stroke="#2f8a96" stroke-width="0.8"/>
<polyline points="160.9,280.2 159.0,279.2 159.0,278.0" fill="none" stroke="#3e9aa4" stroke-width="0.8"/>
<polyline points="162.9,278.3 164.6,279.8 164.8,278.4" fill="none" stroke="#2f8a96" stroke-width="0.8"/>
<polyline points="164.1,275.5 166.6,276.0 168.8,276.3 169.4,274.7 170.0,273.3" fill="none" stroke="#3558a8" stroke-width="0.8"/>
<polyline points="180.8,274.7 181.4,272.5 182.4,271.3 183.8,271.6 183.8,269.7" fill="none" stroke="#2a7f8c" stroke-width="0.8"/>
<polyline points="173.1,268.6 174.9,267.7 173.3,266.8 174.7,265.6" fill="none" stroke="#5ab4bc" stroke-width="0.8"/>
<polyline points="171.8,264.8 172.7,263.0 172.0,264.2 170.4,264.0" fill="none" stroke="#2f8a96" stroke-width="0.8"/>
<polyline points="180.4,276.5 182.3,275.2 180.2,276.6 180.3,278.1" fill="none" stroke="#2a7f8c" stroke-width="0.8"/>
<polyline points="159.1,280.1 159.0,278.9 159.0,278.1" fill="none" stroke="#5ab4bc" stroke-width="0.8"/>
<polyline points="184.0,280.6 183.2,281.7 185.0,281.5 185.0,281.6" fill="none" stroke="#3558a8" stroke-width="0.8"/>
<polyline points="184.8,262.4 185.0,263.3 185.0,262.8" fill="none" stroke="#4aa8b2" stroke-width="0.8"/>
<polyline points="184.0,257.2 182.4,257.2 180.9,256.9 179.8,256.8 178.4,256.8" fill="none" stroke="#2f8a96" stroke-width="0.8"/>
<circle cx="161.7" cy="273.2" r="0.55" fill="#d04040"/>
<circle cx="181.4" cy="284.4" r="0.55" fill="#2040c0"/>
<circle cx="179.2" cy="279.8" r="0.55" fill="#203890"/>
<circle cx="171.3" cy="274.2" r="0.55" fill="#2040c0"/>
<circle cx="181.5" cy="259.5" r="0.55" fill="#d04040"/>
<circle cx="164.7" cy="270.3" r="0.55" fill="#203890"/>
<circle cx="179.1" cy="275.1" r="0.55" fill="#2030b0"/>
<circle cx="182.5" cy="282.8" r="0.55" fill="#d04040"/>
<circle cx="162.3" cy="262.2" r="0.55" fill="#d04040"/>
<circle cx="176.8" cy="267.9" r="0.55" fill="#2040c0"/>
<circle cx="172.1" cy="276.0" r="0.55" fill="#203890"/>
<circle cx="178.3" cy="268.9" r="0.55" fill="#d04040"/>
<circle cx="180.4" cy="283.7" r="0.55" fill="#203890"/>
<circle cx="177.0" cy="266.4" r="0.55" fill="#203890"/>
<circle cx="164.0" cy="283.4" r="0.55" fill="#d04040"/>
<circle cx="162.3" cy="266.2" r="0.55" fill="#203890"/>
<circle cx="159.4" cy="269.6" r="0.55" fill="#203890"/>
<circle cx="167.7" cy="276.2" r="0.55" fill="#203890"/>
<circle cx="183.0" cy="283.0" r="0.55" fill="#2030b0"/>
<circle cx="174.2" cy="276.7" r="0.55" fill="#203890"/>
<circle cx="170.1" cy="271.4" r="0.55" fill="#203890"/>
<circle cx="174.4" cy="266.8" r="0.55" fill="#203890"/>
<circle cx="171.0" cy="269.2" r="0.55" fill="#203890"/>
<circle cx="167.4" cy="258.6" r="0.55" fill="#2030b0"/>
<circle cx="170.4" cy="274.4" r="0.55" fill="#d04040"/>
<circle cx="168.7" cy="283.6" r="0.55" fill="#203890"/>
<circle cx="182.1" cy="258.9" r="0.55" fill="#203890"/>
<circle cx="175.9" cy="283.3" r="0.55" fill="#d04040"/>
<circle cx="161.1" cy="256.9" r="0.55" fill="#2040c0"/>
<circle cx="165.5" cy="271.3" r="0.55" fill="#d04040"/>
<circle cx="184.7" cy="271.3" r="0.55" fill="#2040c0"/>
<circle cx="171.8" cy="257.6" r="0.55" fill="#2030b0"/>
<circle cx="170.1" cy="259.4" r="0.55" fill="#2030b0"/>
<circle cx="169.1" cy="280.2" r="0.55" fill="#2040c0"/>
<circle cx="170.8" cy="268.6" r="0.55" fill="#203890"/>
<circle cx="184.7" cy="262.3" r="0.55" fill="#d04040"/>
<circle cx="168.7" cy="270.1" r="0.55" fill="#2030b0"/>
<circle cx="163.0" cy="259.7" r="0.55" fill="#2030b0"/>
<circle cx="173.5" cy="258.4" r="0.55" fill="#d04040"/>
<circle cx="165.5" cy="263.8" r="0.55" fill="#d04040"/>
<circle cx="170.3" cy="271.1" r="0.55" fill="#2040c0"/>
<circle cx="181.1" cy="257.2" r="0.55" fill="#203890"/>
<circle cx="183.2" cy="267.8" r="0.55" fill="#203890"/>
<circle cx="179.7" cy="258.3" r="0.55" fill="#2040c0"/>
<circle cx="180.6" cy="265.8" r="0.55" fill="#2040c0"/>
<circle cx="159.4" cy="270.6" r="0.55" fill="#2040c0"/>
<circle cx="165.4" cy="283.3" r="0.55" fill="#2030b0"/>
<circle cx="159.1" cy="283.3" r="0.55" fill="#d04040"/>
<circle cx="184.8" cy="268.0" r="0.55" fill="#2030b0"/>
<circle cx="174.0" cy="274.2" r="0.55" fill="#2040c0"/>
<circle cx="167.1" cy="275.6" r="0.55" fill="#2030b0"/>
<circle cx="178.3" cy="282.6" r="0.55" fill="#2040c0"/>
<circle cx="164.9" cy="282.0" r="0.55" fill="#2040c0"/>
<circle cx="159.1" cy="261.0" r="0.55" fill="#d04040"/>
<circle cx="168.7" cy="270.5" r="0.55" fill="#203890"/>
<circle cx="184.5" cy="281.8" r="0.55" fill="#203890"/>
<circle cx="172.2" cy="257.0" r="0.55" fill="#203890"/>
<circle cx="162.7" cy="273.9" r="0.55" fill="#d04040"/>
<circle cx="168.3" cy="268.6" r="0.55" fill="#203890"/>
<circle cx="164.8" cy="273.0" r="0.55" fill="#d04040"/>
<circle cx="172.3" cy="259.4" r="0.55" fill="#203890"/>
<circle cx="166.0" cy="278.3" r="0.55" fill="#2040c0"/>
<circle cx="184.8" cy="282.6" r="0.55" fill="#2030b0"/>
<rect x="72.80" y="254.20" width="85.80" height="31.80" rx="3.5" fill="url(#wd)"/>
<rect x="73.60" y="255.00" width="84.20" height="30.20" rx="3.5" fill="none" stroke="#a4a4ec" stroke-width="1.2"/>
<rect x="72.80" y="254.20" width="85.80" height="31.80" rx="3.5" fill="none" stroke="#3a3a78" stroke-width="0.7" filter="url(#bl)"/>
<rect x="71.40" y="256.40" width="5.30" height="27.60" fill="#157c78" />
<circle cx="73.1" cy="257.0" r="0.55" fill="#45b8ac"/>
<circle cx="73.6" cy="258.3" r="0.55" fill="#45b8ac"/>
<circle cx="74.5" cy="259.6" r="0.55" fill="#45b8ac"/>
<circle cx="72.2" cy="260.5" r="0.55" fill="#45b8ac"/>
<circle cx="73.2" cy="262.0" r="0.55" fill="#45b8ac"/>
<circle cx="75.9" cy="263.1" r="0.55" fill="#45b8ac"/>
<circle cx="75.3" cy="264.3" r="0.55" fill="#45b8ac"/>
<circle cx="74.6" cy="265.6" r="0.55" fill="#45b8ac"/>
<circle cx="74.5" cy="266.6" r="0.55" fill="#45b8ac"/>
<circle cx="74.1" cy="268.1" r="0.55" fill="#45b8ac"/>
<circle cx="74.7" cy="269.5" r="0.55" fill="#45b8ac"/>
<circle cx="75.0" cy="270.4" r="0.55" fill="#45b8ac"/>
<circle cx="73.3" cy="271.8" r="0.55" fill="#45b8ac"/>
<circle cx="75.4" cy="272.7" r="0.55" fill="#45b8ac"/>
<circle cx="74.9" cy="273.9" r="0.55" fill="#45b8ac"/>
<circle cx="74.8" cy="275.4" r="0.55" fill="#45b8ac"/>
<circle cx="73.7" cy="277.0" r="0.55" fill="#45b8ac"/>
<circle cx="73.8" cy="278.4" r="0.55" fill="#45b8ac"/>
<circle cx="75.5" cy="280.0" r="0.55" fill="#45b8ac"/>
<circle cx="72.7" cy="280.9" r="0.55" fill="#45b8ac"/>
<circle cx="75.8" cy="282.0" r="0.55" fill="#45b8ac"/>
<circle cx="74.5" cy="283.2" r="0.55" fill="#45b8ac"/>
<circle cx="88.19" cy="258.42" r="0.8" fill="#d83010"/>
<circle cx="89.74" cy="258.29" r="0.8" fill="#d83010"/>
<circle cx="89.07" cy="259.70" r="0.8" fill="#d83010"/>
<circle cx="89.00" cy="258.80" r="0.75" fill="#f4c828"/>
<circle cx="84.29" cy="261.64" r="0.8" fill="#d83010"/>
<circle cx="85.78" cy="262.11" r="0.8" fill="#d83010"/>
<circle cx="84.63" cy="263.16" r="0.8" fill="#d83010"/>
<circle cx="84.90" cy="262.30" r="0.75" fill="#f4c828"/>
<circle cx="78.87" cy="263.88" r="0.8" fill="#d83010"/>
<circle cx="79.03" cy="265.43" r="0.8" fill="#d83010"/>
<circle cx="77.60" cy="264.79" r="0.8" fill="#d83010"/>
<circle cx="78.50" cy="264.70" r="0.75" fill="#f4c828"/>
<circle cx="80.65" cy="270.59" r="0.8" fill="#d83010"/>
<circle cx="80.11" cy="269.12" r="0.8" fill="#d83010"/>
<circle cx="81.64" cy="269.39" r="0.8" fill="#d83010"/>
<circle cx="80.80" cy="269.70" r="0.75" fill="#f4c828"/>
<circle cx="83.28" cy="270.37" r="0.8" fill="#d83010"/>
<circle cx="84.70" cy="271.02" r="0.8" fill="#d83010"/>
<circle cx="83.42" cy="271.92" r="0.8" fill="#d83010"/>
<circle cx="83.80" cy="271.10" r="0.75" fill="#f4c828"/>
<circle cx="90.30" cy="271.13" r="0.8" fill="#d83010"/>
<circle cx="89.75" cy="272.59" r="0.8" fill="#d83010"/>
<circle cx="88.76" cy="271.38" r="0.8" fill="#d83010"/>
<circle cx="89.60" cy="271.70" r="0.75" fill="#f4c828"/>
<circle cx="99.16" cy="261.01" r="0.8" fill="#d83010"/>
<circle cx="98.44" cy="262.40" r="0.8" fill="#d83010"/>
<circle cx="97.60" cy="261.09" r="0.8" fill="#d83010"/>
<circle cx="98.40" cy="261.50" r="0.75" fill="#f4c828"/>
<circle cx="101.15" cy="261.93" r="0.8" fill="#d83010"/>
<circle cx="99.91" cy="260.99" r="0.8" fill="#d83010"/>
<circle cx="101.34" cy="260.38" r="0.8" fill="#d83010"/>
<circle cx="100.80" cy="261.10" r="0.75" fill="#f4c828"/>
<circle cx="99.68" cy="263.37" r="0.8" fill="#d83010"/>
<circle cx="101.10" cy="264.02" r="0.8" fill="#d83010"/>
<circle cx="99.83" cy="264.92" r="0.8" fill="#d83010"/>
<circle cx="100.20" cy="264.10" r="0.75" fill="#f4c828"/>
<circle cx="107.13" cy="257.60" r="0.8" fill="#d83010"/>
<circle cx="108.66" cy="257.92" r="0.8" fill="#d83010"/>
<circle cx="107.61" cy="259.08" r="0.8" fill="#d83010"/>
<circle cx="107.80" cy="258.20" r="0.75" fill="#f4c828"/>
<circle cx="106.50" cy="267.58" r="0.8" fill="#d83010"/>
<circle cx="107.87" cy="266.83" r="0.8" fill="#d83010"/>
<circle cx="107.83" cy="268.39" r="0.8" fill="#d83010"/>
<circle cx="107.40" cy="267.60" r="0.75" fill="#f4c828"/>
<circle cx="118.68" cy="264.11" r="0.8" fill="#d83010"/>
<circle cx="117.52" cy="265.16" r="0.8" fill="#d83010"/>
<circle cx="117.20" cy="263.63" r="0.8" fill="#d83010"/>
<circle cx="117.80" cy="264.30" r="0.75" fill="#f4c828"/>
<circle cx="118.61" cy="271.84" r="0.8" fill="#d83010"/>
<circle cx="120.08" cy="271.31" r="0.8" fill="#d83010"/>
<circle cx="119.81" cy="272.85" r="0.8" fill="#d83010"/>
<circle cx="119.50" cy="272.00" r="0.75" fill="#f4c828"/>
<circle cx="117.15" cy="276.10" r="0.8" fill="#d83010"/>
<circle cx="118.16" cy="274.91" r="0.8" fill="#d83010"/>
<circle cx="118.69" cy="276.38" r="0.8" fill="#d83010"/>
<circle cx="118.00" cy="275.80" r="0.75" fill="#f4c828"/>
<circle cx="98.04" cy="278.99" r="0.8" fill="#d83010"/>
<circle cx="97.05" cy="280.19" r="0.8" fill="#d83010"/>
<circle cx="96.51" cy="278.73" r="0.8" fill="#d83010"/>
<circle cx="97.20" cy="279.30" r="0.75" fill="#f4c828"/>
<circle cx="100.21" cy="280.72" r="0.8" fill="#d83010"/>
<circle cx="101.68" cy="281.23" r="0.8" fill="#d83010"/>
<circle cx="100.51" cy="282.25" r="0.8" fill="#d83010"/>
<circle cx="100.80" cy="281.40" r="0.75" fill="#f4c828"/>
<circle cx="86.41" cy="282.55" r="0.8" fill="#d83010"/>
<circle cx="86.10" cy="281.03" r="0.8" fill="#d83010"/>
<circle cx="87.58" cy="281.52" r="0.8" fill="#d83010"/>
<circle cx="86.70" cy="281.70" r="0.75" fill="#f4c828"/>
<circle cx="116.97" cy="264.94" r="0.8" fill="#d83010"/>
<circle cx="116.74" cy="263.40" r="0.8" fill="#d83010"/>
<circle cx="118.19" cy="263.96" r="0.8" fill="#d83010"/>
<circle cx="117.30" cy="264.10" r="0.75" fill="#f4c828"/>
<circle cx="129.10" cy="260.02" r="0.8" fill="#d83010"/>
<circle cx="130.43" cy="259.21" r="0.8" fill="#d83010"/>
<circle cx="130.47" cy="260.77" r="0.8" fill="#d83010"/>
<circle cx="130.00" cy="260.00" r="0.75" fill="#f4c828"/>
<circle cx="142.55" cy="259.69" r="0.8" fill="#d83010"/>
<circle cx="141.02" cy="259.99" r="0.8" fill="#d83010"/>
<circle cx="141.53" cy="258.52" r="0.8" fill="#d83010"/>
<circle cx="141.70" cy="259.40" r="0.75" fill="#f4c828"/>
<circle cx="151.60" cy="265.64" r="0.8" fill="#d83010"/>
<circle cx="153.14" cy="265.87" r="0.8" fill="#d83010"/>
<circle cx="152.16" cy="267.09" r="0.8" fill="#d83010"/>
<circle cx="152.30" cy="266.20" r="0.75" fill="#f4c828"/>
<circle cx="127.62" cy="277.50" r="0.8" fill="#d83010"/>
<circle cx="128.52" cy="278.78" r="0.8" fill="#d83010"/>
<circle cx="126.96" cy="278.92" r="0.8" fill="#d83010"/>
<circle cx="127.70" cy="278.40" r="0.75" fill="#f4c828"/>
<circle cx="129.40" cy="281.10" r="0.8" fill="#d83010"/>
<circle cx="130.25" cy="279.80" r="0.8" fill="#d83010"/>
<circle cx="130.95" cy="281.20" r="0.8" fill="#d83010"/>
<circle cx="130.20" cy="280.70" r="0.75" fill="#f4c828"/>
<circle cx="146.91" cy="274.46" r="0.8" fill="#d83010"/>
<circle cx="146.78" cy="276.01" r="0.8" fill="#d83010"/>
<circle cx="145.50" cy="275.13" r="0.8" fill="#d83010"/>
<circle cx="146.40" cy="275.20" r="0.75" fill="#f4c828"/>
<rect x="70.6" y="291.6" width="140.20" height="28.50" fill="none" stroke="#6464e6" stroke-width="0.75"/>
<rect x="70.20" y="289.50" width="11.30" height="33.30" rx="2.5" fill="url(#wd)"/>
<rect x="71.00" y="290.30" width="9.70" height="31.70" rx="2.5" fill="none" stroke="#a4a4ec" stroke-width="1.2"/>
<rect x="70.20" y="289.50" width="11.30" height="33.30" rx="2.5" fill="none" stroke="#3a3a78" stroke-width="0.7" filter="url(#bl)"/>
<path d="M144.5,296.9 C139,296.9 136,300.8 136,306.3 C136,311.8 139,315.8 144.5,315.8 Z" fill="#fff" stroke="#6a6ac8" stroke-width="0.9"/>
<rect x="143.90" y="289.50" width="68.00" height="33.50" rx="3.5" fill="url(#wd)"/>
<rect x="144.70" y="290.30" width="66.40" height="31.90" rx="3.5" fill="none" stroke="#a4a4ec" stroke-width="1.2"/>
<rect x="143.90" y="289.50" width="68.00" height="33.50" rx="3.5" fill="none" stroke="#3a3a78" stroke-width="0.7" filter="url(#bl)"/>
<polyline points="176.7,315.1 177.0,316.5 178.1,318.4" fill="none" stroke="#3f96a6" stroke-width="0.8"/>
<polyline points="178.0,296.3 177.5,298.8 179.3,298.9 178.9,296.9 180.4,297.1" fill="none" stroke="#2a7f8c" stroke-width="0.8"/>
<polyline points="177.5,304.3 174.9,304.3 174.3,302.9 172.6,301.5" fill="none" stroke="#4aa8b2" stroke-width="0.8"/>
<polyline points="159.3,309.9 161.3,308.4 160.3,310.6 161.5,311.2 160.3,309.2" fill="none" stroke="#3558a8" stroke-width="0.8"/>
<polyline points="180.4,305.6 180.2,307.8 181.4,307.2 180.0,307.2" fill="none" stroke="#3e9aa4" stroke-width="0.8"/>
<polyline points="166.2,297.6 167.5,297.4 164.9,297.3 165.1,295.4 165.2,297.4" fill="none" stroke="#4aa8b2" stroke-width="0.8"/>
<polyline points="165.9,307.0 164.1,308.5 162.5,309.5" fill="none" stroke="#3558a8" stroke-width="0.8"/>
<polyline points="166.2,313.3 164.6,312.5 165.7,311.4 164.8,312.4 163.2,312.9" fill="none" stroke="#2a7f8c" stroke-width="0.8"/>
<polyline points="178.8,294.6 181.0,294.5 181.7,292.7" fill="none" stroke="#5ab4bc" stroke-width="0.8"/>
<polyline points="171.6,315.4 171.3,317.1 172.6,318.9" fill="none" stroke="#2f8a96" stroke-width="0.8"/>
<polyline points="179.1,309.7 181.2,308.4 183.3,308.6" fill="none" stroke="#2a7f8c" stroke-width="0.8"/>
<polyline points="174.6,316.9 172.5,317.6 170.9,319.3 173.3,319.4" fill="none" stroke="#2a7f8c" stroke-width="0.8"/>
<polyline points="169.9,294.1 171.0,292.5 172.2,292.2" fill="none" stroke="#2a7f8c" stroke-width="0.8"/>
<polyline points="161.0,314.7 161.5,313.6 163.3,312.8" fill="none" stroke="#3f96a6" stroke-width="0.8"/>
<polyline points="170.6,297.2 171.0,295.9 171.6,297.2 170.3,297.1" fill="none" stroke="#3558a8" stroke-width="0.8"/>
<polyline points="171.6,306.4 171.5,308.6 169.5,309.2 167.3,310.5" fill="none" stroke="#3558a8" stroke-width="0.8"/>
<polyline points="177.5,296.4 178.0,297.7 179.7,299.6" fill="none" stroke="#4aa8b2" stroke-width="0.8"/>
<polyline points="183.5,315.4 182.3,314.3 181.5,316.4 179.6,314.8 179.7,316.4" fill="none" stroke="#2f8a96" stroke-width="0.8"/>
<polyline points="162.4,302.5 160.7,301.8 159.5,303.7 159.0,302.3 160.3,302.8" fill="none" stroke="#3558a8" stroke-width="0.8"/>
<polyline points="162.5,314.7 162.6,316.3 161.7,314.3" fill="none" stroke="#3e9aa4" stroke-width="0.8"/>
<polyline points="181.7,299.4 183.5,298.7 184.6,298.2 183.3,296.7" fill="none" stroke="#3e9aa4" stroke-width="0.8"/>
<polyline points="167.3,298.4 166.2,299.3 164.7,301.1 162.3,301.9 160.6,302.2" fill="none" stroke="#2f8a96" stroke-width="0.8"/>
<polyline points="160.3,306.4 159.0,304.9 160.9,305.8 163.3,305.5" fill="none" stroke="#3558a8" stroke-width="0.8"/>
<polyline points="176.0,298.0 178.0,297.4 176.5,297.2" fill="none" stroke="#4aa8b2" stroke-width="0.8"/>
<polyline points="174.0,311.5 173.6,313.9 173.0,316.2" fill="none" stroke="#4aa8b2" stroke-width="0.8"/>
<polyline points="180.4,296.1 182.8,296.3 182.9,298.8 183.0,301.1 184.6,300.4" fill="none" stroke="#3e9aa4" stroke-width="0.8"/>
<polyline points="182.1,312.1 181.3,313.2 180.5,312.2 179.4,311.1 177.6,309.7" fill="none" stroke="#5ab4bc" stroke-width="0.8"/>
<polyline points="162.8,297.0 163.1,299.2 165.6,298.6 163.8,297.9" fill="none" stroke="#4aa8b2" stroke-width="0.8"/>
<polyline points="165.7,305.0 166.2,302.9 167.7,302.7 168.7,300.6 171.0,299.8" fill="none" stroke="#3e9aa4" stroke-width="0.8"/>
<polyline points="172.5,306.0 172.5,304.4 174.1,303.6 173.0,302.4 173.4,303.5" fill="none" stroke="#5ab4bc" stroke-width="0.8"/>
<polyline points="180.8,313.3 182.9,313.9 182.0,315.2 184.0,314.6 184.6,315.9" fill="none" stroke="#3558a8" stroke-width="0.8"/>
<polyline points="174.3,318.3 174.7,319.5 175.9,318.1 173.7,318.1 171.9,316.7" fill="none" stroke="#5ab4bc" stroke-width="0.8"/>
<polyline points="160.5,295.2 162.0,296.8 162.4,295.5" fill="none" stroke="#2f8a96" stroke-width="0.8"/>
<polyline points="167.0,309.3 165.5,309.0 166.5,310.2 168.6,311.2" fill="none" stroke="#3558a8" stroke-width="0.8"/>
<polyline points="169.1,300.5 168.5,301.6 170.0,299.6 172.3,298.8 170.8,297.6" fill="none" stroke="#2f8a96" stroke-width="0.8"/>
<polyline points="177.8,294.8 179.5,294.6 177.1,294.3 176.7,296.4" fill="none" stroke="#5ab4bc" stroke-width="0.8"/>
<polyline points="173.8,302.9 176.0,301.6 176.6,300.4" fill="none" stroke="#2a7f8c" stroke-width="0.8"/>
<polyline points="157.5,312.9 159.8,313.1 160.1,311.0" fill="none" stroke="#3558a8" stroke-width="0.8"/>
<polyline points="184.4,309.4 184.6,309.4 184.6,310.9" fill="none" stroke="#2a7f8c" stroke-width="0.8"/>
<polyline points="162.0,316.4 162.2,314.9 160.9,313.1 160.1,314.5 160.8,312.6" fill="none" stroke="#5ab4bc" stroke-width="0.8"/>
<polyline points="166.9,301.4 166.0,299.6 168.3,299.1" fill="none" stroke="#3f96a6" stroke-width="0.8"/>
<polyline points="163.6,303.7 165.4,302.8 163.8,303.6 166.1,304.3" fill="none" stroke="#3e9aa4" stroke-width="0.8"/>
<polyline points="167.6,318.1 168.5,319.5 169.4,318.1" fill="none" stroke="#3558a8" stroke-width="0.8"/>
<polyline points="174.6,292.9 175.4,294.4 176.6,295.1 174.8,294.4 176.8,293.9" fill="none" stroke="#3f96a6" stroke-width="0.8"/>
<polyline points="163.5,311.9 162.1,311.3 160.7,311.8 158.2,312.1 157.5,310.8" fill="none" stroke="#5ab4bc" stroke-width="0.8"/>
<polyline points="181.2,303.2 183.7,304.1 184.6,305.2" fill="none" stroke="#3558a8" stroke-width="0.8"/>
<polyline points="168.2,296.7 169.5,297.7 171.9,296.9 170.9,299.0" fill="none" stroke="#4aa8b2" stroke-width="0.8"/>
<polyline points="158.9,304.6 157.3,305.3 157.3,307.6 159.7,306.9" fill="none" stroke="#3558a8" stroke-width="0.8"/>
<polyline points="165.4,302.8 166.1,301.2 167.3,302.1 168.9,302.4" fill="none" stroke="#3e9aa4" stroke-width="0.8"/>
<polyline points="160.2,296.4 161.1,297.3 161.7,299.1" fill="none" stroke="#2f8a96" stroke-width="0.8"/>
<polyline points="181.8,298.5 180.9,296.4 179.7,297.2 179.5,298.7 179.2,297.4" fill="none" stroke="#3e9aa4" stroke-width="0.8"/>
<polyline points="174.9,299.9 172.8,300.4 173.3,299.1" fill="none" stroke="#4aa8b2" stroke-width="0.8"/>
<polyline points="164.5,301.2 163.6,303.4 165.5,302.7 164.4,303.5" fill="none" stroke="#3558a8" stroke-width="0.8"/>
<polyline points="157.6,311.4 157.4,309.2 158.4,311.6" fill="none" stroke="#3f96a6" stroke-width="0.8"/>
<polyline points="181.8,294.7 182.1,293.6 181.2,292.8 181.6,292.2 180.1,292.2" fill="none" stroke="#3558a8" stroke-width="0.8"/>
<polyline points="173.3,297.4 175.4,297.5 176.5,298.0" fill="none" stroke="#3558a8" stroke-width="0.8"/>
<polyline points="183.7,295.2 184.6,293.1 184.6,294.0" fill="none" stroke="#2f8a96" stroke-width="0.8"/>
<polyline points="158.8,301.3 158.5,299.9 160.1,299.1 160.4,297.6" fill="none" stroke="#4aa8b2" stroke-width="0.8"/>
<polyline points="167.9,300.2 167.0,298.7 164.8,299.4 163.4,300.7" fill="none" stroke="#2a7f8c" stroke-width="0.8"/>
<polyline points="182.5,295.8 180.0,296.3 178.6,295.5 179.8,297.3" fill="none" stroke="#2f8a96" stroke-width="0.8"/>
<polyline points="176.4,300.2 178.6,299.5 176.6,300.3" fill="none" stroke="#3e9aa4" stroke-width="0.8"/>
<polyline points="173.3,294.7 174.9,295.7 173.6,294.5 174.4,295.5" fill="none" stroke="#4aa8b2" stroke-width="0.8"/>
<polyline points="172.3,316.6 174.3,317.5 176.2,317.0 177.2,318.8" fill="none" stroke="#2a7f8c" stroke-width="0.8"/>
<polyline points="163.0,299.3 161.0,298.4 161.6,300.8 162.0,299.4" fill="none" stroke="#3558a8" stroke-width="0.8"/>
<polyline points="175.9,306.9 177.4,305.4 179.4,305.8 180.3,303.9 178.3,303.8" fill="none" stroke="#4aa8b2" stroke-width="0.8"/>
<polyline points="175.9,305.1 174.7,303.3 174.5,305.8 173.3,304.3" fill="none" stroke="#3e9aa4" stroke-width="0.8"/>
<polyline points="163.8,300.4 162.3,299.9 162.3,298.1 163.1,300.1 163.9,298.6" fill="none" stroke="#2f8a96" stroke-width="0.8"/>
<polyline points="160.3,308.4 158.9,307.7 160.4,309.7 159.6,307.3" fill="none" stroke="#4aa8b2" stroke-width="0.8"/>
<polyline points="184.1,306.6 184.6,307.9 183.3,309.7" fill="none" stroke="#2a7f8c" stroke-width="0.8"/>
<polyline points="160.6,304.5 161.8,303.1 162.0,301.8 161.1,304.0 159.8,304.1" fill="none" stroke="#3e9aa4" stroke-width="0.8"/>
<polyline points="165.3,318.7 167.8,318.6 165.8,317.4 164.4,319.2 166.1,319.5" fill="none" stroke="#2f8a96" stroke-width="0.8"/>
<polyline points="160.8,296.2 159.9,295.3 161.2,293.2 162.9,292.7" fill="none" stroke="#3e9aa4" stroke-width="0.8"/>
<polyline points="182.9,303.1 184.6,303.6 182.9,302.1" fill="none" stroke="#5ab4bc" stroke-width="0.8"/>
<polyline points="170.3,296.0 171.6,296.4 170.1,297.3 171.8,296.4" fill="none" stroke="#3558a8" stroke-width="0.8"/>
<polyline points="160.8,312.5 162.2,310.5 161.5,308.7" fill="none" stroke="#3558a8" stroke-width="0.8"/>
<polyline points="181.2,311.0 182.6,308.9 182.3,310.1" fill="none" stroke="#2a7f8c" stroke-width="0.8"/>
<polyline points="176.5,319.1 178.4,318.1 180.2,318.6 181.4,316.8 182.7,315.9" fill="none" stroke="#5ab4bc" stroke-width="0.8"/>
<polyline points="161.9,292.7 160.5,292.2 160.4,294.3 159.1,293.3" fill="none" stroke="#3558a8" stroke-width="0.8"/>
<polyline points="170.7,316.6 171.4,318.2 172.5,319.2 173.8,319.5" fill="none" stroke="#3f96a6" stroke-width="0.8"/>
<polyline points="173.5,305.9 171.9,306.0 171.0,304.4 171.5,305.9" fill="none" stroke="#5ab4bc" stroke-width="0.8"/>
<polyline points="169.2,297.8 170.5,299.7 171.2,300.7" fill="none" stroke="#3558a8" stroke-width="0.8"/>
<polyline points="172.5,319.4 173.8,318.5 172.0,319.5 172.9,317.1" fill="none" stroke="#4aa8b2" stroke-width="0.8"/>
<polyline points="172.3,307.4 171.9,305.8 174.0,304.8" fill="none" stroke="#2f8a96" stroke-width="0.8"/>
<polyline points="177.5,299.4 178.2,297.4 180.3,298.5 180.2,300.0" fill="none" stroke="#3f96a6" stroke-width="0.8"/>
<polyline points="178.6,311.9 179.3,310.8 180.6,311.2 182.1,311.9" fill="none" stroke="#4aa8b2" stroke-width="0.8"/>
<polyline points="159.6,297.3 160.3,295.7 158.2,295.7 160.5,295.5" fill="none" stroke="#3e9aa4" stroke-width="0.8"/>
<polyline points="157.7,311.7 159.7,310.3 157.3,310.8" fill="none" stroke="#3558a8" stroke-width="0.8"/>
<polyline points="157.8,306.5 158.5,305.2 159.3,303.7 160.9,302.8" fill="none" stroke="#4aa8b2" stroke-width="0.8"/>
<polyline points="170.0,307.7 171.3,306.4 170.1,308.7" fill="none" stroke="#3558a8" stroke-width="0.8"/>
<polyline points="172.9,299.4 171.9,300.1 169.9,299.2 170.0,297.1" fill="none" stroke="#2a7f8c" stroke-width="0.8"/>
<polyline points="177.0,294.4 178.4,294.3 179.2,295.2 177.7,296.9" fill="none" stroke="#4aa8b2" stroke-width="0.8"/>
<polyline points="163.4,296.8 165.6,296.2 166.9,297.8 164.6,298.1 165.3,299.4" fill="none" stroke="#3558a8" stroke-width="0.8"/>
<polyline points="175.7,317.1 177.3,317.2 174.9,316.4 173.6,316.9" fill="none" stroke="#5ab4bc" stroke-width="0.8"/>
<polyline points="177.6,311.1 175.2,310.7 174.2,312.1" fill="none" stroke="#3f96a6" stroke-width="0.8"/>
<polyline points="180.2,313.3 179.3,315.4 178.2,317.7 177.2,315.4 177.2,317.4" fill="none" stroke="#3558a8" stroke-width="0.8"/>
<polyline points="172.0,298.9 170.8,299.5 171.2,298.0" fill="none" stroke="#4aa8b2" stroke-width="0.8"/>
<polyline points="175.3,311.2 175.7,312.3 173.9,314.2 173.1,311.9" fill="none" stroke="#3558a8" stroke-width="0.8"/>
<polyline points="173.8,302.6 173.2,303.7 173.7,302.4 172.3,302.9" fill="none" stroke="#3e9aa4" stroke-width="0.8"/>
<polyline points="169.2,317.9 168.5,319.2 166.4,319.5" fill="none" stroke="#2a7f8c" stroke-width="0.8"/>
<polyline points="160.5,312.1 162.3,311.3 162.7,309.9 163.4,311.5 163.2,313.7" fill="none" stroke="#4aa8b2" stroke-width="0.8"/>
<polyline points="158.8,312.2 158.6,314.4 157.3,314.8" fill="none" stroke="#3e9aa4" stroke-width="0.8"/>
<polyline points="167.7,304.9 168.3,306.1 167.4,308.4 166.9,310.1 169.2,309.4" fill="none" stroke="#2a7f8c" stroke-width="0.8"/>
<polyline points="167.2,295.7 165.5,294.4 165.3,295.6" fill="none" stroke="#3f96a6" stroke-width="0.8"/>
<polyline points="177.1,296.7 177.1,298.5 175.6,297.6" fill="none" stroke="#2f8a96" stroke-width="0.8"/>
<polyline points="173.5,317.3 174.0,318.6 172.9,318.0" fill="none" stroke="#2a7f8c" stroke-width="0.8"/>
<polyline points="180.1,318.4 181.5,319.3 180.1,319.5 178.4,318.9" fill="none" stroke="#2f8a96" stroke-width="0.8"/>
<polyline points="181.3,315.5 180.7,317.5 179.2,316.3 179.7,317.8" fill="none" stroke="#3f96a6" stroke-width="0.8"/>
<polyline points="183.8,310.3 183.4,312.2 181.1,311.0 179.0,309.7" fill="none" stroke="#3e9aa4" stroke-width="0.8"/>
<polyline points="170.6,305.5 168.7,306.5 170.0,306.4 167.9,307.1" fill="none" stroke="#4aa8b2" stroke-width="0.8"/>
<polyline points="175.7,319.3 177.0,317.6 178.7,318.8 178.1,319.5" fill="none" stroke="#3558a8" stroke-width="0.8"/>
<polyline points="161.3,307.5 159.9,306.0 160.5,304.7 159.3,305.7" fill="none" stroke="#4aa8b2" stroke-width="0.8"/>
<polyline points="173.4,300.7 172.0,300.5 174.5,300.7" fill="none" stroke="#2a7f8c" stroke-width="0.8"/>
<polyline points="161.7,318.8 160.3,318.7 158.7,319.5 159.3,318.0" fill="none" stroke="#3558a8" stroke-width="0.8"/>
<polyline points="173.8,306.0 173.4,307.8 174.8,307.7 174.7,305.9 173.5,306.9" fill="none" stroke="#3e9aa4" stroke-width="0.8"/>
<polyline points="162.5,308.4 161.1,308.3 161.9,307.1" fill="none" stroke="#3f96a6" stroke-width="0.8"/>
<polyline points="180.6,314.9 181.6,315.9 180.3,314.1" fill="none" stroke="#2a7f8c" stroke-width="0.8"/>
<polyline points="184.2,297.0 182.0,297.9 181.1,296.9" fill="none" stroke="#3e9aa4" stroke-width="0.8"/>
<polyline points="179.8,317.5 178.7,315.3 179.6,313.6" fill="none" stroke="#5ab4bc" stroke-width="0.8"/>
<polyline points="184.6,305.9 184.4,304.1 182.1,305.0" fill="none" stroke="#3f96a6" stroke-width="0.8"/>
<polyline points="166.8,315.3 168.5,314.3 166.5,312.8 167.9,312.4 169.7,310.7" fill="none" stroke="#5ab4bc" stroke-width="0.8"/>
<polyline points="179.7,313.4 179.7,311.8 179.0,313.9 177.2,314.2 175.0,313.9" fill="none" stroke="#3558a8" stroke-width="0.8"/>
<polyline points="168.5,300.8 169.5,299.4 169.8,301.3 170.8,300.3" fill="none" stroke="#4aa8b2" stroke-width="0.8"/>
<polyline points="175.2,294.6 173.9,294.5 172.9,292.8 170.8,293.2" fill="none" stroke="#2f8a96" stroke-width="0.8"/>
<polyline points="163.5,307.8 165.0,308.3 166.7,306.3 166.7,307.6" fill="none" stroke="#2a7f8c" stroke-width="0.8"/>
<polyline points="161.1,317.5 161.2,315.8 162.6,315.9" fill="none" stroke="#2a7f8c" stroke-width="0.8"/>
<polyline points="164.5,295.2 165.6,297.6 165.9,298.8" fill="none" stroke="#2f8a96" stroke-width="0.8"/>
<polyline points="172.8,308.3 174.1,308.2 171.8,309.0" fill="none" stroke="#2a7f8c" stroke-width="0.8"/>
<polyline points="159.3,293.9 159.8,292.2 159.8,292.2" fill="none" stroke="#3f96a6" stroke-width="0.8"/>
<polyline points="159.6,311.2 161.1,310.0 159.3,311.7 159.7,309.5 157.3,309.5" fill="none" stroke="#2a7f8c" stroke-width="0.8"/>
<polyline points="176.9,299.9 177.6,297.6 175.7,299.2 174.6,299.7" fill="none" stroke="#2f8a96" stroke-width="0.8"/>
<circle cx="160.2" cy="314.9" r="0.55" fill="#203890"/>
<circle cx="162.1" cy="317.1" r="0.55" fill="#2040c0"/>
<circle cx="164.4" cy="299.3" r="0.55" fill="#203890"/>
<circle cx="169.4" cy="294.6" r="0.55" fill="#203890"/>
<circle cx="163.4" cy="315.8" r="0.55" fill="#2030b0"/>
<circle cx="182.2" cy="299.3" r="0.55" fill="#203890"/>
<circle cx="179.7" cy="306.7" r="0.55" fill="#2030b0"/>
<circle cx="171.6" cy="307.2" r="0.55" fill="#d04040"/>
<circle cx="177.3" cy="318.3" r="0.55" fill="#203890"/>
<circle cx="159.7" cy="316.2" r="0.55" fill="#d04040"/>
<circle cx="173.7" cy="316.4" r="0.55" fill="#2040c0"/>
<circle cx="170.1" cy="293.0" r="0.55" fill="#2030b0"/>
<circle cx="170.9" cy="303.4" r="0.55" fill="#2030b0"/>
<circle cx="169.5" cy="302.3" r="0.55" fill="#203890"/>
<circle cx="165.0" cy="298.9" r="0.55" fill="#2040c0"/>
<circle cx="180.6" cy="306.7" r="0.55" fill="#2030b0"/>
<circle cx="179.8" cy="305.6" r="0.55" fill="#2040c0"/>
<circle cx="174.0" cy="297.6" r="0.55" fill="#d04040"/>
<circle cx="179.5" cy="309.9" r="0.55" fill="#d04040"/>
<circle cx="163.0" cy="302.5" r="0.55" fill="#2040c0"/>
<circle cx="179.1" cy="314.4" r="0.55" fill="#2030b0"/>
<circle cx="160.7" cy="311.3" r="0.55" fill="#2030b0"/>
<circle cx="167.9" cy="317.0" r="0.55" fill="#2040c0"/>
<circle cx="178.9" cy="305.6" r="0.55" fill="#203890"/>
<circle cx="180.1" cy="307.2" r="0.55" fill="#2040c0"/>
<circle cx="161.5" cy="318.1" r="0.55" fill="#2040c0"/>
<circle cx="167.0" cy="301.9" r="0.55" fill="#2040c0"/>
<circle cx="158.8" cy="315.4" r="0.55" fill="#d04040"/>
<circle cx="163.6" cy="300.6" r="0.55" fill="#2030b0"/>
<circle cx="180.7" cy="311.6" r="0.55" fill="#203890"/>
<circle cx="160.4" cy="312.9" r="0.55" fill="#d04040"/>
<circle cx="160.2" cy="293.6" r="0.55" fill="#d04040"/>
<circle cx="166.2" cy="298.0" r="0.55" fill="#203890"/>
<circle cx="169.5" cy="301.2" r="0.55" fill="#2030b0"/>
<circle cx="175.9" cy="296.9" r="0.55" fill="#2030b0"/>
<circle cx="177.3" cy="311.3" r="0.55" fill="#203890"/>
<circle cx="159.2" cy="296.9" r="0.55" fill="#d04040"/>
<circle cx="166.5" cy="302.4" r="0.55" fill="#d04040"/>
<circle cx="180.4" cy="294.7" r="0.55" fill="#2030b0"/>
<circle cx="162.3" cy="292.7" r="0.55" fill="#d04040"/>
<circle cx="167.8" cy="304.5" r="0.55" fill="#203890"/>
<circle cx="171.2" cy="301.9" r="0.55" fill="#203890"/>
<circle cx="181.9" cy="297.6" r="0.55" fill="#d04040"/>
<circle cx="168.1" cy="306.2" r="0.55" fill="#2040c0"/>
<circle cx="160.3" cy="305.7" r="0.55" fill="#203890"/>
<circle cx="165.0" cy="313.3" r="0.55" fill="#203890"/>
<circle cx="175.4" cy="295.6" r="0.55" fill="#2040c0"/>
<circle cx="169.5" cy="295.6" r="0.55" fill="#203890"/>
<circle cx="172.3" cy="318.8" r="0.55" fill="#2040c0"/>
<circle cx="157.7" cy="300.7" r="0.55" fill="#2030b0"/>
<circle cx="161.7" cy="293.7" r="0.55" fill="#203890"/>
<circle cx="171.7" cy="314.4" r="0.55" fill="#2030b0"/>
<circle cx="171.4" cy="303.8" r="0.55" fill="#2040c0"/>
<circle cx="163.0" cy="314.3" r="0.55" fill="#203890"/>
<circle cx="183.9" cy="309.1" r="0.55" fill="#203890"/>
<circle cx="164.5" cy="297.9" r="0.55" fill="#203890"/>
<circle cx="170.7" cy="303.9" r="0.55" fill="#2030b0"/>
<circle cx="183.1" cy="299.2" r="0.55" fill="#2030b0"/>
<circle cx="174.1" cy="298.5" r="0.55" fill="#2040c0"/>
<circle cx="158.1" cy="304.0" r="0.55" fill="#d04040"/>
<circle cx="177.2" cy="302.8" r="0.55" fill="#d04040"/>
<circle cx="174.4" cy="299.0" r="0.55" fill="#d04040"/>
<circle cx="168.0" cy="300.0" r="0.55" fill="#d04040"/>
<rect x="143.00" y="292.80" width="3.70" height="26.70" fill="#157c78" />
<circle cx="144.3" cy="293.4" r="0.55" fill="#45b8ac"/>
<circle cx="144.6" cy="294.4" r="0.55" fill="#45b8ac"/>
<circle cx="143.9" cy="295.4" r="0.55" fill="#45b8ac"/>
<circle cx="145.7" cy="296.6" r="0.55" fill="#45b8ac"/>
<circle cx="145.4" cy="298.0" r="0.55" fill="#45b8ac"/>
<circle cx="144.9" cy="299.1" r="0.55" fill="#45b8ac"/>
<circle cx="144.2" cy="300.2" r="0.55" fill="#45b8ac"/>
<circle cx="144.3" cy="301.1" r="0.55" fill="#45b8ac"/>
<circle cx="145.5" cy="302.7" r="0.55" fill="#45b8ac"/>
<circle cx="145.5" cy="304.2" r="0.55" fill="#45b8ac"/>
<circle cx="144.5" cy="305.2" r="0.55" fill="#45b8ac"/>
<circle cx="145.3" cy="306.5" r="0.55" fill="#45b8ac"/>
<circle cx="145.6" cy="308.0" r="0.55" fill="#45b8ac"/>
<circle cx="145.1" cy="309.0" r="0.55" fill="#45b8ac"/>
<circle cx="144.9" cy="310.4" r="0.55" fill="#45b8ac"/>
<circle cx="144.8" cy="311.4" r="0.55" fill="#45b8ac"/>
<circle cx="145.8" cy="312.3" r="0.55" fill="#45b8ac"/>
<circle cx="145.0" cy="313.9" r="0.55" fill="#45b8ac"/>
<circle cx="145.7" cy="315.0" r="0.55" fill="#45b8ac"/>
<circle cx="145.7" cy="316.3" r="0.55" fill="#45b8ac"/>
<circle cx="144.9" cy="317.8" r="0.55" fill="#45b8ac"/>
<circle cx="145.1" cy="318.9" r="0.55" fill="#45b8ac"/>
<circle cx="149.61" cy="292.84" r="0.8" fill="#d83010"/>
<circle cx="151.08" cy="292.31" r="0.8" fill="#d83010"/>
<circle cx="150.80" cy="293.85" r="0.8" fill="#d83010"/>
<circle cx="150.50" cy="293.00" r="0.75" fill="#f4c828"/>
<circle cx="151.73" cy="294.04" r="0.8" fill="#d83010"/>
<circle cx="153.29" cy="294.06" r="0.8" fill="#d83010"/>
<circle cx="152.49" cy="295.40" r="0.8" fill="#d83010"/>
<circle cx="152.50" cy="294.50" r="0.75" fill="#f4c828"/>
<circle cx="155.50" cy="292.75" r="0.8" fill="#d83010"/>
<circle cx="155.40" cy="294.31" r="0.8" fill="#d83010"/>
<circle cx="154.10" cy="293.44" r="0.8" fill="#d83010"/>
<circle cx="155.00" cy="293.50" r="0.75" fill="#f4c828"/>
<circle cx="151.72" cy="295.96" r="0.8" fill="#d83010"/>
<circle cx="151.10" cy="297.39" r="0.8" fill="#d83010"/>
<circle cx="150.17" cy="296.14" r="0.8" fill="#d83010"/>
<circle cx="151.00" cy="296.50" r="0.75" fill="#f4c828"/>
<circle cx="154.16" cy="296.89" r="0.8" fill="#d83010"/>
<circle cx="153.69" cy="298.38" r="0.8" fill="#d83010"/>
<circle cx="152.64" cy="297.23" r="0.8" fill="#d83010"/>
<circle cx="153.50" cy="297.50" r="0.75" fill="#f4c828"/>
<circle cx="155.91" cy="296.68" r="0.8" fill="#d83010"/>
<circle cx="156.21" cy="295.15" r="0.8" fill="#d83010"/>
<circle cx="157.38" cy="296.18" r="0.8" fill="#d83010"/>
<circle cx="156.50" cy="296.00" r="0.75" fill="#f4c828"/>
<circle cx="151.35" cy="309.22" r="0.8" fill="#d83010"/>
<circle cx="150.32" cy="310.38" r="0.8" fill="#d83010"/>
<circle cx="149.83" cy="308.90" r="0.8" fill="#d83010"/>
<circle cx="150.50" cy="309.50" r="0.75" fill="#f4c828"/>
<circle cx="151.70" cy="311.41" r="0.8" fill="#d83010"/>
<circle cx="152.54" cy="310.10" r="0.8" fill="#d83010"/>
<circle cx="153.26" cy="311.49" r="0.8" fill="#d83010"/>
<circle cx="152.50" cy="311.00" r="0.75" fill="#f4c828"/>
<circle cx="154.69" cy="310.84" r="0.8" fill="#d83010"/>
<circle cx="154.42" cy="309.31" r="0.8" fill="#d83010"/>
<circle cx="155.89" cy="309.85" r="0.8" fill="#d83010"/>
<circle cx="155.00" cy="310.00" r="0.75" fill="#f4c828"/>
<circle cx="158.25" cy="312.00" r="0.8" fill="#d83010"/>
<circle cx="156.69" cy="311.89" r="0.8" fill="#d83010"/>
<circle cx="157.56" cy="310.60" r="0.8" fill="#d83010"/>
<circle cx="157.50" cy="311.50" r="0.75" fill="#f4c828"/>
<circle cx="149.10" cy="313.43" r="0.8" fill="#d83010"/>
<circle cx="150.51" cy="312.76" r="0.8" fill="#d83010"/>
<circle cx="150.39" cy="314.31" r="0.8" fill="#d83010"/>
<circle cx="150.00" cy="313.50" r="0.75" fill="#f4c828"/>
<circle cx="153.01" cy="315.74" r="0.8" fill="#d83010"/>
<circle cx="151.60" cy="315.07" r="0.8" fill="#d83010"/>
<circle cx="152.89" cy="314.19" r="0.8" fill="#d83010"/>
<circle cx="152.50" cy="315.00" r="0.75" fill="#f4c828"/>
<circle cx="154.86" cy="314.89" r="0.8" fill="#d83010"/>
<circle cx="154.30" cy="313.44" r="0.8" fill="#d83010"/>
<circle cx="155.84" cy="313.67" r="0.8" fill="#d83010"/>
<circle cx="155.00" cy="314.00" r="0.75" fill="#f4c828"/>
<circle cx="157.31" cy="313.92" r="0.8" fill="#d83010"/>
<circle cx="158.84" cy="314.19" r="0.8" fill="#d83010"/>
<circle cx="157.85" cy="315.39" r="0.8" fill="#d83010"/>
<circle cx="158.00" cy="314.50" r="0.75" fill="#f4c828"/>
<circle cx="160.65" cy="312.11" r="0.8" fill="#d83010"/>
<circle cx="161.19" cy="313.57" r="0.8" fill="#d83010"/>
<circle cx="159.66" cy="313.32" r="0.8" fill="#d83010"/>
<circle cx="160.50" cy="313.00" r="0.75" fill="#f4c828"/>
<circle cx="150.52" cy="316.60" r="0.8" fill="#d83010"/>
<circle cx="151.27" cy="317.96" r="0.8" fill="#d83010"/>
<circle cx="149.71" cy="317.94" r="0.8" fill="#d83010"/>
<circle cx="150.50" cy="317.50" r="0.75" fill="#f4c828"/>
<circle cx="153.77" cy="318.96" r="0.8" fill="#d83010"/>
<circle cx="152.21" cy="318.93" r="0.8" fill="#d83010"/>
<circle cx="153.02" cy="317.60" r="0.8" fill="#d83010"/>
<circle cx="153.00" cy="318.50" r="0.75" fill="#f4c828"/>
<circle cx="156.83" cy="317.84" r="0.8" fill="#d83010"/>
<circle cx="155.29" cy="318.05" r="0.8" fill="#d83010"/>
<circle cx="155.88" cy="316.61" r="0.8" fill="#d83010"/>
<circle cx="156.00" cy="317.50" r="0.75" fill="#f4c828"/>
<circle cx="158.97" cy="318.90" r="0.8" fill="#d83010"/>
<circle cx="158.24" cy="317.52" r="0.8" fill="#d83010"/>
<circle cx="159.79" cy="317.58" r="0.8" fill="#d83010"/>
<circle cx="159.00" cy="318.00" r="0.75" fill="#f4c828"/>
<circle cx="160.65" cy="316.71" r="0.8" fill="#d83010"/>
<circle cx="162.18" cy="316.41" r="0.8" fill="#d83010"/>
<circle cx="161.68" cy="317.88" r="0.8" fill="#d83010"/>
<circle cx="161.50" cy="317.00" r="0.75" fill="#f4c828"/>
<circle cx="151.48" cy="319.74" r="0.8" fill="#d83010"/>
<circle cx="151.42" cy="321.29" r="0.8" fill="#d83010"/>
<circle cx="150.10" cy="320.47" r="0.8" fill="#d83010"/>
<circle cx="151.00" cy="320.50" r="0.75" fill="#f4c828"/>
<circle cx="154.28" cy="319.64" r="0.8" fill="#d83010"/>
<circle cx="154.60" cy="321.17" r="0.8" fill="#d83010"/>
<circle cx="153.12" cy="320.68" r="0.8" fill="#d83010"/>
<circle cx="154.00" cy="320.50" r="0.75" fill="#f4c828"/>
<circle cx="163.82" cy="319.64" r="0.8" fill="#d83010"/>
<circle cx="162.90" cy="320.89" r="0.8" fill="#d83010"/>
<circle cx="162.27" cy="319.47" r="0.8" fill="#d83010"/>
<circle cx="163.00" cy="320.00" r="0.75" fill="#f4c828"/>
</svg></body></html>
